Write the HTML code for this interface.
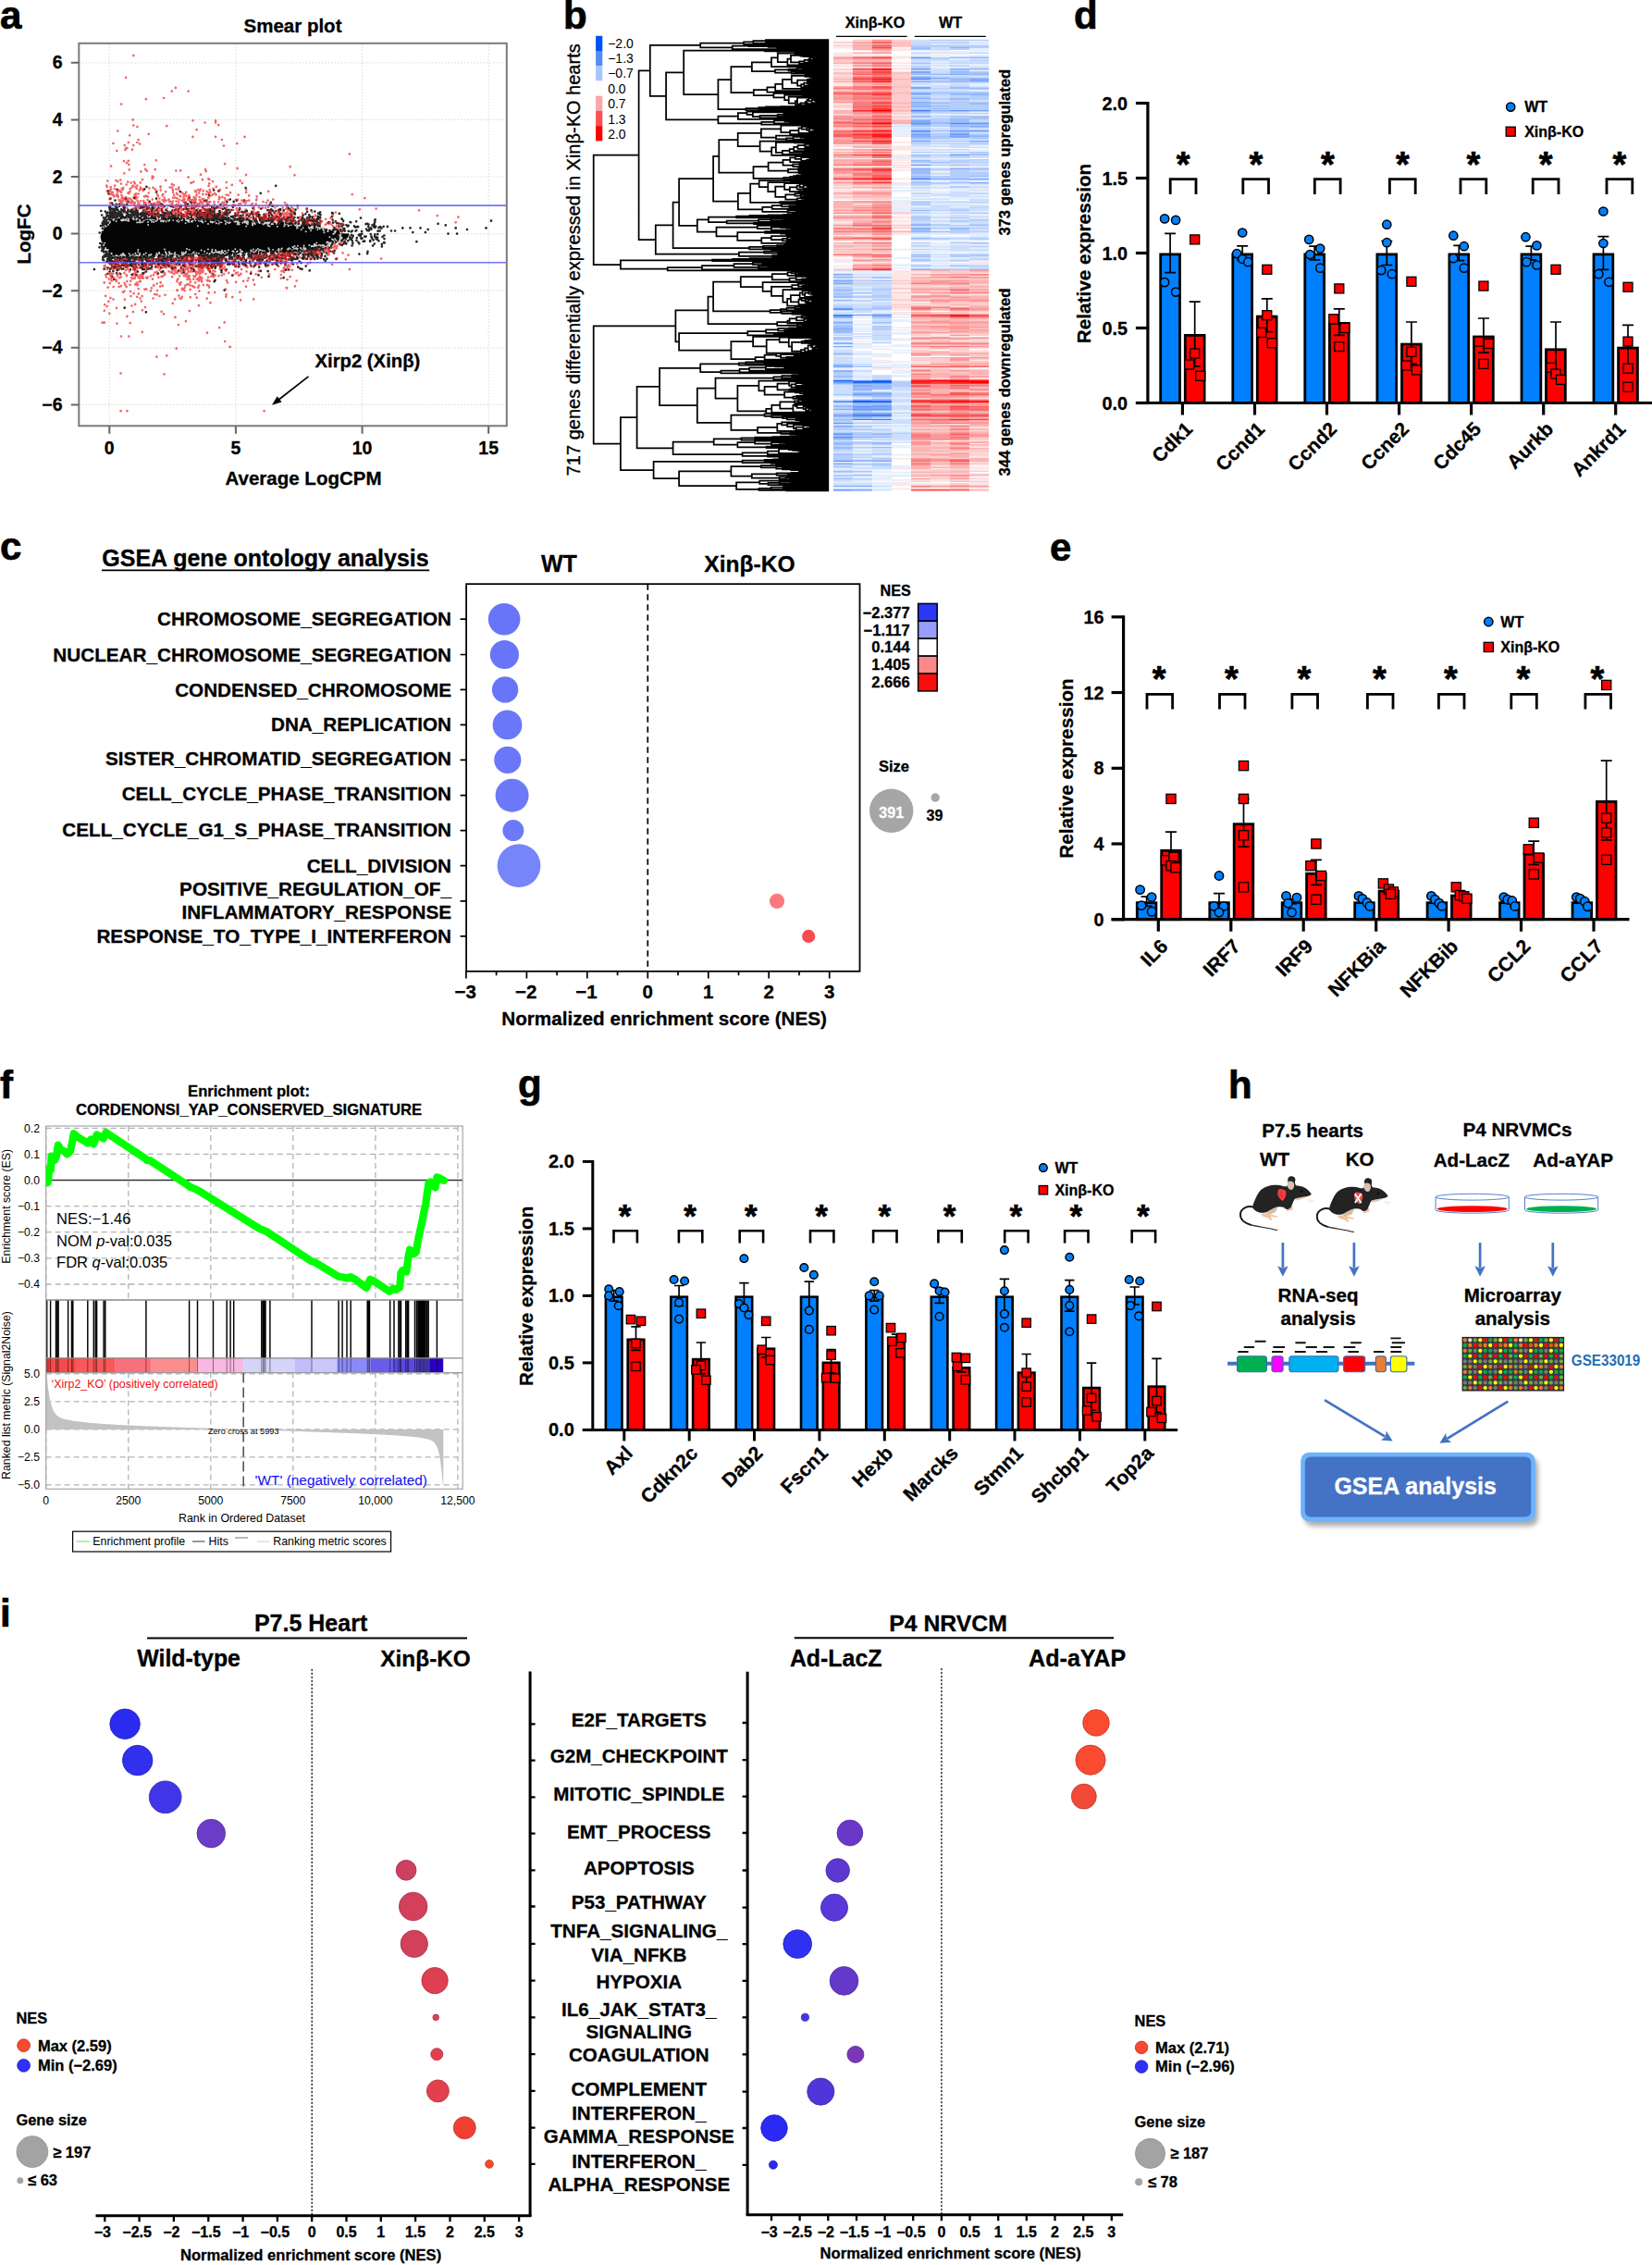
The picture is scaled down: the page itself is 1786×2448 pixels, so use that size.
<!DOCTYPE html>
<html><head><meta charset="utf-8"><title>Figure</title>
<style>
html,body{margin:0;padding:0;background:#fff}
svg{display:block}
text{font-family:"Liberation Sans", sans-serif}
</style></head><body>
<svg width="1786" height="2448" viewBox="0 0 1786 2448" font-weight="bold">
<rect width="1786" height="2448" fill="#fff"/>
<g id="pa">
<text x="0" y="31" font-size="42" stroke="#000" stroke-width=".7">a</text>
<text x="316.5" y="34.5" font-size="20.5" text-anchor="middle" stroke="#000" stroke-width=".3">Smear plot</text>
<path d="M85.3 437.4H547.8M85.3 375.8H547.8M85.3 314.2H547.8M85.3 252.6H547.8M85.3 191H547.8M85.3 129.4H547.8M85.3 67.8H547.8M118.3 46.8V460.3M254.9 46.8V460.3M391.6 46.8V460.3M528.2 46.8V460.3" stroke="#ddd" stroke-width="1.2" stroke-dasharray="1.5 2" fill="none"/>
<path d="M108.5 255.8 L111.2 245.6 L113.9 241.9 L116.7 240 L119.4 237.6 L122.1 235.4 L124.9 234.5 L127.6 235.2 L130.3 234.2 L133.1 234.4 L135.8 233.6 L138.5 234 L141.3 235.6 L144 235.3 L146.7 235.6 L149.5 234.7 L152.2 235 L154.9 236.1 L157.7 234.9 L160.4 235.7 L163.1 235.5 L165.9 234.8 L168.6 236.1 L171.3 235.6 L174.1 235.2 L176.8 234.7 L179.5 236 L182.3 236.7 L185 237 L187.7 235.5 L190.5 235.3 L193.2 235.8 L195.9 236.1 L198.7 235.6 L201.4 236.5 L204.1 237.5 L206.8 236.3 L209.6 236 L212.3 237 L215 237.8 L217.8 237.6 L220.5 237.9 L223.2 237.8 L226 237.3 L228.7 238.1 L231.4 237.2 L234.2 236.6 L236.9 237.9 L239.6 237.8 L242.4 236.6 L245.1 238.3 L247.8 238.3 L250.6 237.6 L253.3 238.9 L256 238.2 L258.8 237.1 L261.5 238.2 L264.2 238 L267 237.7 L269.7 237.9 L272.4 239 L275.2 239.8 L277.9 240 L280.6 239.9 L283.4 239.7 L286.1 240.6 L288.8 240.5 L291.6 240.8 L294.3 239.7 L297 240.6 L299.8 240.5 L302.5 239.6 L305.2 240.6 L308 241.6 L310.7 241.2 L313.4 240.3 L316.2 242.1 L318.9 241.2 L321.6 241.3 L324.4 241.6 L327.1 241.2 L329.8 242.9 L332.6 243.5 L335.3 243 L338 243.9 L340.8 243.2 L343.5 243.5 L346.2 243.9 L349 245.6 L351.7 245.9 L354.4 247.5 L357.2 247.9 L359.9 247.3 L362.6 248.3 L365.4 249.2 L368.1 251.7 L370.8 252.6 L373.6 252.6 L376.3 253.1 L376.3 257.2 L373.6 257.3 L370.8 259.8 L368.1 260.8 L365.4 261.5 L362.6 261.2 L359.9 263.4 L357.2 263.9 L354.4 265.8 L351.7 267.3 L349 267 L346.2 266.9 L343.5 267.2 L340.8 267.2 L338 269.3 L335.3 268.5 L332.6 268.9 L329.8 270.2 L327.1 269.9 L324.4 269.7 L321.6 272 L318.9 271.9 L316.2 270.4 L313.4 272.2 L310.7 272.2 L308 272.7 L305.2 272 L302.5 271.1 L299.8 273.1 L297 272.8 L294.3 273.4 L291.6 272 L288.8 273.2 L286.1 273.8 L283.4 274.2 L280.6 274.1 L277.9 274.5 L275.2 273.4 L272.4 274.1 L269.7 273.4 L267 273.6 L264.2 275.3 L261.5 274.3 L258.8 274.3 L256 274.7 L253.3 275.1 L250.6 275.6 L247.8 275.2 L245.1 275.8 L242.4 276 L239.6 274.5 L236.9 275.6 L234.2 274.8 L231.4 274.8 L228.7 275.8 L226 275 L223.2 276.4 L220.5 275.4 L217.8 276.9 L215 276.2 L212.3 275.8 L209.6 276.8 L206.8 275.3 L204.1 276 L201.4 276.2 L198.7 275.7 L195.9 276.8 L193.2 276.6 L190.5 277.3 L187.7 276.8 L185 276.7 L182.3 277.2 L179.5 276.7 L176.8 278.1 L174.1 277.8 L171.3 276.7 L168.6 277.4 L165.9 277.2 L163.1 278.1 L160.4 277.6 L157.7 278 L154.9 278.6 L152.2 279 L149.5 278.4 L146.7 278 L144 277.6 L141.3 279.2 L138.5 278.9 L135.8 279.5 L133.1 278.8 L130.3 277.7 L127.6 279.4 L124.9 278.2 L122.1 279.6 L119.4 276.5 L116.7 273.6 L113.9 270.6 L111.2 266.9 L108.5 256.1 Z" fill="#050505"/>
<path d="M279.6 273.4h0M211 275.7h0M234.2 272.6h0M132.6 235.5h0M230.4 276h0M143.1 277.3h0M263.5 238.3h0M324.7 242.5h0M280.8 240.6h0M115.7 270.2h0M246.8 270.6h0M324.6 269.1h0M117.4 274.4h0M262.4 239.7h0M251.4 271.4h0M343.2 245.3h0M324.9 268h0M115 240.9h0M311.7 271.9h0M146.9 277.3h0M254.6 238.7h0M235.4 273h0M339.4 269h0M310.6 242.4h0M255.9 271.9h0M241.4 274.6h0M290 244.1h0M241.9 275.7h0M291.6 244.4h0M162.7 237.5h0M145.7 277h0M284.4 240.3h0M129.1 235.1h0M150.2 240.2h0M147.2 276.9h0M357.4 247.3h0M339.9 263.8h0M152 234.8h0M368.2 251.5h0M192.8 237.1h0M115.2 240.5h0M196.2 235.9h0M243.1 271.2h0M169.4 274.1h0M131.9 238.6h0M180.3 276.6h0M322.9 243.7h0M243.8 238.9h0M292 272.5h0M157.7 273.6h0M179.9 274.5h0M131.8 275.6h0M127.4 277h0M253.7 238h0M271.5 272.5h0M138.5 278.7h0M178.1 277.2h0M189.3 275.2h0M185.4 277h0M368.3 255.8h0M114.1 269.1h0M226.2 236.7h0M280.6 241h0M166 277.8h0M199.1 275.1h0M124.2 278.1h0M113.8 242.4h0M282.8 239.1h0M336.1 246.1h0M121.8 276.6h0M151 237.1h0M195.5 235.7h0M173.6 235.4h0M197.2 275.6h0M233.3 276.1h0M133.7 274.4h0M147.5 277h0M273.6 273h0M262.1 272.7h0M338.3 246.6h0M308.5 242.7h0M277.1 270.6h0M324.3 241.5h0M146.3 273.8h0M324.7 270.6h0M275.5 273.9h0M207.9 239.6h0M272.7 273.1h0M237.1 275.1h0M352.2 266.5h0M281.3 273.9h0M320.2 243.8h0M171.1 277.6h0M229.6 240.6h0M130 234.3h0M277 270.4h0M265.8 238h0M189.1 273h0M113.3 262.7h0M135.9 278.5h0M285.5 239.5h0M231.1 274.1h0M368 260.4h0M232.9 237.8h0M229.3 239.3h0M348.1 267.6h0M129.5 277.2h0M357.5 262.2h0M266.8 241.2h0M170.2 237.8h0M212.4 273.6h0M227.1 236.6h0M298.9 240.9h0M328.3 268.8h0M194.4 236.4h0M350.6 266.2h0M344.2 243.7h0M211.4 275.8h0M203.8 236.1h0M183 272.3h0M326.8 242.4h0M362.2 249.7h0M242.8 275.2h0M221.2 271.7h0M320.9 246.4h0M252.7 272.2h0M122.9 238.1h0M277.4 239.9h0M236.2 274.7h0M183.3 237.9h0M302 241.4h0M235.6 237.9h0M141.2 276.1h0M320.9 270.2h0M227.7 239.6h0M146.3 278.8h0M173.5 277.3h0M172.2 236h0M320.2 268.2h0M217.3 239.3h0M303.7 270.9h0M126.2 235.5h0M259.2 239.8h0M273.6 272.1h0M134.1 276.2h0M222.2 239h0M330.4 268.4h0M308.4 242.2h0M361.5 251h0M350.7 244.6h0M362.5 262.5h0M149.6 276.8h0M354.5 250h0M110.5 262.6h0M170.5 276.7h0M143.3 236.1h0M247.3 237.5h0M128.4 278.1h0M210.9 276.8h0M249.6 237.3h0M182.4 238.8h0M233.5 271.6h0M252.1 271.4h0M189.9 276.4h0M160.5 236.4h0M220.3 237.3h0M169 276.7h0M204.2 240.1h0M161.5 235h0M163.4 275h0M191 277.2h0M307.5 242h0M138.4 238.7h0M236 272.3h0M356.4 264.4h0M116.2 273.3h0M217.9 275.4h0M295 242.2h0M300.3 270.6h0M158.3 235.7h0M118.4 241.1h0M225 269.6h0M110.8 248.4h0M339.9 267.6h0M208.8 237.3h0M122.9 236.3h0M160.9 235.6h0M343 266h0M274.1 272.6h0M120.7 273.7h0M230.6 276.1h0M343.4 248.2h0M204.3 239.6h0M178.2 236.2h0M350.1 249.2h0M348 267.6h0M116.4 270.5h0M231 239.4h0M315.2 241h0M239 274.7h0M318.5 242.7h0M267.8 242.2h0M333.7 245.4h0M130.6 275.6h0M211.8 276.8h0M118.9 237.4h0M151.8 240.6h0M178.9 272.3h0M164.2 239.2h0M226.1 276.4h0M144.6 237.3h0M304.3 269.8h0M312.6 241.3h0M206.9 239.4h0M161.8 277.6h0M183.2 275.8h0M194.8 235.7h0M246.7 273.7h0M279.7 271.6h0M322.8 242.7h0M347.5 266.4h0M123.2 278.1h0M351.6 246.7h0M266.7 274.7h0M137.6 234.6h0M146.8 276.2h0M369.7 256.9h0M162.9 276h0M322.7 241.6h0M191.2 275.9h0M118.3 237.9h0M136.4 234.4h0M282.5 273.1h0M152.6 235.4h0M216.5 237.7h0M123.4 236.2h0M217.6 270.5h0M204.6 270h0M211.5 236.2h0M344.2 244h0M139.6 274.3h0M229.8 273.1h0M143.8 275.2h0M346.3 266.8h0M258.8 237.6h0M200.4 275.5h0M245.4 273.3h0M319.1 269.7h0M188.4 274.4h0M124 234.2h0M132.5 275.8h0M271.3 270.4h0M325.4 270.5h0M353.8 265.8h0M209.7 272.6h0M321.9 265.7h0M120.8 277h0M211.3 238.2h0M252.9 238.6h0M174.8 237h0M281.2 240.4h0M111 245.6h0M230.9 237h0M229.1 271.5h0M320.5 241.9h0M221.9 275.6h0M318.4 270.4h0M349.5 244.8h0M312 269.1h0M208.2 275.9h0M116.8 269.9h0M321.7 271.5h0M144.3 235.5h0M316.5 267h0M127.1 235.4h0M194.2 237h0M345.1 245.9h0M348.9 265h0M263.8 274.7h0M157.4 277.8h0M275.4 240.9h0M153.9 239.9h0M140 277.3h0M336.7 267.5h0M175.5 235.3h0M207.7 238.7h0M260 238.1h0M169.8 277.1h0M187.1 238.1h0M336.1 249.3h0M300.4 272.5h0M272.5 240.5h0M243.2 274.5h0M279.7 272.6h0M124.2 234.8h0M248.8 240.3h0M261.6 274h0M233.4 272.5h0M113.8 269.9h0M126.6 276.5h0M336.3 244.4h0M113.1 243.7h0M264.5 240.5h0M238.1 274h0M344.7 267.7h0M158.3 278.2h0M125.3 276h0M354.4 265.7h0M217.4 236.9h0M190.4 237.1h0M272.6 238.3h0M329.3 242h0M131 238.1h0M178 269.5h0M142.1 234.7h0M253.9 239.4h0M288.1 240.8h0M342.3 262.5h0M338.6 266.3h0M328.6 265.4h0M355.4 247.2h0M266.2 240.4h0M345.7 247.3h0M111.8 267h0M223.6 274.3h0M165.1 277.2h0M256.8 275h0M137.8 278.6h0M199.6 277h0M146 278.2h0M291.1 270h0M204.5 275.6h0M338.5 244.4h0M139.2 277.9h0M356.6 263.3h0M184.7 274.2h0M144.5 278.2h0M177.9 237.6h0M176.7 239.6h0M346.5 245.4h0M331.1 270.2h0M244.8 275.2h0M200.1 275.3h0M334 269.4h0M259.3 237.6h0M162.6 278.2h0M111.2 248.7h0M324.4 243.4h0M263.9 239.2h0M321.8 270.8h0M239.5 271.6h0M237.4 274.3h0M273.1 243.5h0M341.7 265.1h0M219.7 275h0M221.2 274.9h0M208.6 275.6h0M264.3 274.5h0M200.6 241.3h0M227 237.3h0M154.1 235.3h0M170.1 237h0M230.1 274.1h0M306.1 272.4h0M297.9 272.4h0M200.6 273.5h0M195.3 277h0M368.4 253.8h0M360 263.3h0M148.6 235.9h0M300.5 239.9h0M346.7 245.4h0M163.7 235.2h0M331.9 242.1h0M290.1 240.6h0M266.8 238.3h0M111.5 264.8h0M259.1 239.1h0M329.8 268.8h0M228 240.1h0M177.6 276.3h0M214 275.5h0M175 235.7h0M333 270h0M342.3 243.9h0M237.3 273.4h0M120 274.9h0M354.3 249.9h0M136.3 238.3h0M243.1 238.1h0M245.5 237.2h0M367.2 258.1h0M212 276.3h0M275.6 242.2h0M181.3 236.3h0M347.8 244.6h0M260.7 274.5h0M354.1 261.5h0M368.2 252.1h0M351.4 266.7h0M320.3 268.2h0M168.8 277.5h0M201.8 238.1h0M252.5 275.1h0M312.6 243.6h0M179.5 239.5h0M288.6 240.4h0M319.2 243.5h0M203 237.2h0M271.9 271.6h0M281.3 240h0M210.1 275h0M325.1 241.4h0M325.9 269.6h0M280.8 270.2h0M175 276.8h0M260.3 274h0M313.9 269.3h0M344.8 265h0M363.8 259.7h0M283.7 240.2h0M247.9 241.1h0M284.4 271.8h0M170.9 277.4h0M233 270.2h0M292 272.8h0M239.4 274.7h0M290.8 241.2h0M282.8 240.8h0M359.5 262h0M157 235.1h0M268.4 238.5h0M320 268.5h0M343.1 268.3h0M165.5 236.6h0M333.8 244.1h0M198.7 276.7h0M175.4 275.5h0M324.7 243h0M196.7 238.3h0M336.8 246.7h0M315.7 241.1h0M160 239.9h0M132.8 273.9h0M213.7 237h0M188.1 277.3h0M122.1 237h0M315 243h0M270.2 273.7h0M229 272.3h0M136.4 277.2h0M136.2 277h0M205.9 276.2h0M177.1 238.6h0M158.1 277.3h0M276.7 271.6h0M239.3 273.8h0M219.4 240.6h0M226 274.8h0M368 257.5h0M233.5 237.8h0M232.7 275.9h0M272.9 242.4h0M141.7 278.9h0M166.8 277.9h0M296.9 272.7h0M227.1 274h0M304.1 271.4h0M299.6 272h0M239.4 240.3h0M347.3 267.8h0M113.9 270.5h0M211.1 236.3h0M333.6 243.9h0M268.2 240.4h0M224 273.8h0M147.7 276.2h0M273.6 241.3h0M233.9 241.3h0M257.3 239.1h0M182.8 238.4h0M114.1 267.9h0M266.2 244.4h0M174 238.9h0M287.9 272.8h0M110.5 248.6h0M179.7 273.5h0M340.5 266.3h0M185 275.6h0M258.6 242.6h0M363.3 249.5h0M253.9 238.2h0M162.1 278h0M212.8 275.9h0M350.5 266.6h0M132.9 236.9h0M310.6 269.6h0M177.5 237.2h0M233.8 275.5h0M157 236.3h0M204.3 238.6h0M148.8 276.8h0M349.6 245.4h0M274.4 273.5h0M150.6 276.8h0M115.4 270h0M163.2 236.4h0M350.4 245.6h0M220.7 236.9h0M360.3 252.9h0M329.2 242.2h0M131.8 277.6h0M119.1 238.3h0M356 263.1h0M334.2 246.2h0M133.5 236h0M256.7 271.5h0M212.2 237.2h0M330.7 250.3h0M167.7 276.4h0M354.6 249.2h0M117.3 273.6h0M177.1 236.6h0M306.1 272h0M285.8 241.4h0M279.5 240.2h0M194.2 237.7h0M208.7 237.7h0M172 273h0M231.6 273.2h0M317.5 270.1h0M352.6 246.1h0M340.8 267.6h0M350.5 251.4h0M328.8 268.3h0M323.8 241.7h0M140.1 235.4h0M124.8 235.3h0M253.8 274.1h0M218.7 276h0M150.5 236.5h0M318.9 241.6h0M237.6 239.9h0M149.9 277.9h0M273.9 269.5h0M141 277.1h0M362.1 258.2h0M350.3 266.9h0M211.4 236.9h0M298.7 240.2h0M147.6 275.7h0M242.7 238.1h0M110.6 247.5h0M346.9 265.2h0M182 276.6h0M310.1 271h0M161.2 275.6h0M299.9 244.8h0M155.6 275.2h0M320.8 243.6h0M162.6 277.1h0M328.5 267.6h0M244.7 239.7h0M334.6 247h0M133.6 236.6h0M336.5 244.4h0M174.6 239.3h0M259.4 274.3h0M202.6 236.9h0M202.7 276.9h0M322.1 241.8h0M259.7 269.8h0M185.8 274.5h0M243.4 275h0M115.5 272.6h0M136.8 235.8h0M254.3 269.3h0M301.9 240.5h0M114.7 244.8h0M136.8 278.5h0M296.3 272.7h0M262.2 240.7h0M138.7 277.8h0M263.8 274.2h0M148.3 234.4h0M324.6 242.7h0M290.3 268.2h0M311.8 244.3h0M214.1 237.3h0M256.6 242.6h0M321.7 270.9h0M286.7 240.3h0M174.8 235.3h0M138.4 278.7h0M128.1 235.1h0M168.6 238.9h0M361.9 251.7h0M339.7 265.3h0M119 239.7h0M273.2 272.5h0M271.4 238.5h0M171.5 277.8h0M184.8 236.3h0M125.8 235.1h0M132 276.2h0M339.9 244.4h0M260 237.6h0M251.9 238.4h0M268.5 273.6h0M294.5 240.9h0M341.6 245.7h0M190.7 275.5h0M196.7 274.6h0M262.2 274.9h0M350.1 266.1h0M254.6 238.8h0M180.2 276.5h0M151.3 274.1h0M267.4 238.9h0M210.8 236.4h0M202 268.9h0M286 272.6h0M218.3 237.5h0M268.7 239.4h0M323.3 271.2h0M307.3 244.6h0M179.9 276.7h0M216.7 276h0M239.4 271.8h0M336.7 267.1h0M208.6 236.8h0M201.7 238h0M211.5 236.3h0M303.7 240.1h0M208.9 237h0M147.7 236.5h0M261.1 274.1h0M361.7 261h0M359 258.4h0M358.3 263.5h0M122.4 234.7h0M191.2 238.8h0M244.4 239h0M264.5 239.5h0M227.7 274.8h0M135.8 237.1h0M240.2 270.8h0M236.5 241.7h0M309.3 241.8h0M134.1 238.3h0M192.7 275.9h0M138.8 237.1h0M289.2 241.4h0M322 269.1h0M241.2 275.1h0M256.8 274.9h0M201.8 277h0M110.8 265.5h0M348.2 246.3h0M283.6 270.8h0M155.6 238.6h0M243.6 271.6h0M259.3 238.8h0M244.7 274.9h0M117.6 273.6h0M323.8 243.9h0M319.5 269.3h0M260.4 271.8h0M295.9 239.5h0M273.3 273.7h0M200.7 236.2h0M167.2 235.3h0M261.4 271.6h0M174.8 276.5h0M151.5 276.3h0M321.9 246.2h0M218.7 239.4h0M356.7 264.3h0M285.9 271.3h0M294.9 271.7h0M315.9 270.5h0M208.5 276.1h0M362.3 250.6h0M197.1 237.3h0M197.3 274.5h0M347.1 267.2h0M210.7 236.5h0M119.2 274.7h0M198.7 277.2h0M161.1 276.9h0M254.2 239.8h0M151.4 238.8h0M166.3 239.9h0M164.1 239.7h0M241.2 273.3h0M354.7 249.2h0M264.8 240.1h0M174 276.6h0M142.7 278.4h0M331.3 243h0M117.6 274.1h0M132.4 276.7h0M311.6 270.4h0M138.4 237.8h0M319.2 242.2h0M132.9 238.1h0M142.8 234.8h0M346.1 265.3h0M353.3 262.2h0M282.4 239.5h0M343 266.2h0M174.6 238.7h0M201.5 276.6h0M347.1 266.7h0M295.1 270h0M221.9 238.5h0M150.7 275h0M354.6 264.6h0M258.1 241.1h0M259.5 273.4h0M139.1 238.7h0M262 271.8h0M363 260.3h0M311.9 240.8h0M304.7 268.6h0M369.2 258.1h0M183.1 273.8h0M225 242h0M289.7 243.3h0M163.6 278.1h0M237.2 271.9h0M319.3 241.8h0M155.4 274.7h0M251.3 274.9h0M360.3 261.9h0M162.4 237h0M145.7 235.3h0M172.9 236.8h0M144.7 234.8h0M293.8 271.8h0M196.7 272.8h0M154 277.2h0M265.5 239.3h0M163.7 237.2h0M113.3 242.4h0M183 276.8h0M138.8 235.4h0M194.3 236.1h0M257.9 238h0M112.9 243.6h0M131.9 237.5h0M138.3 234.5h0M358.5 248.5h0M112.3 265.2h0M277.4 239.1h0M304.2 271.7h0M311.2 271.7h0M275.8 272.6h0M136.6 234.2h0M158 237.1h0M193.2 239.7h0M327.6 246.2h0M172.3 274.1h0M349.2 247.5h0M345.1 264.9h0M151 234.6h0M266.6 273.6h0M146 235.9h0M133.4 277.4h0M166.8 237.4h0M110.8 246.6h0M124.5 234.6h0M341.3 265h0M324.6 269.8h0M208.5 273.6h0M200.5 275.9h0M231.8 239.6h0M248.9 275.4h0M363.1 262.3h0M285.7 239.8h0M256.8 240.4h0M278.2 239.4h0M334.8 268.6h0M302.2 271.2h0M148.2 240.6h0M203.6 274.8h0M256.7 237.5h0M361.6 261.3h0M252.4 274.7h0M278.8 268.9h0M247.9 237.6h0M229.1 274.4h0M301.1 270.3h0M317.9 268.5h0M334.3 264.9h0M243.9 242h0M325.7 248.2h0M159.9 236.7h0M311.3 269.5h0M215.1 274h0M206.8 274.9h0M229.5 269.7h0M293.8 240.3h0M366.8 260.6h0M256.3 239.6h0M198.7 273.3h0M324.5 271.1h0M246.3 240.4h0M297.5 272h0M202.5 238.2h0M318.6 265.9h0M173 236.3h0M160.2 242.9h0M224.3 275.4h0M236.8 275.5h0M254 238.9h0M337 244.6h0M175.1 238.3h0M356.4 256.3h0M236.6 238.2h0M336.8 266h0M277.5 240.2h0M329 269.6h0M169.6 275.3h0M203.8 276.5h0M272.3 273.2h0M154.2 234.9h0M231.7 239.1h0M191.7 237.8h0M115.4 240.9h0M337.6 266.3h0M147.4 237.6h0M181.1 237.5h0M261.8 272.3h0M367.7 255.8h0M134.8 276.1h0M311.1 270.8h0M316.6 270.2h0M287 241.4h0M204.3 276.5h0M201.1 238h0M284.5 242.6h0M240.9 272.6h0M149.3 270h0M112 246.3h0M310.6 270.7h0M262.5 274.3h0M298.8 241.8h0M129.2 278.4h0M156.5 235.2h0M366.5 254.1h0M297.4 272.3h0M327.8 243.3h0M177 276.6h0M307 240.1h0M122.5 234.2h0M162.1 237.4h0M161.2 275.4h0M360.2 259.3h0M337.4 245.2h0M296.8 271.8h0M337.4 246h0M349.7 265.1h0M117.1 243h0M215.3 238.7h0M316.8 267h0M272.7 239.6h0M213.8 244.3h0M336.8 266.3h0M366.5 259.8h0M217.9 236.6h0M164.7 277.8h0M203 238.9h0M262.9 273.5h0M280.8 239.1h0M321.3 244.6h0M308.3 242.1h0M293.5 242.2h0M203.9 236.1h0M233.6 237h0M149.2 272.5h0M353.4 261.8h0M141.8 277.3h0M354.1 246.4h0M301.6 269h0M312.4 268.2h0M201.2 272h0M165.4 236.8h0M344 246.1h0M344.7 267.7h0M281.5 270.3h0M214.4 237.8h0M125.7 239h0M355.4 262.2h0M118.1 275.4h0M170.2 275.2h0M194.8 237.1h0M368.3 258.9h0M364.9 255.6h0M309.8 271.4h0" stroke="#fff" stroke-opacity=".8" stroke-width="2" stroke-linecap="round" fill="none"/>
<path d="M251.8 223.8h0M152 235.6h0M116.9 280.1h0M211.6 227.9h0M223.4 232.7h0M229.8 287h0M115.2 237.8h0M226 235.5h0M303.1 226.1h0M140.9 291.4h0M176.3 286.6h0M220.4 232.7h0M124.6 226.4h0M139.5 279.2h0M287 286h0M333.5 271.1h0M344.1 267.5h0M144.8 283.2h0M336.9 275.8h0M111.5 270.7h0M286.8 232.8h0M310.1 222.2h0M180.9 229.6h0M163.9 278h0M299 284.6h0M190.2 226.5h0M374.4 263.4h0M204.1 235.2h0M287.5 234.4h0M185.9 236.6h0M293.3 226.3h0M192.7 235.5h0M339.1 242.4h0M214.7 286.4h0M220.4 232.1h0M277.8 275.4h0M262.7 273.5h0M322.9 272h0M237.8 278.3h0M157.6 233.1h0M123.6 232.3h0M283.9 237.3h0M240.9 275.3h0M172.9 276.7h0M263.1 277.7h0M284 240.2h0M144.2 286.8h0M181.6 236.6h0M179 231h0M241 232.5h0M337.2 242.7h0M115.6 233.4h0M248.3 275.7h0M186 290.4h0M222.4 277h0M119.4 231h0M228.3 281h0M184 234.5h0M336.2 275.5h0M174.5 282.3h0M115.4 230.6h0M317 238.2h0M217.3 278.7h0M221.4 277.3h0M309.2 240.7h0M287.7 238.3h0M116.7 276.1h0M135.1 281.2h0M225.6 229.6h0M222.8 230.2h0M150 235.4h0M328.7 241.8h0M195.7 233.5h0M309 279.7h0M230.7 284.7h0M215.1 283.2h0M146 230.7h0M203.3 227.5h0M136.8 284.2h0M194 285.8h0M280.5 284h0M136.5 288.7h0M253.4 274.2h0M235.2 282.8h0M122.1 278.6h0M196.5 235.1h0M224 282.6h0M219.8 237.1h0M308.6 285.9h0M144 285h0M343.7 277.7h0M130.6 233.9h0M171 285.7h0M199.2 282.4h0M242.1 276h0M155.7 223.6h0M146.8 225.4h0M286.4 274.7h0M316.4 278.3h0M254.1 280.7h0M357.8 267.4h0M153.3 230h0M213.4 233.4h0M208.1 286.5h0M293.7 238.8h0M269.3 273.6h0M219.9 282.8h0M132.4 285.4h0M220.6 236h0M141.4 282.9h0M180.4 278.8h0M219.6 232.9h0M136 214.9h0M145.1 284.8h0M216 288.2h0M306.2 271.9h0M132.6 227.7h0M228.6 274.9h0M186 276.6h0M323.7 282.7h0M154.3 287h0M323 239.8h0M209.7 292.9h0M163.5 278h0M233.8 278.6h0M136.1 283.1h0M308.8 283.9h0M175.3 236.4h0M146.4 280.6h0M319.3 280h0M344 269.7h0M280.4 232h0M339.5 268h0M293 226.9h0M194 237h0M298.7 281.3h0M369.6 236.6h0M187.2 283h0M153.6 283.8h0M212.9 234.2h0M195.7 230.5h0M335 243.8h0M112.2 267.6h0M277.6 233.5h0M138.1 230.6h0M171.2 277.4h0M202.1 234.3h0M180.7 284.4h0M218.1 282.8h0M153.7 280.5h0M295.7 236.9h0M151.9 289.2h0M111.3 280.4h0M142.4 234.8h0M364.1 241.2h0M164.7 227.1h0M235.8 234.3h0M339.5 278.4h0M133.2 235h0M332.9 269.8h0M273.9 274.5h0M152.8 289.3h0M233 232.2h0M220.2 230.1h0M187.4 233.2h0M217.4 233.9h0M321.7 222.3h0M228.5 237.2h0M185.6 278h0M177.8 282.9h0M207 282.2h0M344.1 230.6h0M336.6 237.7h0M338.2 239.1h0M144.2 230.2h0M124.9 223.4h0M268.6 274.3h0M209.4 231.3h0M327.5 242.9h0M230.5 232.2h0M230.2 237.9h0M289.8 238.5h0M262.1 284.9h0M189.2 227.1h0M309.3 239.3h0M313.4 274.5h0M266.8 232.4h0M223.6 280.1h0M283.8 235.8h0M164.3 281.8h0M303.4 233.4h0M220.9 280.5h0M198.2 291.5h0M313.5 241.8h0M231.5 233.7h0M189.3 233.2h0M335 234.8h0M371.3 243h0M235.2 275.9h0M192.6 284.1h0M353.4 279.7h0M139.5 232.3h0M350.1 280.2h0M220.2 275.8h0M249.9 234.2h0M192.7 282.3h0M292.8 275.6h0M332 274.9h0M239.5 292.2h0M291 230h0M274.8 236.7h0M228.9 275.8h0M283.1 235.5h0M319.8 270.9h0M326.2 237.9h0M340.9 271.9h0M223.4 236h0M298 234.8h0M133.1 235.2h0M114 241.9h0M262.7 232.5h0M121 234h0M231.1 282.8h0M247.6 237.2h0M229.3 232.7h0M206.2 229.1h0M128.2 291.2h0M186.9 223.6h0M333.7 270.7h0M185.2 280.3h0M275.8 278h0M136.9 233h0M230.9 277.1h0M185.1 236.2h0M329.4 278.6h0M198.4 277.4h0M295.1 279.8h0M138.5 281.7h0M214.6 287.8h0M313.3 271.3h0M110.2 232.5h0M141.6 277.8h0M291.4 238.5h0M130.2 296.1h0M332.1 271.1h0M216 280.1h0M342.1 240.6h0M107.5 267.3h0M297 276.2h0M302.5 230.7h0M241.9 277.3h0M322.6 239.4h0M303.9 282.3h0M225.5 236.6h0M225.7 277.7h0M146 235.5h0M345 270.8h0M119.9 281.1h0M160.7 224.7h0M137.2 288h0M336.2 274h0M218.1 279.7h0M238 232h0M202.8 234h0M160.3 290.8h0M238.8 237.3h0M365.8 249.9h0M259.6 237.9h0M124.4 288.1h0M228 229.7h0M154.3 295.7h0M179.7 280.7h0M128.5 280.9h0M332.6 239.5h0M125.6 285.8h0M234.5 231.7h0M247.2 235.5h0M299.8 272.2h0M294 240h0M112 243h0M183.2 231.6h0M337.3 237.2h0M123.2 226.2h0M239.9 281.5h0M275.6 239h0M244.3 275.9h0M303.8 231.3h0M121.8 225.5h0M238.1 288.5h0M143.4 279h0M243.9 276h0M156 230.5h0M204.9 283.8h0M131.9 286.6h0M335.7 269.7h0M243.9 281.4h0M316.1 241.1h0M111.1 280.4h0M326 271.2h0M124.5 227.1h0M125.6 220.9h0M118.1 281.7h0M157.5 235.7h0M176.9 230h0M289.3 227h0M246.1 285.6h0M256.3 278.9h0M131.3 280.6h0M169.5 231.6h0M223.1 234.5h0M133.7 287.1h0M140.8 287.2h0M245.3 236.5h0M160.9 232.8h0M328.8 237.2h0M216.1 228.8h0M111.6 269.4h0M376.4 253.8h0M128.2 287.6h0M234.5 281.2h0M313.4 273.4h0M242.9 229.8h0M164.3 288.3h0M219.9 280.3h0M248.5 229.4h0M144.3 278.8h0M164.7 280.7h0M208.9 275.4h0M132.1 234.1h0M243.8 279.8h0M339.2 238h0M343.5 240.7h0M208.9 280.7h0M327.6 274.9h0M175.6 221.4h0M120.1 225.7h0M238.3 233.6h0M338.8 273.6h0M221.6 236.4h0M130.5 229h0M308.9 277.2h0M237.5 236.9h0M127.7 285.9h0M175 228.2h0M139.3 280.1h0M332.4 241.2h0M276.8 230.9h0M202.5 234h0M216.5 280.9h0M125.5 223.8h0M299.9 276.7h0M210.6 219.1h0M235.8 286.2h0M292.8 280.3h0M293.7 240h0M110.7 269.9h0M142.8 278.1h0M346.2 270.6h0M136.1 235.1h0M178.6 233.6h0M258.6 285.6h0M144.9 285.5h0M214 229.7h0M174.6 294.1h0M314.6 228.2h0M204.2 276.6h0M118.7 277.4h0M202.9 236h0M197.1 232.1h0M135.4 285.8h0M144 229.2h0M258.4 285.4h0M148.3 233.6h0M334.7 292.4h0M231.5 276.8h0M211.3 230.5h0M211.7 232.2h0M116.5 282.5h0M275.8 286.7h0M213.1 234.4h0M119.9 283.6h0M272.5 273.1h0M151.8 225h0M129.1 222.8h0M256.1 276.7h0M169.9 226.7h0M351.5 276.9h0M119.1 235.6h0M121.3 232.2h0M218.2 286.2h0M307.7 236.9h0M236.6 282.4h0M216 227.7h0M182.5 288h0M207.3 219.3h0M252.6 235.6h0M136.6 277.7h0M223.9 221.5h0M217.7 233.3h0M355 240.7h0M134.7 224.7h0M110.1 263.7h0M295.2 272.1h0M341.2 242.4h0M159.2 230.9h0M147.4 288.3h0M317 271.2h0M300.2 283.2h0M322.8 241.7h0M257.6 236.8h0M259 277.1h0M220.8 235h0M146 280.1h0M326.8 235h0M208.3 278.2h0M262.3 278.9h0M214.6 279.1h0M190.8 236.8h0M162.8 231.4h0M340.6 241.9h0M312.9 235.7h0M228.1 282.4h0M303.1 271.9h0M181.3 281.6h0M184.8 284h0M271.4 275.5h0M313.7 276.2h0M207.8 278.4h0M345.5 242.5h0M153 233.8h0M344.2 236.9h0M233.1 235.7h0M351.7 281.8h0M315.7 239.6h0M334.7 269.1h0M338.8 274.1h0M270.7 231.5h0M245.3 282.6h0M110.8 246.8h0M116 277.1h0M245 275.6h0M117.9 274h0M250.5 227h0M110.1 265.6h0M214.6 236.6h0M170.4 283.3h0M246.8 274.3h0M224.1 233.4h0M138.8 281.8h0M187.5 280.8h0M167.8 236.3h0M146.5 286h0M245.1 237h0M343.5 235.4h0M202.6 230.3h0M276.3 285.2h0M176.9 233.3h0M355.3 268.8h0M341.1 275.1h0M152.9 285h0M234 234.7h0M228.7 279.7h0M322 235.3h0M260.8 238.9h0M277.8 239.7h0M328.7 279.3h0M161 232.4h0M227 228.4h0M235.4 233.5h0M215.8 275.8h0M138.9 234.6h0M335.9 280h0M337.4 268.4h0M219.3 233.7h0M265.6 281.3h0M126.7 226.9h0M117.4 279.9h0M236.5 236.7h0M133.8 226.4h0M238.5 221.1h0M163.8 234.2h0M361.6 270.9h0M297.8 285h0M191.7 277.8h0M215.8 228.7h0M294.4 236.2h0M116.4 279.9h0M200.4 275.9h0M319.2 270.9h0M262.4 284.4h0M236 279.6h0M159.5 231.1h0M296.3 271.8h0M360.1 240.7h0M259.1 225.1h0M348.1 274.8h0M335.4 234h0M214.5 280h0M224.4 234.4h0M322.4 271.4h0M174.9 226h0M195.9 236.2h0M281 235.3h0M306.7 227.3h0M234.7 234.3h0M332.6 270.9h0M329.8 274.7h0M221.8 275.5h0M113.5 277.5h0M333.6 270.6h0M224.7 228.2h0M232.5 284.9h0M300.3 238.3h0M131.6 290.6h0M229.8 276.9h0M240.8 226h0M285.3 238.1h0M164.7 232.5h0M245 228h0M179.6 280.2h0M288.2 238.5h0M336.5 227.3h0M227.2 234.8h0M292.9 273.6h0M124.8 280.7h0M147.2 228.9h0M113.9 275.4h0M235.6 231.8h0M359.9 230.7h0M235.8 276.6h0M189.4 233.9h0M292.5 229.6h0M182.7 287h0M245.7 275.3h0M338.1 272.8h0M116.6 229.6h0M146.9 284.1h0M285.3 272.9h0M136.7 282h0M126.1 232.4h0M265.4 286.1h0M334.4 238.2h0M271.2 295.7h0M355.5 240.3h0M262 229.1h0M128.7 279.9h0M230.7 235.2h0M290.9 232.8h0M117.7 234.2h0M231.5 275.4h0M122.2 221.6h0M271.5 239.2h0M325.7 237.5h0M338.2 271.4h0M120.9 233.5h0M259.3 279.4h0M339.4 270.5h0M237 231h0M271.4 287.5h0M280.6 278h0M115.3 283h0M207.5 279.9h0M272 239.4h0M228.5 278.1h0M163.6 225.9h0M341.5 241.4h0M164.7 230.7h0M121.2 298.8h0M176 230.6h0M123.1 227.8h0M187.4 233.9h0M118.9 230.1h0M291.4 279.9h0M319.8 275.1h0M186.6 232.7h0M201.3 225.8h0M167.5 284.3h0M122.1 228.5h0M224.5 282.8h0M160 279.1h0M224.8 238h0M314.2 231.5h0M352 268.2h0M230.9 233.5h0M292.7 279.7h0M113 236.7h0M238.8 236.3h0M318.5 229.6h0M231.5 232.3h0M218.2 236.1h0M206 277.4h0M274.9 287.4h0M312.2 280.4h0M206.5 218.7h0M306.8 235.1h0M167.5 234.4h0M244.7 226.9h0M238.9 276.5h0M145.5 232.1h0M165.2 235.3h0M130.5 282.4h0M147 278h0M221.8 279.3h0M264.1 275.6h0M145.7 213.8h0M343.7 267.5h0M111.6 241.3h0M114.7 274.7h0M186.1 277.4h0M335.7 272.8h0M211.4 230.7h0M327.8 275.9h0M230.3 296.5h0M108.2 263h0M239.5 278.9h0M141.7 283.8h0M287.6 239h0M239.6 287.2h0M275.8 275.2h0M265.8 287.3h0M366.4 244.6h0M224.4 289.5h0M110.7 241.1h0M252.7 217.9h0M177.1 234.6h0M148.2 278.6h0M294.6 233.7h0M121.2 232.2h0M356.7 271.5h0M164.9 223.8h0M110.6 267.9h0M140.6 228.8h0M230.4 279.9h0M359.7 272h0M132.8 277.9h0M248.6 277.9h0M330.4 231.3h0M231.9 237.8h0M149.6 280.8h0M296.5 277.3h0M126.7 224.6h0M182.2 280.9h0M190.4 285.6h0M306.2 272.6h0M218.7 289.3h0M226.9 226.2h0M141.4 284.6h0M228 235h0M229.4 277.1h0M230.1 278.1h0M206.5 286h0M346.5 232.3h0M214.7 275.8h0M231.5 232.9h0M329.4 275.9h0M215.9 281.4h0M118.8 237.6h0M201.3 223.4h0M122.6 228.4h0M281.1 274.5h0M316.5 238.5h0M229.8 235.6h0M210.4 230.3h0M319.3 274.3h0M247.3 274.8h0M147.1 284.1h0M216 237.4h0M294.5 285.6h0M236.7 277.1h0M272.4 228.9h0M123.3 227.8h0M194.6 223.3h0M129.6 280.3h0M187 290h0M176.2 293.3h0M115.1 272.7h0M243.1 231.7h0M116.3 233.1h0M173.1 280.8h0M143.2 277.9h0M185.2 277.7h0M219.4 233.1h0M142.9 231.2h0M225.3 235.4h0M139.4 286.8h0M174.4 284.5h0M337.2 270.7h0M285.4 279h0M119.6 233h0M315.4 233.2h0M163.4 235.8h0M235.1 276.9h0M349 270.5h0M345 267.2h0M135.4 286.2h0M272.1 277.6h0M149 230.2h0M152.7 279.1h0M252.4 235.4h0M181.7 285.2h0M232.9 282.6h0M336.7 275.8h0M333.8 275.4h0M254.1 232.9h0M237.2 233h0M203.5 227.7h0M124.5 285.7h0M249.1 278.4h0M262.4 279.6h0M233.2 275.6h0M190.6 236.1h0M130.2 288.4h0M176.5 284.3h0M262.7 237.8h0M299.4 272.3h0M294.9 280.6h0M143.1 287.8h0M236.6 285h0M117.8 276.7h0M118.5 284.6h0M175.3 282.6h0M216.8 232.4h0M194.4 279h0M177.8 236.2h0M281.4 236.6h0M164.2 228.1h0M167.1 230.8h0M216.9 281.3h0M216.3 282.1h0M223.4 282.2h0M128.1 286.6h0M226.8 279.1h0M270.1 282.8h0M343.7 241.5h0M344.7 235h0M184.8 230h0M368.4 248.1h0M224.1 275.6h0M331.7 237.2h0M189 281.1h0M303.6 284.4h0M278 280.9h0M233.2 288.1h0M339.8 269.2h0M161.9 281.8h0M167.9 234.8h0M226.5 279.4h0M275.8 236.8h0M281.5 277.3h0M185.4 277.7h0M230.6 281.5h0M278.9 279.7h0M234.6 237.5h0M203 230h0M337.4 238.3h0M126.6 280.6h0M143.4 226.7h0M273.6 225h0M184.4 277.9h0M207.6 279.7h0M137.5 233.1h0M278.5 278.8h0M237.2 275.9h0M112.4 242.3h0M281.5 284.8h0M292.5 279.2h0M192.8 228.7h0M257.2 232.4h0M154.1 291.1h0M328.9 240.8h0M343.3 275.3h0M160.4 231.2h0M235.9 231.4h0M163.2 278.7h0M166.8 284.1h0M346.1 229.4h0M251 278.4h0M333.8 273.3h0M192.6 282.6h0M181.3 228.6h0M332.2 238.7h0M298.9 277.4h0M285.4 234.5h0M331.8 240.7h0M246.7 285.4h0M245.8 232.2h0M345.1 234.9h0M232.9 274.8h0M155.5 227.2h0M183.4 235.6h0M174.8 277h0M220.4 232.2h0M257.7 283.4h0M127.7 233.3h0M328.2 242.5h0M233.1 278.3h0M244.6 291.4h0M229.8 227.8h0M298.8 233.9h0M334.9 272.6h0M327.6 232.7h0M143.1 287.1h0M246.4 285.3h0M230.3 237.5h0M147.1 229.6h0M286.3 235.1h0M235.6 278.8h0M107.7 251.5h0M330.9 240.7h0M229.6 235.2h0M309.6 237.1h0M307.6 272.9h0M148.4 279.2h0M152.8 230.3h0M254.6 287.9h0M130.7 231.7h0M123.6 282.3h0M239.5 281.7h0M333.4 242.9h0M288.6 281.6h0M177.7 231.7h0M219 224.2h0M132.2 286.2h0M143.4 296.8h0M221.3 226.2h0M218.8 276.4h0M363.5 279.9h0M159.3 225.4h0M196.9 232.5h0M119.1 280.4h0M273.8 234.7h0M246.1 230.4h0M160.7 236h0M177.1 278.4h0M221.5 234.8h0M212.5 222.5h0M128.6 280.5h0M306.2 240.8h0M179.3 234.1h0M166.3 279.8h0M174 281.3h0M263.7 279.2h0M171.5 279.8h0M260.5 281.1h0M301.5 241.1h0M157.7 233.5h0M299.5 278.2h0M256.7 276.3h0M224 236.3h0M254 233.7h0M277.9 231.4h0M239.5 294.2h0M314.7 234.7h0M167.2 284.5h0M114.9 276.5h0M253.1 285.4h0M273.3 274.8h0M229.2 229.7h0M113 237.1h0M237.1 228.6h0M208.6 281.5h0M269.3 238.1h0M122.1 234.9h0M331.8 225.5h0M212.4 237.1h0M300.6 234.5h0M228.1 233.5h0M259.8 279.1h0M121.5 228.8h0M323.9 269.9h0M230.5 230.4h0M127.7 232.2h0M227.2 276.3h0M245.9 237.3h0M175.5 280.1h0M239 284.2h0M155.2 277.6h0M179.4 279.9h0M356 267.8h0M210.4 230.2h0M241.7 234.4h0M174.6 233.8h0M334.5 235.1h0M314.3 272.7h0M183.4 233.3h0M120.4 276.3h0M127.3 233.1h0M216.7 232.2h0M133.4 290.5h0M304.7 236.9h0M197.9 286.8h0M216.1 228.6h0M250.8 277.9h0M184.3 277.2h0M223.2 283.1h0M227.9 232.9h0M331.6 237.9h0M281.7 282.2h0M330.8 243.3h0M280 234.3h0M225 226.6h0M121.3 287.4h0M333.1 271.1h0M337.4 272.3h0M116.3 275.2h0M230.9 230.8h0M242.2 230.6h0M205.7 282.4h0M171.8 285.3h0M218.2 234.1h0M124.1 234.7h0M318.3 279.7h0M292.8 235.7h0M270.3 278.5h0M166.8 230.8h0M233.7 224.6h0M112.3 281.3h0M169 280.3h0M224.7 233.9h0M304.2 275.6h0M274 236.9h0M125.4 282.3h0M229.3 224h0M157.6 235.9h0M303.1 238.6h0M339.4 275.5h0M142.8 283.2h0M272.8 278.8h0M216.8 278h0M283.3 277h0M163.9 285.7h0M259.8 279.9h0M223.4 277h0M134.1 226h0M205.3 231.6h0M167.6 283.5h0M311.1 274.9h0M209.8 225.1h0M158 293.5h0M231 230.8h0M137.2 220.9h0M231.2 224.5h0M293.9 271.8h0M154.2 224.4h0M119.1 237.6h0M124.4 229h0M148.3 233.9h0M304.6 276h0M229.2 289.3h0M184.4 280.4h0M141.9 226.9h0M221.4 237.4h0M195.8 222.9h0M288 272.5h0M295 222.7h0M145.8 278.6h0M160.2 289.7h0M259.4 239h0M301.9 236.9h0M224.8 276.7h0M177.5 276.9h0M311.3 238.2h0M195.4 282h0M118 278.3h0M306.2 275.5h0M235.1 232.8h0M133.1 228.1h0M162.9 278.1h0M141.6 232h0M225.7 231.6h0M226.6 279.9h0M295.6 276.2h0M180.7 280.9h0M233 233.9h0M129.2 220.8h0M263.7 229.5h0M195.7 289.5h0M152.2 277.5h0M201.1 222.1h0M261.6 235.3h0M224 276.2h0M301.9 228.2h0M288.1 275.3h0M183.2 279.9h0M341.7 240.8h0M322 272.2h0M141.2 278.5h0M225.6 279.9h0M146.2 228.3h0M372.2 261.9h0M254.7 237.1h0M126.7 234.4h0M188.7 236.2h0M309.6 241.5h0M287.6 278.2h0M263.9 283.4h0M220 278.2h0M140.6 235.1h0M273.5 231.8h0M279.1 277h0M224 286.6h0M337.1 268.6h0M337.6 271.9h0M112.1 239.1h0M198.5 232.2h0M306.2 274.6h0M171 233.8h0M341.1 269.2h0M323.2 238.8h0M190.3 279.9h0M186.4 227.6h0M384.5 249.6h0M133.2 281.3h0M324.5 290.3h0M138.9 282.6h0M138.4 217.6h0M113.5 239.5h0M299.8 286.6h0M383 244.4h0M113.3 237.1h0M158.3 277.9h0M226.7 226.5h0M201.5 222.2h0M318.9 231.4h0M141.1 285.6h0M178.1 232.7h0M326.8 235.8h0M225.3 281.5h0M328.7 279.3h0M134.4 222.3h0M253.6 277.3h0M231.6 238.1h0M187.8 280.7h0M221.1 217.1h0M166.7 276.9h0M232.4 278.2h0M139.3 232.6h0M240.6 276.3h0M277 278.6h0M123.4 289.8h0M230.5 279.6h0M328.2 271.7h0M315.5 234.9h0M223.6 236.9h0M170.9 295.6h0M258 288.3h0M323.1 270.2h0M343.7 233.9h0M195.7 277.8h0M333.1 237.2h0M133.7 223.9h0M214.2 287.7h0M283.8 281.2h0M241 236.9h0M236 235.5h0M117.9 277.8h0M408.2 256.8h0M322.3 288.7h0M375.9 244.6h0M193.4 226.1h0M114.7 239.8h0M135 283h0M227 293.5h0M149.7 285.6h0M328.7 238.4h0M230.1 286.9h0M225.2 279h0M295.3 237.8h0M343.4 279.6h0M157.4 278h0M140.6 280.5h0M333 237.7h0M281 238.2h0M136.7 229.6h0M169.2 281.8h0M290.7 227.3h0M127.4 283.1h0M116.5 276.1h0M296.4 275.3h0M284.8 239.5h0M145.4 281.6h0M241.1 233.2h0M176.9 279.6h0M149.7 231.9h0M312.2 291.4h0M299.7 281.7h0M131.1 226.4h0M216.9 285.4h0M232 234h0M219.9 232.8h0M301.1 277.9h0M217.7 279.9h0M175.8 281.1h0M239.4 238.2h0M302.1 279h0M111.3 277.9h0M155.5 295h0M158.1 228.6h0M120.9 279.2h0M123.2 282.8h0M223.4 281.6h0M328.3 277.3h0M235.1 274.8h0M156 232h0M225.7 290.5h0M198.5 282.3h0M158.6 229.6h0M343.9 244h0M347.5 276.7h0M299.4 283.7h0M184.7 234.6h0M129.7 233.3h0M166.1 225h0M346.5 238.9h0M280.3 279.1h0M171.8 234.3h0M174.3 280.5h0M155.8 234.2h0M266 283.4h0M158.2 279.6h0M152 222.9h0M127.5 278.4h0M119 223.4h0M185.6 288.8h0M293.6 272.7h0M350.3 272.1h0M174.4 232.9h0M126.5 230h0M133.5 278.2h0M347 267.8h0M248.2 285.7h0M216.9 227.4h0M225.1 237.8h0M116.6 276.9h0M240.9 235.7h0M171.6 279.7h0M204.9 285.6h0M341.7 267.7h0M193.6 282.2h0M156.9 285h0M128.6 230.3h0M155.3 223.1h0M161.1 229.1h0M229.1 285.5h0M343.5 242h0M159.8 282.5h0M146.8 225.7h0M208.6 236.8h0M335.8 268.4h0M120.1 234.7h0M349.6 268.9h0M286.2 284.2h0M226.5 236h0M230.1 277.6h0M288.4 276.6h0M380.6 265.4h0M342 270.1h0M127.1 280h0M328.8 272h0M185.4 276.9h0M228.9 230.5h0M214.7 281h0M317.2 274.3h0M224.6 278.4h0M206.1 230.8h0M352.9 273.5h0M199.1 233.9h0M346.2 235.4h0M172.2 285.2h0M188.7 235.9h0M112.2 267.1h0M243.9 229.7h0M153.3 285.4h0M120.2 289.8h0M297.3 278.4h0M168 227.7h0M158 281.1h0M138.6 226.8h0M254.5 230.5h0M131.7 231.2h0M171 231.4h0M333.7 272.4h0M277.7 272.9h0M202 278.7h0M281 279.1h0M129.4 229.4h0M228.8 279.8h0M391.5 257.7h0M198.6 294.4h0M308.3 283.6h0M317.9 230.4h0M228 235.3h0M170.9 282.6h0M327.8 279.7h0M224.1 230.9h0M132.9 284.7h0M325.6 284.1h0M152.9 234h0M165.2 284.7h0M149 234.4h0M237.6 236h0M299.2 278.7h0M318 274.7h0M405.2 254.1h0M238.5 234h0M290 236.1h0M160.5 280.1h0M176.9 282.9h0M235.1 277.3h0M295 227.8h0M216.7 275.4h0M120.2 229.3h0M181.6 230.5h0M285.6 237.5h0M326.6 278.9h0M157.8 221.5h0M241.1 276.3h0M342.1 269.4h0M146.3 279.2h0M199.5 285.5h0M165.9 221.7h0M257.7 276.3h0M288.5 276.8h0M281 272.7h0M193.4 279.6h0M231.4 230.1h0M319.8 240.3h0M321.9 279.2h0M223.2 229.8h0M240.5 284.4h0M170.8 280.6h0M342.7 269.2h0M298.4 228h0M301.5 237.3h0M337.1 270.2h0M232.8 282.2h0M308.3 276.2h0M170.8 229.6h0M215.2 229.5h0M318.6 238.8h0M155.7 233h0M123 228.9h0M180.5 278.4h0M203 226.6h0M186.7 234.9h0M121.4 287.7h0M155.9 286.4h0M220.5 283.1h0M276 237.4h0M223.8 236.5h0M327.6 236.3h0M225.8 277.3h0M263.9 216.7h0M223.3 275.9h0M282.2 225.6h0M376.3 260.2h0M147.7 232.1h0M272.4 230.2h0M136.7 230.2h0M290.9 235.7h0M119.9 285.3h0M257.6 283.4h0M301.3 226.9h0M150.2 278.4h0M120.9 225.9h0M177.6 229.9h0M270.2 275.8h0M203.2 220.6h0M302 236.4h0M110.2 266.7h0M346.4 278.5h0M236.9 283.5h0M358 265.6h0M222.6 279h0M126.1 295.3h0M276.1 274.1h0M296.7 236.7h0M340.1 279.9h0M316.2 279.8h0M229.2 281.2h0M304.9 239.4h0M122.5 230h0M218.2 282.7h0M189.5 289h0M127.7 227.3h0M217.4 229.5h0M275.8 237.1h0M203.5 226.1h0M261.3 279h0M284.5 277.6h0M129.1 229.1h0M154.1 283h0M266.4 237.4h0M225.2 236.1h0M280 279.3h0M155.8 231.3h0M137 278.9h0M112.1 272.3h0M237.3 236.8h0M241.1 276.2h0M215.3 278.3h0M273.6 281.4h0M134.4 283.1h0M164.8 223.9h0M334 270h0M251.1 238.5h0M234.3 235.3h0M235.5 236.8h0M336.2 279.8h0M231.2 286.9h0M208.8 278.1h0M242.4 231.3h0M207 233.3h0M282.4 280.2h0M289.6 286.5h0M152.2 278.3h0M119 231.3h0M324.7 273.6h0M239.4 233.7h0M342 241h0M216.1 232.9h0M258 229.6h0M347.2 267.9h0M137.1 287.4h0M191.3 276.5h0M215.1 281h0M342.6 242.1h0M139.7 282.9h0M175.4 280.3h0M332.1 279.6h0M248.2 277.8h0M228.4 227.4h0M312.4 235.2h0M341.5 238.9h0M327.3 239.6h0M303.2 279.3h0M122.7 232.9h0M143.6 285.4h0M214.9 233.9h0M126.7 231.1h0M345.5 241.1h0M144.8 289.2h0M299.8 277.7h0M309.2 271.1h0M142.2 233.6h0M223.5 234.3h0M172.4 278h0M229.6 276h0M207.4 225.3h0M291.1 277.3h0M338.9 239.6h0M328.2 278.6h0M281.8 292.9h0M158.5 235h0M145.4 233.5h0M127.3 234.2h0M124.9 283.8h0M113.9 228.6h0M256.8 237.4h0M118.8 279.4h0M326.5 290.9h0M282.1 279.9h0M333.1 277.2h0M279.9 276.2h0M224.9 280h0M157.9 287.6h0M122.5 284.3h0M253.5 237.8h0M224.4 283.3h0M226.3 282.1h0M285.3 235.8h0M215.8 228.8h0M310.3 271h0M308.2 279.4h0M332 270.9h0M305 271.3h0M138.3 228.1h0M142.2 227.8h0M115.7 232.7h0M343 269.1h0M215.9 231.6h0M157.6 223.2h0M237.5 228.2h0M117.5 236.7h0M127.4 231.5h0M151.8 277.9h0M314.9 240.5h0M247.4 226.9h0M287.4 287.4h0M223.7 282.8h0M244.5 281.5h0M141.8 284.4h0M221.9 284.6h0M148.4 234.3h0M225.5 235.8h0M213.6 235.7h0M123.1 284.4h0M316.2 278.5h0M308.1 278.8h0M205.3 285.5h0M180.7 282.8h0M115.7 240.6h0M334.1 242.9h0M231.3 228.6h0M316.9 237.3h0M336.6 238.5h0M139.1 232.2h0M242.8 237.1h0M138.5 286.3h0M265.8 283.4h0M122.3 283.7h0M134.1 229.1h0M314.8 281.1h0M233.3 275.8h0M311.2 238.8h0M159.3 225.9h0M211.8 287.8h0M340.9 269.7h0M217.4 286.7h0M315.1 228.8h0M224.7 277.2h0M339.4 275h0M214 235.4h0M125.3 282.6h0M284.3 276.4h0M239.6 277.1h0M159 278.7h0M224.5 275.5h0M261.9 235.6h0M294.9 239.2h0M221.4 231.9h0M165.3 283.8h0M322.7 275.2h0M203.5 275.8h0M342.8 239.7h0M206.9 289.9h0M156.1 291h0M346.1 270.3h0M317.9 271.4h0M178.9 236.7h0M184.6 276.4h0M359 230.2h0M245.3 232.6h0M338 234.6h0M334.2 232.4h0M110.8 243.6h0M234.9 224.3h0M181.3 228.9h0M220.2 233.5h0M213.6 231.4h0M154.7 287.7h0M231.5 236.5h0M155.7 279.8h0M262.4 238.5h0M337.9 272.9h0M321.1 277.8h0M156.2 235.5h0M240.5 236.8h0M152.1 231.7h0M220.8 287h0M229.5 231.4h0M223.6 233.5h0M219.7 275.6h0M158.3 280.7h0M259 234.6h0M141.3 232.9h0M185.1 282h0M220.7 233.8h0M165.1 278.9h0M127.7 231.2h0M201.4 276.3h0M171.3 282.9h0M341.1 268.5h0M228.2 287.6h0M342.4 239.1h0M371.4 247.1h0M180.6 285.8h0M313.8 226.6h0M120.4 233.1h0M249.4 237.5h0M157 235.8h0M154.2 288.7h0M253.9 275.4h0M130.4 231.1h0M362.7 239.3h0M348 269.6h0M179.4 226.8h0M336.3 275.4h0M222.6 286.2h0M145.7 291.1h0M179 284.8h0M319.3 241.5h0M282 278.1h0M359.6 237.6h0M230.9 229h0M139.2 282.7h0M223 227.2h0M199.5 281.8h0M220.1 231.3h0M266.8 227.9h0M311.8 224.9h0M339.1 268.8h0M256.4 278.7h0M154.3 281h0M184.2 229.3h0M314.4 280.6h0M255.5 233.1h0M221.6 285.2h0M131.7 234.9h0M346.9 279h0M221.2 229.9h0M119.4 281.9h0M234.4 234.6h0M168.4 232.6h0M284.7 272.9h0M173.5 277.8h0M157.8 286.3h0M190.2 281h0M232.7 289.8h0M223.3 216.6h0M206.8 235h0M202.1 231.8h0M153.3 232.6h0M345.2 230.7h0M220.3 277.5h0M267.6 236.8h0M159.1 290.8h0M156.9 233.3h0M212 281.4h0M340.5 237.8h0M304.1 240.7h0M122.1 235.3h0M151.2 231.6h0M333.7 237.3h0M198.5 226.3h0M201.3 280.7h0M189.4 280.7h0M252 285.8h0M157.5 230.3h0M314.8 238.4h0M234.8 277.9h0M275.9 236.8h0M173.9 289.4h0M390.3 257.6h0M316.3 238.5h0M212.7 227.1h0M313.6 270.7h0M284.2 273h0M333.2 236.4h0M233.4 275.2h0M165.2 232.6h0M197.6 277.8h0M369.9 250.2h0M334.9 268.5h0M281 276.3h0M366.3 241.6h0M144.5 231.3h0M240.2 276.1h0M291.6 221.3h0M268.5 274.3h0M293.8 273.7h0M369.7 264.9h0M124.1 278.6h0M151.7 279.7h0M151.6 277.9h0M165.8 235.7h0M197.8 279.6h0M130.5 281.8h0M121.6 229.4h0M218.6 230.2h0M280.5 235.7h0M148.5 227.5h0M154.2 232.5h0M111.7 269h0M188.3 280.2h0M173.9 277.2h0M278.7 229.6h0M157 229.7h0M170.5 231.5h0M161.8 277.9h0M291.5 283.2h0M282.8 240.1h0M188.5 281.8h0M405.2 255.7h0M182.8 278.7h0M276.9 237.7h0M239 234.4h0M224.5 289h0M247.8 283.6h0M216.7 235.1h0M226 286.3h0M297.3 275.7h0M230.7 237.8h0M133 233.8h0M171 284.4h0M217.9 284.7h0M162.7 290.2h0M177.6 236.6h0M337.8 276.7h0M342.5 277.9h0M288.1 283.5h0M177.2 285h0M143.6 277.7h0M116.2 281h0M237.9 277.7h0M148.3 278.6h0M237.7 229.8h0M200.3 281.6h0M252 233.9h0M124 230.9h0M229.6 237.2h0M316 271.7h0M267.3 236.1h0M269.6 238.6h0M230 233h0M197.3 279.9h0M321.5 279.8h0M234.2 284.4h0M223.2 281h0M173.8 220.3h0M340.4 228.5h0M314.3 278h0M109 244.1h0M160.9 229.1h0M314.1 238.3h0M344.9 266.8h0M315.9 271.8h0M275.1 279.7h0M229.3 224.5h0M143.5 279.7h0M268.7 276.1h0M128.6 232h0M258.6 277.8h0M192.9 292.7h0M192.4 233.6h0M219.8 278.2h0M266.1 281h0M158.7 281.7h0M318.4 235.1h0M227 233.1h0M240.3 234.8h0M241.3 278.9h0M347.6 273.6h0M161.5 286.5h0M134.7 227.6h0M154.1 230.2h0M122.4 231.9h0M248.3 280.1h0M332.1 235.3h0M231 280.1h0M186 231.3h0M130 278.3h0M200.6 219.3h0M316.9 285.5h0M263.6 236.7h0M144.4 232.6h0M222.7 278.4h0M111.9 235.3h0M305.5 279.1h0M233.5 281.2h0M129.6 233.1h0M330.7 287.6h0M239.7 234.2h0M153.2 223.4h0M293.4 231.8h0M296.6 230.1h0M225.6 279h0M149.8 280.1h0M111.7 239.1h0M239.1 280.5h0M314.4 241.5h0M132.8 279.2h0M245.7 231.8h0M203 282h0M245 236.2h0M114.8 276.7h0M229 288.5h0M342 275.9h0M256.7 279.5h0M119.8 232.2h0M290 236.5h0M155.1 228h0M312.4 241.5h0M253.8 281.9h0M173 232.3h0M118.7 275.2h0M168.4 288.4h0M332.1 228.8h0M285.4 276h0M184.6 222.8h0M186.2 232h0M313.9 234.5h0M316 273.3h0M334.2 269h0M334.5 243.9h0M185.4 234.3h0M206.4 276.2h0M119.1 236.6h0M311.9 276.6h0M195.1 278.5h0M115.6 230.4h0M182.6 233.2h0M330.4 239.4h0M171.3 224.7h0M302 239.6h0M250.1 234.3h0M136.5 277.8h0M143.4 286.8h0M219.2 279.2h0M210.2 231.6h0M113.7 275.5h0M235.4 234.5h0M220.1 282h0M293.6 237.3h0M238.1 236.5h0M261.4 236.1h0M219.7 235.9h0M253.1 275.8h0M279.6 231.9h0M177.8 223h0M148.9 293.6h0M140.6 280.2h0M347.1 267.8h0M327.9 241.4h0M120.9 282h0M134.7 284.6h0M301.5 274.7h0M219.7 231h0M285.5 231.9h0M225.7 286.5h0M310.8 272.7h0M237.7 238.3h0M122.4 293.1h0M171.4 286.3h0M262.4 275.9h0M246.2 235.6h0M201.9 277.1h0M224.9 236.3h0M338.8 236.8h0M252.9 285.5h0M209.4 291.3h0M128.5 230.8h0M345.6 271.3h0M340 244.7h0M147.3 296.9h0M232 225.8h0M200.5 222h0M115.6 276h0M372.3 261.1h0M118.7 232.9h0M155.6 285.3h0M249.7 274.5h0M270 239.4h0M178.6 280.2h0M258.8 226.7h0M311.3 235.2h0M151.5 235.4h0M284.2 239.2h0M112.8 276.1h0M273.9 236.1h0M379.7 250.4h0M138.6 277.6h0M280.1 281.4h0M232.8 276.4h0M316 281.4h0M203.7 235.7h0M217 284.1h0M246.7 236.5h0M269 277.4h0M193.3 231.9h0M306.2 274.2h0M190 236.1h0M237.6 285.4h0M142.1 278h0M227.9 279.9h0M319.5 226.7h0M341.9 274h0M238.1 235h0M216.5 279.4h0M203.2 230.5h0M123.5 230.3h0M148.8 229.6h0M164.1 229.6h0M336.5 269.8h0M207.8 232.6h0M113.7 239.8h0M238.6 276.5h0M272.5 230.4h0M170.1 280.1h0M263.2 236.1h0M194.8 277.8h0M234.6 275h0M126.6 292.2h0M143.8 228.8h0M144.5 281.1h0M228.3 277.9h0M249.8 277.6h0M311.5 272h0M237.1 232.8h0M270.2 284.6h0M225.1 237.2h0M142.5 229.8h0M243.5 235.1h0M332.5 270.7h0M164.4 277.3h0M280.4 232.5h0M229.4 231.5h0M287.6 238.6h0M231.7 228.3h0M283.3 239.3h0M181.1 277.3h0M271.8 274.9h0M151.7 281.4h0M269.2 233.7h0M294.6 279.6h0M260.1 233.1h0M342.4 237.2h0M229.7 236.3h0M229.5 275.1h0M125.5 235h0M229.1 235.7h0M330.2 271.5h0M119.1 227.6h0M228.9 284.2h0M179 230.9h0M235.4 276.5h0M118.5 225.8h0M213.8 230.9h0M132.1 231.6h0M251 284.7h0M254.4 282.1h0M294.1 222.6h0M233 233.4h0M304.5 236.7h0M124.1 288.1h0M202.5 235.4h0M263.3 278.2h0M296.1 274.7h0M152.9 284.1h0M242.9 225.1h0M157.8 233.8h0M139.2 280.1h0M181.5 232.2h0M237.4 275.3h0M121.2 231h0M259.3 237.7h0M265.5 228.3h0M140.6 279.4h0M146.5 278.2h0M164.7 227.2h0M181.9 235.3h0M201.4 280.7h0M164.6 280h0M176 231.1h0M305 276.6h0M317.8 270.5h0M114.5 235.1h0M143.1 228.6h0M199.3 278.1h0M340.9 268.3h0M297.4 278h0M227.3 230.6h0M183.2 287.2h0M138.6 281.1h0M252.2 283.3h0M190.1 230.9h0M275.5 275.5h0M303.1 226.9h0M245.4 238.3h0M195.5 281.7h0M164.7 234.3h0M126.7 232.4h0M369.6 259.9h0M115.1 239.1h0M119.5 284.2h0M261.2 229h0M259.3 235.7h0M165.4 282.4h0M226.5 236.6h0M179.8 278.9h0M147.7 230.6h0M131.7 231.2h0M114.2 272.1h0M296.9 236.1h0M223.6 237.7h0M331.7 280h0M228.8 281.7h0M257 236.6h0M345.6 244.2h0M230.6 236.4h0M200.7 281.4h0M211.9 288h0M373.7 258.4h0M178.4 287.6h0M237.1 281.3h0M141.3 285.9h0M147.8 280.2h0M118.3 224.2h0M333.6 277h0M251 280h0M397.1 241.8h0M408 258.8h0M410.7 249.5h0M418.9 244.9h0M427.1 249.5h0M435.3 246.4h0M446.3 251.1h0M450.4 261.2h0M454.5 246.4h0M462.7 248h0M473.6 241.8h0M481.8 243.4h0M484.5 252.6h0M492.7 246.4h0M494.1 252.6h0M505 248h0M525.5 246.4h0M531 238.7h0M394.3 255.7h0M402.5 243.4h0M409.4 260.3h0M423 249.5h0M443.5 246.4h0M459.9 251.1h0M101.9 291.1h0M110.1 271.1h0M109.3 228h0M116.9 206.4h0M117.5 209.5h0M279.5 297.3h0M290.5 298.8h0M242.7 313.6h0M134.7 332.7h0M157.9 337.3h0M389.1 253.3h0M401.4 247.8h0M403.1 265.6h0M406.3 244.8h0M398.5 242.5h0M361.1 273.5h0M412.9 266.4h0M401.1 246.3h0M364.5 254.5h0M400.8 253.1h0M378.2 256.3h0M405.3 245.9h0M395.6 255.6h0M369.4 236.6h0M404.8 263.5h0M394.2 260.7h0M415.4 254.5h0M392.7 260.8h0M391.3 252.8h0M404.7 243.4h0M405.7 237.3h0M387.8 254.1h0M381.5 254.8h0M412.9 263.9h0M401.7 256.6h0M361.4 246.1h0M403.6 259.4h0M361.8 247h0M387.2 245.1h0M401.5 255.5h0M402.4 257.7h0M373.1 261.6h0M397.5 271.9h0M388.4 263.3h0M379.2 240.3h0M378.4 258.3h0M396.1 247.6h0M409.5 246.2h0M385.4 249h0M385.8 257.1h0M372.4 247h0M381.4 262.9h0M380.9 249.5h0M398.4 244.9h0M376.7 243.8h0M384.8 245.5h0M415.5 258.1h0M414.6 244.9h0M400.2 260.1h0M371.7 248.7h0M367.6 264.1h0M364.9 248.8h0M386.1 245.2h0M378.6 240h0M397 249.1h0M380.8 260.3h0M363.3 248h0M405.1 238.5h0M366.8 230.8h0M379.8 254.1h0M389.7 254.9h0M379.8 258.4h0M400.2 260.9h0M391.1 250.1h0M365.5 258.6h0M368.4 249.6h0M388.9 254.4h0M387.4 261.8h0M397.2 274.1h0M371.1 238.7h0M359.3 264h0M380.8 257h0M381.7 254.9h0M404.2 245.3h0M408.3 253.2h0M385.2 239.3h0M366.4 252.2h0M415.7 262.4h0M411 245.1h0M365.1 255.2h0M405.3 240.1h0M368.9 242.2h0M399.3 247.3h0M408.6 249.7h0M388.4 274.6h0M403.8 243.5h0M371.8 253.6h0M385.4 259.8h0M376.8 249.9h0M374.5 243.3h0M369.6 244.7h0M391 257.5h0M405.4 253.4h0M413.5 255.9h0M412.3 246.7h0M406.5 258.1h0M395.6 242.2h0M398.9 249.3h0M390 235.6h0M406.8 256.3h0M415.1 262.2h0M358.9 234.2h0M404.6 241.8h0M384.1 245.4h0M362.9 261.7h0M371.6 263.4h0M372.9 249.6h0M359.9 262.3h0M376.4 244.1h0M375.4 253.6h0M204.7 213.5h0M251.2 297.7h0M292.8 218.8h0M116.6 289.5h0M144 285.1h0M169.1 207.6h0M169.1 214.6h0M232.6 302.8h0M309.1 291.7h0M163.7 221.7h0M306.6 300.2h0M289.7 293.2h0M226 210.7h0M298.2 200.8h0M119.4 214.8h0M236.4 206.4h0M124.5 216.6h0M248.3 285.3h0M158.4 201.8h0M119.1 290.7h0M281.8 208.8h0M126.6 204.8h0M266 287.2h0M157.5 284.6h0M125.9 289.2h0M142.6 296.8h0M265.6 203h0M121 219.5h0M194.8 207.2h0M245.3 218.3h0M231.1 205.5h0M118.6 293.5h0M156.2 204.4h0M123.3 302h0M112.6 290.8h0M248.8 215.5h0M280.3 288.7h0M255.9 216.7h0M199.6 288h0M144.8 213.8h0M163 285.4h0M161.7 217.8h0M263.5 286h0M116.4 296h0M231.8 304.2h0" stroke="#000" stroke-opacity=".85" stroke-width="2.7" stroke-linecap="round" fill="none"/>
<path d="M215.8 280.1h0M225.1 218.7h0M199.7 311.1h0M230.7 288.3h0M250.8 199.9h0M156.3 178h0M347.5 239.4h0M151.2 222.5h0M195.5 291.5h0M172.4 217.9h0M170.2 217.8h0M203.6 280.7h0M173.1 225.9h0M205.7 321.2h0M230.3 292.5h0M187.6 288.1h0M217.7 300.2h0M311.1 291.1h0M142.2 300.1h0M230.1 210.3h0M143.5 200.8h0M194.6 307.8h0M271.4 293.9h0M114.3 289h0M285.7 234.9h0M219.5 290.1h0M127.7 281.1h0M115.9 206.8h0M281.9 283.8h0M314.3 232.2h0M156.9 332.1h0M318.9 309.4h0M296.8 284h0M314.8 273.4h0M209.3 225h0M179 207.3h0M321.1 272.8h0M306.6 274.3h0M134.8 306h0M186.9 229.3h0M226 193.7h0M266 189.1h0M211.2 227.6h0M144 281h0M227 234.5h0M210.8 299h0M136.3 280.4h0M179.2 194.9h0M306.4 276.3h0M230.2 287.2h0M195.4 221.8h0M205 228.7h0M280.7 278.5h0M152.4 287.2h0M162.8 285.8h0M273.9 302.6h0M207.8 232.3h0M145.4 285.5h0M119 219.6h0M299.9 238.6h0M151.6 297.2h0M124.8 287h0M168.3 286.9h0M205.7 217.1h0M232.1 316.1h0M167.7 183.2h0M254.1 287h0M139.8 183.4h0M216.2 290.5h0M300.6 281.9h0M242.4 220.8h0M201.2 211.8h0M202.2 307.6h0M169.7 318.4h0M209 227.6h0M278 278.9h0M123.4 300.6h0M217.4 227.4h0M223.9 307.9h0M171.3 220.2h0M125.7 304.1h0M254 222h0M225.4 214.2h0M146.7 202.3h0M207 291.4h0M141.3 303.7h0M279.8 293.1h0M146.1 328.9h0M159.5 285.4h0M146.6 215.1h0M151.2 281.4h0M345.9 275.2h0M126.8 298.4h0M175.8 308.9h0M208 222.4h0M244.5 221.1h0M337.5 279.2h0M128.6 306.1h0M185.8 285.9h0M213.9 205.1h0M139.1 218.8h0M139.1 287.1h0M131.1 207.9h0M226.8 222.5h0M129.6 216.6h0M183 217.8h0M197.5 292.1h0M191.9 226.1h0M215 330.2h0M137.7 287h0M331.6 241.3h0M302.5 277.2h0M132.3 212.9h0M292.1 280h0M309.2 282.1h0M290.8 281.6h0M244.3 320.7h0M324.1 278.1h0M165.7 191.3h0M124.1 200.7h0M120.7 303.6h0M151.8 197.4h0M143.9 337.2h0M141.6 219.8h0M306.8 275.6h0M143.9 296h0M215.6 299.2h0M199.9 209.8h0M192.9 221.7h0M224.4 289.4h0M276.7 296.3h0M189.6 230.9h0M318.5 189.3h0M232.9 279.2h0M211.3 224h0M164.3 282.3h0M206.8 228.9h0M280.1 275.6h0M210 232.8h0M209 230.5h0M174.5 278.7h0M175.7 224.4h0M274.3 278.3h0M302.8 279h0M298.3 235.7h0M170.3 279.9h0M130.8 299.3h0M313.5 236.8h0M302.4 236.9h0M159.7 299.5h0M142.2 218.1h0M276.6 230.9h0M227.4 289.6h0M145.6 213.2h0M224.4 228.9h0M167.4 219.5h0M129.1 295.3h0M149.1 223.9h0M173.2 279.3h0M303.9 300.8h0M206 293.5h0M216.9 217.1h0M169.1 232.8h0M161 219.2h0M279.4 286h0M297.4 224.5h0M218.9 291.8h0M267.6 303.3h0M226 303.3h0M304.8 281.2h0M303.6 283.3h0M339.9 272.1h0M135.4 308h0M126 210.6h0M151 289h0M135.9 292.2h0M310 275.8h0M240.4 285.5h0M196.5 226.9h0M253.4 281.7h0M155.2 217h0M148.7 290h0M231.8 220.7h0M196.9 295.6h0M216.7 204.5h0M216.6 292.9h0M292 282.1h0M241.6 232.3h0M287.5 235h0M214.4 301.1h0M287.1 224.7h0M355.3 272.1h0M277 235.9h0M224.1 229.8h0M226.9 280.5h0M168.8 288.4h0M206.7 285.5h0M138.8 173.9h0M216 206.2h0M214.9 293.7h0M120.3 298.7h0M197 208.5h0M204.2 284.3h0M369.8 250.1h0M151.9 297.9h0M218.3 300.3h0M215.6 301.6h0M317.2 277.4h0M141.5 320.1h0M232.6 297.7h0M339.3 274.6h0M149.1 279.9h0M142.5 300.5h0M146 292.8h0M182.7 284.3h0M364.1 268.4h0M193.6 215.8h0M265.7 226.5h0M162.7 225.3h0M212.2 295.4h0M239.1 225.1h0M308.2 286.8h0M203.6 293.7h0M257.8 297.4h0M227.4 285.9h0M140.8 214.6h0M364 244.1h0M217.9 284.2h0M205.2 288.7h0M123.5 212h0M169.8 283.9h0M197.8 231.8h0M126.8 210.3h0M121.6 290.8h0M197.8 290.3h0M135.1 214h0M198.5 209.8h0M209.4 278.2h0M120.4 284.4h0M224.2 218.8h0M193.3 223.3h0M173.6 202.4h0M230.3 295.7h0M210.4 310.6h0M120.1 204.5h0M306.7 278h0M149.8 317.4h0M244.6 318.4h0M307.3 283.3h0M179 284.1h0M310.8 281.4h0M142.5 330.5h0M169.5 220.9h0M300.9 274.4h0M192.1 284.5h0M132.2 221.3h0M337.4 236.7h0M277.3 231.6h0M188.6 280.6h0M172.9 283.6h0M130.9 309.2h0M249 208.2h0M131 285h0M219.3 209.9h0M308 231.2h0M260.1 324.3h0M119.5 214h0M277.8 234.1h0M197 311.9h0M227.9 294.9h0M293.2 275.6h0M292.6 277.7h0M155.7 289h0M189.5 291.5h0M225.2 299.7h0M186.4 284.9h0M117.9 301.5h0M310.4 280.3h0M242.1 279.5h0M173.8 305.6h0M219.6 293.1h0M239.2 224.6h0M187 291.8h0M207.9 216.1h0M284.5 218h0M126 332.9h0M294.6 277.8h0M222.5 296h0M134.7 285h0M204.4 281.1h0M192.1 287h0M259.5 278.4h0M199.5 283.8h0M285.5 233.6h0M211 285.1h0M201.3 207.8h0M198.5 234.2h0M296.9 238h0M133.8 283.5h0M187.4 228.6h0M163.9 282.9h0M263.3 218.4h0M355.6 241.9h0M118.8 296h0M113.2 287.3h0M354.7 269.1h0M213.8 222.7h0M264.2 216.8h0M175.8 228h0M169.5 293.8h0M168.5 228.1h0M129.9 289.1h0M154.3 297.9h0M271.1 235.1h0M194.2 211.5h0M187.2 213.7h0M224.6 287.5h0M331.6 226.2h0M189.1 224h0M217.7 289.9h0M303.3 281.4h0M147 209.3h0M274.4 224.1h0M161.1 285h0M316.9 225.6h0M130.2 194.6h0M183.5 284.3h0M259.1 287.7h0M301.2 287.5h0M178.2 295.4h0M157.2 293.6h0M298.1 232.2h0M117.5 283.6h0M313.9 237h0M127.9 285.1h0M186.6 218.6h0M133.9 174.1h0M216 219.7h0M195.3 229.2h0M226 211.9h0M307.1 294.2h0M236.4 277.3h0M225.8 291.5h0M267.5 230.4h0M306.8 292.7h0M141.1 315h0M230.5 230.6h0M201 278.1h0M220.4 234.6h0M206.5 291.6h0M229.7 210.6h0M130.3 220.1h0M145.8 301h0M315.8 236.2h0M130 206.7h0M191.8 302.3h0M211.3 227.7h0M310.6 302.2h0M257.9 233.3h0M269.9 236.9h0M210.4 215.2h0M212.3 281.5h0M261.1 291.2h0M146.4 213.4h0M191.7 227.2h0M149.7 312h0M198.6 280.8h0M277.6 212.3h0M311 287.4h0M154.9 300.7h0M335.5 278.4h0M226.7 304h0M209.8 222.5h0M134.4 295.1h0M162.9 314.4h0M238.7 233.3h0M211.8 216.2h0M227.2 235.3h0M145.4 210.5h0M123.7 204h0M212.7 222.6h0M145.8 198.4h0M216.1 291.5h0M308.7 231.1h0M139.4 177.8h0M204.6 214.7h0M335.4 283.7h0M194.1 298.3h0M137.4 285.7h0M316.4 273.9h0M353 270.7h0M291.1 296.7h0M320.7 303.5h0M205.7 225.6h0M188.1 228.8h0M280.8 278.4h0M264 286.7h0M144.6 291.4h0M352.2 236.9h0M166.7 229.2h0M193.1 204.6h0M189 228.5h0M214.9 291.1h0M203.6 213.3h0M214.1 288.7h0M215.2 308.5h0M218.5 218.3h0M162.2 283.9h0M209.4 228.6h0M201.2 290.6h0M187 224.2h0M126.6 289.6h0M311.3 238.8h0M243.4 228.7h0M148.4 284.2h0M290.1 223.7h0M297.3 291.1h0M271.5 281.1h0M164.7 230.9h0M135.6 288.7h0M132.9 315.8h0M217.3 280.5h0M165.4 202.8h0M158.3 288.4h0M313 275.2h0M224.4 303.4h0M218.5 282.8h0M183.5 286.3h0M201.6 298.8h0M116.7 310.7h0M212.9 301.8h0M300.2 236.2h0M237.3 206.2h0M149.6 209.6h0M223.6 206.8h0M327 230.7h0M196.6 216.6h0M159.6 222.9h0M274 229.4h0M239.9 289.3h0M225.5 225.7h0M203.4 231.3h0M134.9 323.6h0M126.5 286.1h0M215.5 278.1h0M218 279.3h0M137.3 224.7h0M204.8 336.1h0M258.3 280.1h0M150.5 224.9h0M187.8 279.2h0M223.1 218.3h0M296.6 235.1h0M211.6 231.3h0M129.2 300.2h0M172 218.8h0M147.2 292.3h0M116.3 195.6h0M273.8 276.7h0M182.5 293.3h0M166.3 308h0M131.4 281.6h0M180.5 281.9h0M276.7 220.3h0M125.9 302.9h0M201.1 223.1h0M316.6 233.9h0M147.5 306.2h0M155.7 280.2h0M298.3 233.8h0M300.7 276.7h0M134.5 314.8h0M144.4 201h0M302.2 232.8h0M195 292.7h0M270.6 279.6h0M212.4 297h0M144.1 290.3h0M255.2 304.8h0M237.7 285.9h0M140.6 307.8h0M215.4 284.3h0M227.5 207.6h0M261.7 229.7h0M215.6 213h0M212.4 211.6h0M212.7 321.7h0M137.7 287.7h0M215.9 291.2h0M148.5 308.3h0M221 283.1h0M121.7 210.6h0M304.6 278.1h0M214.3 310.8h0M131.4 211.1h0M162.3 227.5h0M310.3 229.7h0M333.1 240.2h0M353.3 241.6h0M144.3 225.3h0M370.8 241.6h0M174.3 220.2h0M226.5 281.3h0M244.7 210.6h0M129 206h0M265.6 230.6h0M362.7 266.2h0M169.2 285h0M313.1 237.5h0M190.4 204.5h0M119.7 298.1h0M286.7 232.3h0M201.7 295.8h0M319.2 238.9h0M193.2 218.6h0M252.6 285.5h0M181.5 282.6h0M363.1 268.5h0M180.4 287.5h0M186.1 220.6h0M199.3 278.7h0M222.3 231h0M205.9 285.8h0M142.2 218.6h0M159.8 212.7h0M267.1 288.1h0M308.7 278.4h0M222.5 288.3h0M218.9 194.2h0M352 270.3h0M284.1 224.6h0M149.4 219.8h0M164.6 193h0M140.7 204h0M194.5 322.5h0M189.8 230.9h0M218.8 230.7h0M153.7 204.6h0M290.6 286.6h0M151.8 298h0M278 282.6h0M250.6 284.8h0M259 297.5h0M215.8 230.3h0M261.9 197.8h0M218.6 286.6h0M278.7 275.3h0M139.6 208.9h0M127.7 212.1h0M190.6 217.6h0M226.4 194.1h0M209.7 278.2h0M253.2 221.3h0M289.7 216.6h0M218 302.3h0M158.2 287h0M208.4 286.4h0M201.9 289.6h0M212.4 294.9h0M214.7 289.5h0M170.1 282.6h0M121.2 285.2h0M163.1 220.1h0M203.6 289.2h0M183.7 202.5h0M309 274.2h0M236.9 215.2h0M160 290.9h0M271.4 286.4h0M203.9 277.6h0M185.8 199.2h0M209.4 216.1h0M233.1 283.9h0M141.8 197.5h0M224.5 280.2h0M266.6 293.5h0M122 299.8h0M119.7 209.7h0M192.4 283.8h0M140.1 218.5h0M260.4 295.9h0M159 300.7h0M174.6 336.8h0M226.2 198.3h0M368.4 262.1h0M160.8 224.9h0M198.7 214.7h0M294.1 277.9h0M366.2 247.1h0M211.5 219h0M299.8 222.6h0M217.5 290.8h0M286.9 283h0M175.6 211.4h0M189.2 285.1h0M171.5 287.3h0M355.5 275.2h0M159.3 212.2h0M142.6 202.5h0M148.7 223.2h0M136.6 218.1h0M321.2 285.1h0M347.3 278.7h0M314.2 236.5h0M123.2 212.6h0M191.3 313.5h0M228.3 298.7h0M133.2 203h0M293 228.7h0M136.8 285.3h0M154.6 296.8h0M209.9 221.5h0M177.9 286.6h0M206.9 197.8h0M191.1 223.4h0M211 234.5h0M138.6 208.3h0M174.9 285.9h0M260.2 220h0M197 312.9h0M131.7 204.1h0M128.6 286.3h0M152.9 298.8h0M191.5 209.9h0M183 232.5h0M237.6 287.2h0M126.9 290h0M226.3 234.5h0M296.2 235.9h0M126.5 220.6h0M192.5 230.1h0M119.4 322.1h0M176.1 298.4h0M254.8 215.9h0M149.1 307.8h0M240.3 218.9h0M132.8 280.6h0M134.6 215.7h0M186.9 205.2h0M297.2 280h0M244 312.5h0M255.8 225.1h0M274.7 226.6h0M236 218.3h0M361.1 266.5h0M135.8 285.6h0M207.3 292.1h0M204.1 284.5h0M233.8 201.9h0M232.2 208.9h0M305.7 230.2h0M229.9 224.6h0M211.2 318h0M217 188.7h0M282.8 299.8h0M363.3 246.5h0M311.8 238.4h0M292.7 235.3h0M168.1 284.6h0M157.8 312.6h0M242.1 218.8h0M192.9 292.8h0M147.8 203.8h0M285.1 284h0M249.3 227.1h0M244.9 303.1h0M316.6 227.8h0M164.8 190.7h0M147.1 289.7h0M188.3 296.1h0M187 217.5h0M229.2 230.8h0M279.1 275.6h0M181.9 222.3h0M310.9 230.6h0M233.6 210.6h0M184.6 285h0M298.9 236.1h0M277.4 215.6h0M232.3 284.8h0M157.2 182.9h0M257.1 215.8h0M312 231.6h0M219.3 219.8h0M226.9 207.5h0M189.1 323.4h0M288.8 278.4h0M122.6 310.1h0M153.7 320.1h0M222.4 217.3h0M277.8 212.6h0M215.8 288.9h0M128 205.5h0M218 294.5h0M217.2 219.1h0M210.6 227.1h0M303.8 282.2h0M304.5 273.1h0M341 232.7h0M163 231.8h0M229.3 227.6h0M222.5 277.8h0M245.4 224.4h0M218.1 304.4h0M173.6 227h0M222.7 185.1h0M151.6 204.1h0M187.2 230.4h0M187.1 207.7h0M157.4 219h0M170 314.1h0M199.1 281.1h0M237 212.9h0M360.4 267.6h0M216 302.6h0M167.5 223.8h0M246.4 280.4h0M202.9 227.1h0M225.6 200.9h0M155 288.5h0M345.2 273.5h0M223.5 223h0M124.8 290.3h0M140.6 206.9h0M341.8 240.8h0M355.1 272.8h0M262.5 234.9h0M321 274.1h0M226.1 310.6h0M192.8 231h0M216.7 294.3h0M177.2 288.3h0M184.8 285.4h0M132.5 222.2h0M144.2 285.7h0M137.4 304.1h0M201.6 297.8h0M161.3 230.6h0M176.6 216.8h0M164.5 229.9h0M197.9 312.4h0M266 309.7h0M209 289.2h0M277.9 233.4h0M247.4 231.7h0M131.3 282h0M211.2 293.6h0M209.5 277.9h0M297.8 276.1h0M345.2 271.2h0M166.2 308.7h0M136.1 215.8h0M239.8 289.5h0M209.4 298.3h0M130.4 218.7h0M345.1 242h0M205.7 312.9h0M355.9 269.3h0M206.5 197.5h0M219.8 289.1h0M295.7 233.7h0M203.2 290.4h0M226.5 232.9h0M297.5 235.9h0M206.8 284.9h0M259.6 225.8h0M138.4 214.7h0M121.9 207.9h0M351.6 243.1h0M216.1 288.5h0M309.3 284.5h0M305.4 283.9h0M199.6 215.3h0M268.7 300.6h0M138.1 286.2h0M120.6 295.6h0M150.7 205.8h0M156.5 286.4h0M171.1 289.2h0M217.6 299.9h0M148.6 216.9h0M208.8 280.2h0M293.8 221.5h0M267.3 289h0M297.7 228.5h0M193.3 229.6h0M146.2 290.5h0M122.5 323.5h0M190.6 226.7h0M310.6 289.4h0M219.2 290.1h0M358.6 267.4h0M164.7 220.6h0M189.4 342.9h0M150.2 220h0M273.7 279.8h0M198.7 282.6h0M306.2 237.2h0M186.7 327.9h0M275.1 307.6h0M220.7 283.4h0M258.2 220.5h0M180.4 285h0M222.9 284.2h0M212.4 296.4h0M174.3 223h0M218.5 214.9h0M193.4 283h0M210.6 228.6h0M281.6 234.3h0M283.3 275.7h0M173.5 288h0M144.6 219.6h0M215 303.5h0M285.4 277.6h0M130.9 198.6h0M209.7 278.9h0M173.3 283.6h0M196.1 322.6h0M219.3 294.2h0M155.5 218.4h0M122.7 210.8h0M327.8 237.8h0M280 224.3h0M309.2 226h0M246.6 216.3h0M159.8 284.1h0M219.2 225h0M217.6 293.8h0M116.6 207.4h0M274.1 288.7h0M142.5 217h0M148.2 320.8h0M183.9 221.8h0M286.4 236h0M222.3 226.1h0M190.7 231.9h0M360.7 272.2h0M295.6 275.8h0M213.2 295.2h0M207.1 230.3h0M150.2 225.1h0M182.5 215.5h0M243.8 216.5h0M121.1 287.5h0M239.8 229.3h0M119.2 219.6h0M152.7 325.6h0M269.5 231.4h0M234.4 231.1h0M127.7 213h0M243.1 177.1h0M287.2 235h0M202.3 232.4h0M232.5 293.3h0M187.6 292h0M288 219.2h0M253.2 292.6h0M202 229.9h0M279 229.3h0M277.9 278.6h0M251.9 221.7h0M178 216.1h0M131.5 214.3h0M202.8 298.7h0M284.9 237.9h0M313.3 278.3h0M354.3 266.7h0M122.2 295.8h0M311.5 276.6h0M312.2 230.5h0M187.8 200h0M165.1 284.2h0M157.9 289.1h0M165.8 231.9h0M266.2 205.1h0M277.2 216.3h0M272.8 220h0M114.2 297.1h0M255.1 277.4h0M223.2 285.1h0M332.8 272.7h0M313.6 299.1h0M156.1 212.4h0M213.8 220.4h0M310.2 233h0M290.2 206.9h0M230.5 279.5h0M199.9 288.8h0M204.4 211.1h0M336.4 240.4h0M127.3 141.5h0M313.3 279.6h0M313.2 288h0M298.9 284h0M207.4 228.7h0M270.1 279.5h0M274.5 275.5h0M204.9 217.2h0M168.9 173.3h0M203.6 191.6h0M191 208.9h0M191.3 214.3h0M212.6 287.2h0M171.6 220h0M154 194.1h0M152 304.1h0M164.2 290.7h0M219.2 280.8h0M295.3 215.6h0M195.3 282.7h0M216.9 284h0M211.5 214.4h0M194.4 224.2h0M251.4 281.3h0M136.1 213h0M203.5 290.1h0M191.1 294.8h0M340.5 237.1h0M181.4 232.2h0M255.4 286.4h0M215.3 314.6h0M169.8 282.3h0M308.1 234h0M142.1 216.4h0M118.8 306.2h0M190.3 184.5h0M171.5 232.8h0M343.4 274.1h0M172.5 320h0M294.9 235.4h0M164.8 215.6h0M303.8 297h0M171.8 225h0M214.3 286.8h0M224.7 229.6h0M237.6 213.8h0M231 286.1h0M240.3 280.6h0M203 215.7h0M255.6 231.4h0M199.2 218.9h0M186.2 202.7h0M307.2 233.2h0M243 214.2h0M297.7 237.5h0M236.2 135.2h0M309.1 235.2h0M259.6 195.3h0M145.3 221.2h0M244.9 203h0M224.5 227.9h0M163.9 311.3h0M204.8 287.2h0M205.8 304.7h0M257.7 210.7h0M263.2 303.8h0M307 277.2h0M198.9 298h0M126.3 163.1h0M164.3 282.8h0M185.7 293.8h0M239.8 297.6h0M145.9 225.5h0M132.7 217.5h0M241.3 290.2h0M225.7 308.9h0M118.5 215.1h0M207.9 309.1h0M363.2 239.5h0M259 233.7h0M119.6 297.9h0M228.4 284.1h0M222.2 283.5h0M192.6 227.9h0M172.6 291.9h0M210.5 235h0M146.6 211.3h0M356.9 240.3h0M206.6 224h0M136.7 199.6h0M364.4 279.4h0M214.6 287h0M274.3 236.7h0M172.1 221.9h0M143.9 288.1h0M246.9 211h0M214.3 233.6h0M157.1 288h0M158.7 184.7h0M146.3 307.4h0M131 207.3h0M277.3 284.5h0M116.5 295.5h0M151.9 202.7h0M156.3 312.6h0M195.2 184.4h0M208.9 224.1h0M159.6 216.1h0M138.6 209h0M281.8 234.8h0M237.8 291.1h0M161.3 203.4h0M308.3 276.7h0M315.4 231h0M188 287.3h0M282.2 281.9h0M139.8 293.5h0M290.6 228.2h0M145 196.6h0M212 207.4h0M196.7 225.9h0M194 306.4h0M247.2 294.9h0M211.1 218.9h0M232 279.7h0M225.2 289.5h0M204.4 214h0M218.6 232.2h0M274.6 231.6h0M303.2 233.4h0M148.5 297.9h0M140.8 214.7h0M190.9 225.9h0M226.7 205.1h0M305.7 224.6h0M304.1 277.9h0M172.3 227.9h0M138.2 196.7h0M211 292.5h0M288.5 236.1h0M249.4 283.2h0M144.2 289.3h0M160.9 223h0M132.8 205h0M220.9 283.4h0M284.6 234.3h0M242.9 284.8h0M203.8 223.1h0M201 347.2h0M201.4 286.9h0M355.8 241.9h0M112.7 305.4h0M119.7 202.3h0M169.4 206.3h0M242 157.6h0M315.2 224h0M146 298.5h0M255 295.4h0M167.4 294.7h0M308.9 234.9h0M314.5 235.1h0M279.7 229.1h0M212.5 210.5h0M136.9 298.1h0M261.7 281.8h0M209.2 196.6h0M200.8 234.2h0M294.6 285.5h0M316.4 237.9h0M254.3 234.8h0M199.6 314.1h0M340.8 273.2h0M259.3 315.8h0M223.1 222.1h0M231.5 218.1h0M146.3 223.1h0M134.3 187.3h0M171.4 299.8h0M314.9 230.1h0M143.5 217.8h0M114.1 319.8h0M219.6 206.2h0M202.5 229.7h0M164.5 284.1h0M217.4 228.9h0M193 351h0M240.5 230.4h0M350.1 271.2h0M227.5 327.2h0M168.1 222.2h0M342.8 272.2h0M301.8 273.8h0M218.3 293.7h0M160.5 280.5h0M204.9 298.3h0M330 276.1h0M306.7 290.2h0M307.1 290.8h0M324.1 236.7h0M328.8 272.3h0M235.2 286.7h0M146.7 294.2h0M324.6 234.6h0M188 210.7h0M224 302.8h0M168.9 288.7h0M307.8 279.9h0M182.9 216.4h0M202.6 298.8h0M195.9 287.9h0M201.2 286.9h0M195.4 229.9h0M310.8 273.6h0M237.8 205.2h0M173.6 201.6h0M167.7 282.6h0M257.2 229.9h0M223.3 229.4h0M115.3 200.7h0M297.1 277.3h0M202.6 302.1h0M124 281.3h0M175.8 216.3h0M198.8 216.7h0M190.1 290.4h0M360 244.7h0M204.2 300.5h0M211 206.4h0M287.8 230.8h0M240.3 212.9h0M239.2 286.6h0M228.6 234.2h0M204.9 216h0M174.5 299.1h0M183.9 217.9h0M256 232h0M180.6 225.3h0M233.9 225.1h0M354.2 270.3h0M316.2 240h0M228.3 283.2h0M315.9 230.9h0M256.7 181.9h0M244.2 292.8h0M200.2 308.6h0M230.1 196.1h0M255.9 288.1h0M179.7 289.3h0M276.8 230.2h0M189.4 228.8h0M173.7 205.7h0M173.2 309.6h0M267.6 279.3h0M169.5 225.6h0M315.1 285.2h0M125.5 195h0M136.7 297h0M275 276h0M199.7 292.7h0M128.7 310h0M233.3 284.9h0M289.2 231.6h0M177.4 218.1h0M220.3 288.4h0M243.2 291.7h0M128.6 216.1h0M195.7 305.3h0M198.7 212.4h0M157.1 228.6h0M207.5 228.2h0M150 222.9h0M273.8 276.4h0M364.4 266.2h0M186.1 299.2h0M144.3 289h0M176.9 223.9h0M283.7 276.6h0M280.1 292.5h0M221.9 288.4h0M222.5 286.5h0M207.7 218.3h0M305.5 281.6h0M164.3 280.2h0M200.9 288.6h0M201.2 287.7h0M310.2 311.3h0M311.6 227.3h0M178.2 296.9h0M217 232.6h0M208.2 293.3h0M133.4 285.6h0M210.3 217.6h0M127.2 297.4h0M196.6 283.3h0M185.9 218.7h0M194.7 283h0M145.8 219h0M205.1 282.1h0M219.8 308.1h0M313.7 233.7h0M252.3 227h0M207.5 222h0M171.7 230.5h0M240.5 286.5h0M209.9 286.1h0M215.7 223.2h0M178.5 318.8h0M216.6 277.8h0M301.6 237.5h0M143.6 301.2h0M265.3 219.7h0M215.7 216.2h0M225.3 220.8h0M144.6 317.2h0M310 224.5h0M310.6 239.1h0M215.8 290.9h0M201.8 228.8h0M307.4 289.1h0M133.8 220.8h0M195.9 294.3h0M158.3 312.6h0M131.3 283h0M133.7 214.8h0M293.5 278.8h0M144.1 291.5h0M282.2 284.6h0M307.9 219.1h0M180.4 229.3h0M321.8 224.8h0M203.3 292h0M175.7 289.3h0M198.4 284.5h0M301.9 229.5h0M193.3 319.6h0M127.3 196.2h0M265.8 235.3h0M145.7 300.3h0M281.3 277.2h0M258.8 220.4h0M308.6 274.2h0M281.2 282.5h0M152.6 300.4h0M184.8 294.3h0M227.3 218h0M226.6 234h0M183 280.3h0M165 301.7h0M221.5 284.3h0M213.5 294.1h0M159.5 229.2h0M262.9 278.9h0M306.4 229h0M299 281.3h0M304.5 293.2h0M205.8 278.4h0M289 287.7h0M200.2 220.6h0M271.6 222.1h0M269.3 279.3h0M315.8 291.8h0M152.4 185.4h0M312.2 286.4h0M119.2 285.5h0M218.5 279.2h0M215 208.5h0M205.4 308.3h0M210.1 216.3h0M121.2 207.6h0M368 244.3h0M200.4 295.9h0M118.8 206.7h0M136.9 176.1h0M191.8 313.9h0M314 227.5h0M173.6 305.4h0M306.6 235.3h0M243 288.3h0M157.1 226.2h0M284.5 236.3h0M354.4 275.6h0M186.9 229h0M244.7 197.1h0M305.2 231.6h0M285 232.6h0M266.1 207.9h0M237.4 224.8h0M230 285.4h0M337.4 229.1h0M196 225.3h0M186.1 294.8h0M126.4 211.7h0M238.6 281.3h0M251.3 321.2h0M195.5 231.7h0M170.1 210.4h0M332.7 285h0M197.9 280.8h0M131.8 220.2h0M230.6 299.3h0M226.1 218.6h0M126.1 289.6h0M205.9 280.7h0M298 281.3h0M256.8 294.5h0M346.4 241.2h0M290.8 235.4h0M190.6 221h0M316.4 238h0M203.6 307h0M224 285.2h0M113.5 286.9h0M230.6 298.1h0M216.1 286.2h0M149.6 299.7h0M194.8 278.8h0M207.4 279h0M146.1 290.6h0M201.8 289.7h0M226.7 232.6h0M193.3 202.7h0M276.7 286h0M150.2 286.6h0M156.6 222.7h0M211.9 278.5h0M120.4 301.3h0M176.2 210h0M151.5 322.5h0M150.8 300.7h0M269.2 216.6h0M199.7 224.6h0M164.5 281.6h0M267.9 284.1h0M332.8 236.7h0M310.1 272.8h0M115.6 202h0M112.6 288h0M155.7 220.3h0M204.5 211.9h0M189.6 294h0M195.3 284.7h0M300.8 229.7h0M198.9 232.4h0M165.9 297.3h0M218.8 290.4h0M215.8 291.4h0M131.8 216.8h0M305.3 274h0M225.5 208.4h0M201.2 281.9h0M359 271.7h0M225.5 229.6h0M301.7 233.5h0M175.7 224.7h0M218.9 224.9h0M301.3 287.9h0M162.9 230.3h0M202 290.6h0M225.6 316.4h0M125.5 302.3h0M338.3 271.6h0M308.9 231.2h0M200.5 231.8h0M203.1 283h0M369.5 242.7h0M148.4 200.7h0M197.6 226.7h0M138 289.5h0M306.5 237.6h0M299.2 283.2h0M220.5 232h0M148.2 305.7h0M310 221.1h0M221.4 287h0M285.4 237.5h0M226.6 292.2h0M204.7 283.3h0M124.5 286h0M215.8 296h0M220.3 226.9h0M202.7 234.5h0M341.3 273.7h0M156.2 286h0M224 359.7h0M334.3 272.1h0M211.2 305.4h0M205.4 301.9h0M158.1 300.1h0M113.2 329.3h0M225.3 193.3h0M195.3 212.4h0M262.1 279.6h0M215 220.6h0M309.7 311.1h0M251.8 222.4h0M241.6 223.2h0M237.1 224.1h0M309.2 283.4h0M148 297.8h0M230.9 299.2h0M225.3 213.4h0M311 274.8h0M230.1 279.5h0M179.7 216.8h0M366.4 263.6h0M218.9 281.4h0M220.2 233h0M202.5 295.8h0M340.4 233.8h0M289.7 281.4h0M242.2 296.2h0M315 231.8h0M188.2 291.2h0M125.7 282.6h0M169.8 306.6h0M189.2 213.6h0M214 225.8h0M259.3 279.3h0M166.3 221.6h0M187.4 285.2h0M208.2 283.9h0M191.6 294.1h0M198.5 217.8h0M167.5 204.4h0M160.8 208.5h0M304.7 283.4h0M302.3 280.7h0M129.4 217.3h0M359.1 285.8h0M155.3 222.9h0M158.8 300.4h0M199.3 285.4h0M246 305.5h0M301.9 279.8h0M157.7 211.9h0M301.8 228.4h0M227.3 211.7h0M200.9 218.3h0M201.7 232.1h0M324.3 234.7h0M344.2 269.6h0M127.2 289.1h0M192.5 301.5h0M222.4 228.3h0M135.3 162.1h0M348 239h0M291.2 278.8h0M200.4 229.2h0M177.5 288.7h0M370.9 261.3h0M323.4 239.8h0M151.7 222.7h0M120.2 290h0M317.8 277.5h0M362.3 263.8h0M230.5 203.8h0M149.5 219h0M150.5 282h0M370.6 273.3h0M115 299.4h0M170.9 211.7h0M300.1 230.9h0M351.1 269.4h0M191 223.1h0M170.4 296.4h0M177.8 213.8h0M274.9 276.5h0M185 289.5h0M140.7 349.2h0M220.4 215.4h0M148.8 308h0M223.7 322.7h0M117.3 325.8h0M191.6 295h0M120.1 179.6h0M300.2 275.4h0M263.7 282.8h0M266.7 217.3h0M136.7 310.1h0M256.3 227.3h0M129.3 290.5h0M166.8 220.2h0M126.7 205.7h0M205.4 215.7h0M337.2 241.9h0M220 283.3h0M123.8 285.2h0M298.5 237.1h0M286.1 233h0M196.8 320.8h0M175.9 231h0M162.9 298.3h0M214 280h0M177.3 295.1h0M150.9 304.2h0M221.6 235.3h0M314 273.6h0M237.7 234.9h0M330.2 279.7h0M167.2 318.1h0M225.3 292h0M214.1 310.4h0M359.6 233.3h0M127.6 211.7h0M236.4 298.2h0M296.7 278.4h0M154.9 206.1h0M178.9 234.2h0M252.1 297.2h0M115.9 291.2h0M253.6 222.4h0M174.5 284h0M221.3 232.7h0M222.7 287.8h0M301.6 234.3h0M222.9 210.1h0M172.4 214.5h0M145.4 295.7h0M133.5 283.7h0M127.1 280.7h0M356 269h0M138.2 290.9h0M348 239.3h0M152 217.3h0M148.4 213.3h0M165.6 322.5h0M222.1 183.2h0M209.6 213.2h0M273.1 232.1h0M296.1 229.2h0M177 339.4h0M132.8 283.3h0M358.4 242.6h0M201.5 221.9h0M242.7 348.4h0M202.7 229.5h0M189.5 279.1h0M253.2 280.2h0M269.2 211.4h0M221.9 233.6h0M277.2 278.4h0M274.3 280.7h0M215.8 299.1h0M210.5 280.9h0M153.9 335.3h0M128.6 283.1h0M198 217.3h0M191.4 304.2h0M127 207.6h0M154.8 227.7h0M220.9 222.8h0M209.2 301.7h0M287.2 275.2h0M265.6 234.1h0M331.4 238.3h0M182.8 280h0M307.5 237.3h0M209.6 309.9h0M261.3 216.5h0M144.3 60.1h0M136.1 83.8h0M189.9 94.9h0M203.6 98.6h0M185.8 98.6h0M131.1 112.5h0M157.9 107.2h0M177.1 106h0M143.7 129.4h0M144.3 135.6h0M148.4 137.1h0M208.5 130.3h0M233.1 130.3h0M233.1 132.5h0M221.6 132.5h0M180.3 136.2h0M160.7 144.8h0M122.4 155h0M256.3 155h0M264.5 147.9h0M233.1 147.9h0M239.9 151h0M212.6 140.2h0M208.5 147.9h0M377.9 166.4h0M313.7 180.2h0M380.7 210.1h0M394.3 214.1h0M406.6 225.5h0M453.1 227.3h0M472.8 233.2h0M495.5 234.7h0M492.7 240.3h0M388.9 226.4h0M376.6 275.7h0M377.9 291.1h0M412.1 279.7h0M373.8 280.3h0M362.9 229.5h0M357.4 235.7h0M130.6 444.2h0M137.4 444.2h0M285.6 444.2h0M130.6 403.5h0M177.6 404.4h0M169.4 385.7h0M180.3 384.4h0M190.7 376.7h0M243.2 369h0M248.7 374.9h0M237.2 354.2h0M131.1 363.5h0M139.3 363.5h0M110.6 348.7h0M112.8 348.7h0M126.5 349.6h0M274.1 323.4h0M153.8 358.9h0M137.4 341.9h0M115.6 331.1h0M112.8 335.8h0M118.3 338.8h0M134.7 157.1h0M137.4 160.2h0M138.8 154h0M142.9 161.7h0M144.3 157.1h0M148.4 154h0M151.1 155.6h0M140.2 146.3h0M136.1 160.2h0M149.7 151h0" stroke="#f02424" stroke-opacity=".7" stroke-width="2.7" stroke-linecap="round" fill="none"/>
<line x1="85.3" y1="222.1" x2="547.8" y2="222.1" stroke="#5a5aff" stroke-width="1.6" stroke-opacity=".85"/>
<line x1="85.3" y1="283.7" x2="547.8" y2="283.7" stroke="#5a5aff" stroke-width="1.6" stroke-opacity=".85"/>
<rect x="85.3" y="46.8" width="462.5" height="413.5" fill="none" stroke="#7a7a7a" stroke-width="2"/>
<text x="67.5" y="444" font-size="19.5" text-anchor="end" stroke="#000" stroke-width=".3">−6</text>
<text x="67.5" y="382.4" font-size="19.5" text-anchor="end" stroke="#000" stroke-width=".3">−4</text>
<text x="67.5" y="320.8" font-size="19.5" text-anchor="end" stroke="#000" stroke-width=".3">−2</text>
<text x="67.5" y="259.2" font-size="19.5" text-anchor="end" stroke="#000" stroke-width=".3">0</text>
<text x="67.5" y="197.6" font-size="19.5" text-anchor="end" stroke="#000" stroke-width=".3">2</text>
<text x="67.5" y="136" font-size="19.5" text-anchor="end" stroke="#000" stroke-width=".3">4</text>
<text x="67.5" y="74.4" font-size="19.5" text-anchor="end" stroke="#000" stroke-width=".3">6</text>
<text x="118.3" y="491.3" font-size="19.5" text-anchor="middle" stroke="#000" stroke-width=".3">0</text>
<text x="254.9" y="491.3" font-size="19.5" text-anchor="middle" stroke="#000" stroke-width=".3">5</text>
<text x="391.6" y="491.3" font-size="19.5" text-anchor="middle" stroke="#000" stroke-width=".3">10</text>
<text x="528.2" y="491.3" font-size="19.5" text-anchor="middle" stroke="#000" stroke-width=".3">15</text>
<path d="M85.3 437.4H76.8M85.3 375.8H76.8M85.3 314.2H76.8M85.3 252.6H76.8M85.3 191H76.8M85.3 129.4H76.8M85.3 67.8H76.8M118.3 460.3V468.8M254.9 460.3V468.8M391.6 460.3V468.8M528.2 460.3V468.8" stroke="#666" stroke-width="2" fill="none"/>
<text font-size="20.5" text-anchor="middle" stroke="#000" stroke-width=".3" transform="translate(33 253) rotate(-90)">LogFC</text>
<text x="328" y="523.6" font-size="20.5" text-anchor="middle" stroke="#000" stroke-width=".3">Average LogCPM</text>
<text x="340.5" y="396.8" font-size="20.3" stroke="#000" stroke-width=".3">Xirp2 (Xinβ)</text>
<line x1="333.5" y1="406.8" x2="300" y2="433" stroke="#000" stroke-width="1.7"/>
<path d="M294 437.8 L304.5 434.4 L299.7 428.2 Z" fill="#000"/>
</g>
<g id="pb">
<text x="609" y="31" font-size="42" stroke="#000" stroke-width=".7">b</text>
<path d="M828 43.24H895.3M855.4 43.94H895.3M855.4 44.64H895.3M855.4 43.94V44.64M842.4 44.29H855.4M856.6 45.34H895.3M856.6 46.04H895.3M856.6 45.34V46.04M842.4 45.69H856.6M842.4 44.29V45.69M828 44.99H842.4M828 43.24V44.99M814.4 44.12H828M814.4 46.74H895.3M814.4 44.12V46.74M804.1 45.43H814.4M845.9 47.44H895.3M845.9 48.14H895.3M845.9 47.44V48.14M804.1 47.79H845.9M804.1 45.43V47.79M757.2 46.61H804.1M809.6 48.84H895.3M830.7 49.54H895.3M840.3 50.24H895.3M848.3 50.94H895.3M853.4 51.64H895.3M853.4 52.35H895.3M853.4 51.64V52.35M848.3 51.99H853.4M848.3 50.94V51.99M840.3 51.47H848.3M840.3 50.24V51.47M830.7 50.86H840.3M830.7 49.54V50.86M809.6 50.2H830.7M809.6 48.84V50.2M791.7 49.52H809.6M791.7 53.05H895.3M791.7 49.52V53.05M757.2 51.28H791.7M757.2 46.61V51.28M702.8 48.95H757.2M847 53.72H895.3M847 54.38H895.3M847 53.72V54.38M827 54.05H847M839.7 55.04H895.3M839.7 55.69H895.3M839.7 55.04V55.69M827 55.37H839.7M827 54.05V55.37M739.2 54.71H827M865.5 56.37H895.3M872.1 57.05H895.3M872.1 57.74H895.3M872.1 57.05V57.74M865.5 57.39H872.1M865.5 56.37V57.39M859.5 56.88H865.5M859.5 58.42H895.3M859.5 56.88V58.42M840.8 57.65H859.5M865.5 59.11H895.3M872.2 59.8H895.3M872.2 60.48H895.3M872.2 59.8V60.48M868.5 60.14H872.2M868.5 61.17H895.3M868.5 60.14V61.17M865.5 60.65H868.5M865.5 59.11V60.65M855 59.88H865.5M878.9 61.85H895.3M878.9 62.54H895.3M878.9 61.85V62.54M876 62.2H878.9M880.8 63.23H895.3M882.4 63.91H895.3M882.4 64.6H895.3M882.4 63.91V64.6M880.8 64.26H882.4M880.8 63.23V64.26M879.2 63.74H880.8M879.2 65.29H895.3M879.2 63.74V65.29M876 64.51H879.2M876 62.2V64.51M874.4 63.36H876M879.2 65.97H895.3M879.2 66.66H895.3M879.2 65.97V66.66M874.4 66.31H879.2M874.4 63.36V66.31M869.5 64.84H874.4M877 67.34H895.3M877 68.03H895.3M877 67.34V68.03M869.5 67.69H877M869.5 64.84V67.69M864.1 66.26H869.5M864.1 68.72H895.3M864.1 66.26V68.72M855 67.49H864.1M855 59.88V67.49M851.4 63.69H855M874.5 69.4H895.3M874.5 70.09H895.3M874.5 69.4V70.09M869.7 69.75H874.5M873.4 70.77H895.3M873.4 71.46H895.3M873.4 70.77V71.46M869.7 71.12H873.4M869.7 69.75V71.12M851.4 70.43H869.7M851.4 63.69V70.43M840.8 67.06H851.4M840.8 57.65V67.06M834 62.36H840.8M834 72.15H895.3M834 62.36V72.15M812.9 67.25H834M868 72.83H895.3M873.5 73.52H895.3M873.5 74.21H895.3M873.5 73.52V74.21M871.5 73.86H873.5M871.5 74.89H895.3M871.5 73.86V74.89M868 74.38H871.5M868 72.83V74.38M861.6 73.6H868M861.6 75.58H895.3M861.6 73.6V75.58M852.5 74.59H861.6M852.5 76.26H895.3M852.5 74.59V76.26M838 75.43H852.5M859.7 76.95H895.3M871.6 77.64H895.3M871.6 78.32H895.3M871.6 77.64V78.32M867 77.98H871.6M867 79.01H895.3M867 77.98V79.01M859.7 78.49H867M859.7 76.95V78.49M855.7 77.72H859.7M855.7 79.69H895.3M855.7 77.72V79.69M838 78.71H855.7M838 75.43V78.71M812.9 77.07H838M812.9 67.25V77.07M790.4 72.16H812.9M875.8 80.38H895.3M875.8 81.06H895.3M875.8 80.38V81.06M874 80.72H875.8M874 81.74H895.3M874 80.72V81.74M870.5 81.23H874M876.7 82.42H895.3M876.7 83.1H895.3M876.7 82.42V83.1M870.5 82.76H876.7M870.5 81.23V82.76M855.8 81.99H870.5M881.7 83.78H895.3M881.7 84.46H895.3M881.7 83.78V84.46M880.1 84.12H881.7M880.1 85.14H895.3M880.1 84.12V85.14M878.5 84.63H880.1M878.5 85.82H895.3M878.5 84.63V85.82M875.4 85.23H878.5M875.4 86.5H895.3M875.4 85.23V86.5M872.8 85.86H875.4M872.8 87.18H895.3M872.8 85.86V87.18M862.1 86.52H872.8M875.1 87.86H895.3M877.9 88.54H895.3M880.4 89.23H895.3M880.4 89.91H895.3M880.4 89.23V89.91M877.9 89.57H880.4M877.9 88.54V89.57M875.1 89.06H877.9M875.1 87.86V89.06M873.1 88.46H875.1M873.1 90.59H895.3M873.1 88.46V90.59M869.3 89.52H873.1M879.7 91.27H895.3M879.7 91.95H895.3M879.7 91.27V91.95M878.1 91.61H879.7M878.1 92.63H895.3M878.1 91.61V92.63M874.8 92.12H878.1M874.8 93.31H895.3M874.8 92.12V93.31M869.3 92.71H874.8M869.3 89.52V92.71M866.2 91.12H869.3M875.5 93.99H895.3M875.5 94.67H895.3M875.5 93.99V94.67M866.2 94.33H875.5M866.2 91.12V94.33M862.1 92.72H866.2M862.1 86.52V92.72M855.8 89.62H862.1M855.8 81.99V89.62M846 85.81H855.8M866.3 95.35H895.3M871.7 96.03H895.3M874 96.71H895.3M874 97.39H895.3M874 96.71V97.39M871.7 97.05H874M871.7 96.03V97.05M866.3 96.54H871.7M866.3 95.35V96.54M846 95.95H866.3M846 85.81V95.95M838.2 90.88H846M838.2 98.07H895.3M838.2 90.88V98.07M829.4 94.48H838.2M866.6 98.75H895.3M866.6 99.43H895.3M866.6 98.75V99.43M861.4 99.09H866.6M861.4 100.11H895.3M861.4 99.09V100.11M829.4 99.6H861.4M829.4 94.48V99.6M814.8 97.04H829.4M836.4 100.79H895.3M874 101.48H895.3M874 102.16H895.3M874 101.48V102.16M867.6 101.82H874M874 102.84H895.3M874 103.52H895.3M874 102.84V103.52M867.6 103.18H874M867.6 101.82V103.18M848.2 102.5H867.6M871.4 104.2H895.3M871.4 104.88H895.3M871.4 104.2V104.88M852.7 104.54H871.4M862 105.56H895.3M874.5 106.24H895.3M879.3 106.92H895.3M880.9 107.6H895.3M882.5 108.28H895.3M884.1 108.96H895.3M885.7 109.64H895.3M885.7 110.32H895.3M885.7 109.64V110.32M884.1 109.98H885.7M884.1 108.96V109.98M882.5 109.47H884.1M882.5 108.28V109.47M880.9 108.88H882.5M880.9 107.6V108.88M879.3 108.24H880.9M879.3 106.92V108.24M877.6 107.58H879.3M877.6 111H895.3M877.6 107.58V111M874.5 109.29H877.6M874.5 106.24V109.29M872.5 107.77H874.5M877.8 111.68H895.3M877.8 112.36H895.3M877.8 111.68V112.36M872.5 112.02H877.8M872.5 107.77V112.02M870.9 109.89H872.5M870.9 113.05H895.3M870.9 109.89V113.05M865.4 111.47H870.9M865.4 113.73H895.3M865.4 111.47V113.73M862 112.6H865.4M862 105.56V112.6M860 109.08H862M860 114.41H895.3M860 109.08V114.41M852.7 111.74H860M852.7 104.54V111.74M848.2 108.14H852.7M848.2 102.5V108.14M836.4 105.32H848.2M836.4 100.79V105.32M814.8 103.06H836.4M814.8 97.04V103.06M790.4 100.05H814.8M790.4 72.16V100.05M776.4 86.1H790.4M844 115.1H895.3M844 115.8H895.3M844 115.1V115.8M828 115.45H844M847.1 116.51H895.3M847.1 117.21H895.3M847.1 116.51V117.21M828 116.86H847.1M828 115.45V116.86M820.4 116.15H828M820.4 117.91H895.3M820.4 116.15V117.91M806.4 117.03H820.4M828 118.62H895.3M845.6 119.32H895.3M845.6 120.02H895.3M845.6 119.32V120.02M828 119.67H845.6M828 118.62V119.67M806.4 119.14H828M806.4 117.03V119.14M776.4 118.09H806.4M776.4 86.1V118.09M739.2 102.1H776.4M739.2 54.71V102.1M720.1 78.4H739.2M807.5 120.72H895.3M813.9 121.4H895.3M866.5 122.08H895.3M866.5 122.76H895.3M866.5 122.08V122.76M855.6 122.42H866.5M861.5 123.45H895.3M861.5 124.13H895.3M861.5 123.45V124.13M855.6 123.79H861.5M855.6 122.42V123.79M847.5 123.1H855.6M847.5 124.81H895.3M847.5 123.1V124.81M840.7 123.96H847.5M860.2 125.49H895.3M860.2 126.17H895.3M860.2 125.49V126.17M840.7 125.83H860.2M840.7 123.96V125.83M821.6 124.9H840.7M844 126.86H895.3M857.2 127.54H895.3M857.2 128.22H895.3M857.2 127.54V128.22M844 127.88H857.2M844 126.86V127.88M821.6 127.37H844M821.6 124.9V127.37M813.9 126.13H821.6M813.9 121.4V126.13M807.5 123.77H813.9M807.5 120.72V123.77M797.9 122.24H807.5M797.9 128.9H895.3M797.9 122.24V128.9M776.4 125.57H797.9M848.5 129.59H895.3M861.3 130.27H895.3M861.3 130.95H895.3M861.3 130.27V130.95M854.2 130.61H861.3M865.7 131.63H895.3M865.7 132.31H895.3M865.7 131.63V132.31M854.2 131.97H865.7M854.2 130.61V131.97M848.5 131.29H854.2M848.5 129.59V131.29M836.9 130.44H848.5M854.1 133H895.3M854.1 133.68H895.3M854.1 133V133.68M836.9 133.34H854.1M836.9 130.44V133.34M823.3 131.89H836.9M847.3 134.36H895.3M847.3 135.04H895.3M847.3 134.36V135.04M823.3 134.7H847.3M823.3 131.89V134.7M776.4 133.3H823.3M776.4 125.57V133.3M720.1 129.43H776.4M720.1 78.4V129.43M702.8 103.92H720.1M702.8 48.95V103.92M690.6 76.43H702.8M844.3 135.72H895.3M874.4 136.4H895.3M877.1 137.08H895.3M877.1 137.76H895.3M877.1 137.08V137.76M874.4 137.42H877.1M874.4 136.4V137.42M866.7 136.91H874.4M872.4 138.44H895.3M874.9 139.12H895.3M882.8 139.8H895.3M884.4 140.48H895.3M884.4 141.16H895.3M884.4 140.48V141.16M882.8 140.82H884.4M882.8 139.8V140.82M881.2 140.31H882.8M881.2 141.84H895.3M881.2 140.31V141.84M879.3 141.07H881.2M879.3 142.52H895.3M879.3 141.07V142.52M876.5 141.8H879.3M876.5 143.2H895.3M876.5 141.8V143.2M874.9 142.5H876.5M874.9 139.12V142.5M872.4 140.81H874.9M872.4 138.44V140.81M866.7 139.62H872.4M866.7 136.91V139.62M863.5 138.27H866.7M863.5 143.88H895.3M863.5 138.27V143.88M854.1 141.07H863.5M871 144.56H895.3M875.3 145.23H895.3M875.3 145.91H895.3M875.3 145.23V145.91M871 145.57H875.3M871 144.56V145.57M854.1 145.06H871M854.1 141.07V145.06M844.3 143.07H854.1M844.3 135.72V143.07M822.9 139.4H844.3M839 146.59H895.3M865.7 147.27H895.3M870.6 147.95H895.3M873.2 148.63H895.3M877.4 149.31H895.3M877.4 149.99H895.3M877.4 149.31V149.99M873.2 149.65H877.4M873.2 148.63V149.65M870.6 149.14H873.2M870.6 147.95V149.14M865.7 148.55H870.6M865.7 147.27V148.55M857.5 147.91H865.7M857.5 150.67H895.3M857.5 147.91V150.67M850.1 149.29H857.5M865.3 151.35H895.3M865.3 152.03H895.3M865.3 151.35V152.03M850.1 151.69H865.3M850.1 149.29V151.69M839 150.49H850.1M839 146.59V150.49M822.9 148.54H839M822.9 139.4V148.54M797.7 143.97H822.9M821.6 152.71H895.3M858.9 153.39H895.3M867.9 154.07H895.3M867.9 154.74H895.3M867.9 154.07V154.74M858.9 154.41H867.9M858.9 153.39V154.41M838.9 153.9H858.9M875.6 155.42H895.3M877.2 156.1H895.3M877.2 156.78H895.3M877.2 156.1V156.78M875.6 156.44H877.2M875.6 155.42V156.44M870.3 155.93H875.6M879.1 157.46H895.3M879.1 158.14H895.3M879.1 157.46V158.14M875.6 157.8H879.1M875.6 158.82H895.3M875.6 157.8V158.82M870.3 158.31H875.6M870.3 155.93V158.31M862.5 157.12H870.3M876.8 159.5H895.3M876.8 160.18H895.3M876.8 159.5V160.18M870.2 159.84H876.8M879 160.86H895.3M879 161.54H895.3M879 160.86V161.54M875.3 161.2H879M875.3 162.22H895.3M875.3 161.2V162.22M870.2 161.71H875.3M870.2 159.84V161.71M862.5 160.77H870.2M862.5 157.12V160.77M858.2 158.95H862.5M872.5 162.9H895.3M872.5 163.58H895.3M872.5 162.9V163.58M858.2 163.24H872.5M858.2 158.95V163.24M853.6 161.09H858.2M867.9 164.26H895.3M871.9 164.93H895.3M873.9 165.61H895.3M873.9 166.29H895.3M873.9 165.61V166.29M871.9 165.95H873.9M871.9 164.93V165.95M867.9 165.44H871.9M867.9 164.26V165.44M853.6 164.85H867.9M853.6 161.09V164.85M845.8 162.97H853.6M845.8 166.97H895.3M845.8 162.97V166.97M838.9 164.97H845.8M838.9 153.9V164.97M834.2 159.43H838.9M863.5 167.65H895.3M863.5 168.33H895.3M863.5 167.65V168.33M834.2 167.99H863.5M834.2 159.43V167.99M821.6 163.71H834.2M821.6 152.71V163.71M797.7 158.21H821.6M797.7 143.97V158.21M777.3 151.09H797.7M859.7 169.01H895.3M873.7 169.69H895.3M876.8 170.37H895.3M876.8 171.05H895.3M876.8 170.37V171.05M873.7 170.71H876.8M873.7 169.69V170.71M866.2 170.2H873.7M878 171.73H895.3M878 172.41H895.3M878 171.73V172.41M875.9 172.07H878M878.9 173.09H895.3M878.9 173.77H895.3M878.9 173.09V173.77M875.9 173.43H878.9M875.9 172.07V173.43M872.1 172.75H875.9M872.1 174.44H895.3M872.1 172.75V174.44M866.2 173.6H872.1M866.2 170.2V173.6M859.7 171.9H866.2M859.7 169.01V171.9M854.2 170.45H859.7M854.2 175.12H895.3M854.2 170.45V175.12M846.5 172.79H854.2M868.6 175.8H895.3M874 176.48H895.3M874 177.16H895.3M874 176.48V177.16M868.6 176.82H874M868.6 175.8V176.82M864.3 176.31H868.6M872.5 177.84H895.3M872.5 178.52H895.3M872.5 177.84V178.52M864.3 178.18H872.5M864.3 176.31V178.18M857.3 177.25H864.3M868.7 179.2H895.3M868.7 179.88H895.3M868.7 179.2V179.88M864.8 179.54H868.7M864.8 180.56H895.3M864.8 179.54V180.56M857.3 180.05H864.8M857.3 177.25V180.05M846.5 178.65H857.3M846.5 172.79V178.65M830.6 175.72H846.5M867.6 181.24H895.3M872.7 181.92H895.3M872.7 182.6H895.3M872.7 181.92V182.6M869.9 182.26H872.7M869.9 183.28H895.3M869.9 182.26V183.28M867.6 182.77H869.9M867.6 181.24V182.77M862.9 182H867.6M862.9 183.95H895.3M862.9 182V183.95M852 182.98H862.9M871.1 184.63H895.3M871.1 185.31H895.3M871.1 184.63V185.31M867.5 184.97H871.1M867.5 185.99H895.3M867.5 184.97V185.99M863.7 185.48H867.5M872.3 186.67H895.3M872.3 187.35H895.3M872.3 186.67V187.35M863.7 187.01H872.3M863.7 185.48V187.01M852 186.25H863.7M852 182.98V186.25M830.6 184.61H852M830.6 175.72V184.61M814.5 180.17H830.6M871.7 188.03H895.3M871.7 188.71H895.3M871.7 188.03V188.71M868.8 188.37H871.7M868.8 189.39H895.3M868.8 188.37V189.39M866.5 188.88H868.8M866.5 190.07H895.3M866.5 188.88V190.07M861.4 189.47H866.5M861.4 190.75H895.3M861.4 189.47V190.75M858 190.11H861.4M866.5 191.43H895.3M866.5 192.11H895.3M866.5 191.43V192.11M858 191.77H866.5M858 190.11V191.77M854.3 190.94H858M854.3 192.79H895.3M854.3 190.94V192.79M847.2 191.86H854.3M868.1 193.47H895.3M868.1 194.14H895.3M868.1 193.47V194.14M847.2 193.8H868.1M847.2 191.86V193.8M814.5 192.83H847.2M814.5 180.17V192.83M777.3 186.5H814.5M777.3 151.09V186.5M771.1 168.79H777.3M855.5 194.82H895.3M855.5 195.5H895.3M855.5 194.82V195.5M820.7 195.16H855.5M864.6 196.18H895.3M864.6 196.86H895.3M864.6 196.18V196.86M855.1 196.52H864.6M855.1 197.53H895.3M855.1 196.52V197.53M830.3 197.02H855.1M848.1 198.21H895.3M864.6 198.89H895.3M872.7 199.57H895.3M879.8 200.24H895.3M879.8 200.92H895.3M879.8 200.24V200.92M878.2 200.58H879.8M878.2 201.6H895.3M878.2 200.58V201.6M874.3 201.09H878.2M878.8 202.28H895.3M878.8 202.95H895.3M878.8 202.28V202.95M874.3 202.61H878.8M874.3 201.09V202.61M872.7 201.85H874.3M872.7 199.57V201.85M868.6 200.71H872.7M868.6 203.63H895.3M868.6 200.71V203.63M864.6 202.17H868.6M864.6 198.89V202.17M861.6 200.53H864.6M861.6 204.31H895.3M861.6 200.53V204.31M853.8 202.42H861.6M872.1 204.99H895.3M874.6 205.66H895.3M874.6 206.34H895.3M874.6 205.66V206.34M872.1 206H874.6M872.1 204.99V206M869.1 205.49H872.1M869.1 207.02H895.3M869.1 205.49V207.02M863.8 206.26H869.1M873.6 207.7H895.3M873.6 208.37H895.3M873.6 207.7V208.37M863.8 208.03H873.6M863.8 206.26V208.03M853.8 207.14H863.8M853.8 202.42V207.14M848.1 204.78H853.8M848.1 198.21V204.78M838.3 201.5H848.1M859.5 209.05H895.3M873.3 209.73H895.3M873.3 210.41H895.3M873.3 209.73V210.41M870 210.07H873.3M870 211.08H895.3M870 210.07V211.08M865.7 210.57H870M874.6 211.76H895.3M874.6 212.44H895.3M874.6 211.76V212.44M871.7 212.1H874.6M871.7 213.12H895.3M871.7 212.1V213.12M865.7 212.61H871.7M865.7 210.57V212.61M859.5 211.59H865.7M859.5 209.05V211.59M849.3 210.32H859.5M866.8 213.79H895.3M871 214.47H895.3M874.2 215.15H895.3M874.2 215.83H895.3M874.2 215.15V215.83M871 215.49H874.2M871 214.47V215.49M866.8 214.98H871M866.8 213.79V214.98M861.9 214.39H866.8M869.6 216.5H895.3M869.6 217.18H895.3M869.6 216.5V217.18M861.9 216.84H869.6M861.9 214.39V216.84M849.3 215.61H861.9M849.3 210.32V215.61M838.3 212.97H849.3M838.3 201.5V212.97M830.3 207.23H838.3M830.3 197.02V207.23M820.7 202.13H830.3M820.7 195.16V202.13M811.2 198.64H820.7M859.4 217.86H895.3M859.4 218.54H895.3M859.4 217.86V218.54M843.2 218.2H859.4M856.1 219.21H895.3M856.1 219.89H895.3M856.1 219.21V219.89M843.2 219.55H856.1M843.2 218.2V219.55M811.2 218.87H843.2M811.2 198.64V218.87M797.9 208.76H811.2M845.1 220.57H895.3M872.5 221.25H895.3M872.5 221.92H895.3M872.5 221.25V221.92M867.5 221.58H872.5M867.5 222.6H895.3M867.5 221.58V222.6M861.2 222.09H867.5M861.2 223.28H895.3M861.2 222.09V223.28M853.4 222.69H861.2M864.3 223.96H895.3M864.3 224.63H895.3M864.3 223.96V224.63M853.4 224.29H864.3M853.4 222.69V224.29M845.1 223.49H853.4M845.1 220.57V223.49M834.7 222.03H845.1M856.3 225.31H895.3M861.5 225.99H895.3M861.5 226.67H895.3M861.5 225.99V226.67M856.3 226.33H861.5M856.3 225.31V226.33M834.7 225.82H856.3M834.7 222.03V225.82M824.3 223.92H834.7M862.1 227.34H895.3M862.1 228.02H895.3M862.1 227.34V228.02M851.6 227.68H862.1M864.7 228.7H895.3M871.1 229.38H895.3M871.1 230.05H895.3M871.1 229.38V230.05M864.7 229.71H871.1M864.7 228.7V229.71M860.7 229.21H864.7M860.7 230.73H895.3M860.7 229.21V230.73M851.6 229.97H860.7M851.6 227.68V229.97M824.3 228.83H851.6M824.3 223.92V228.83M797.9 226.37H824.3M797.9 208.76V226.37M771.1 217.57H797.9M771.1 168.79V217.57M734.1 193.18H771.1M856.9 231.41H895.3M856.9 232.09H895.3M856.9 231.41V232.09M847.3 231.75H856.9M847.3 232.76H895.3M847.3 231.75V232.76M831 232.26H847.3M831 233.44H895.3M831 232.26V233.44M810.4 232.85H831M837.7 234.12H895.3M837.7 234.8H895.3M837.7 234.12V234.8M810.4 234.46H837.7M810.4 232.85V234.46M796.2 233.65H810.4M796.2 235.47H895.3M796.2 233.65V235.47M766 234.56H796.2M855.6 236.15H895.3M855.6 236.83H895.3M855.6 236.15V236.83M833.4 236.49H855.6M852.5 237.51H895.3M852.5 238.18H895.3M852.5 237.51V238.18M846.3 237.84H852.5M846.3 238.86H895.3M846.3 237.84V238.86M833.4 238.35H846.3M833.4 236.49V238.35M820.1 237.42H833.4M843.3 239.54H895.3M843.3 240.22H895.3M843.3 239.54V240.22M820.1 239.88H843.3M820.1 237.42V239.88M785.7 238.65H820.1M815 240.89H895.3M828.3 241.57H895.3M840.7 242.25H895.3M840.7 242.93H895.3M840.7 242.25V242.93M828.3 242.59H840.7M828.3 241.57V242.59M815 242.08H828.3M815 240.89V242.08M785.7 241.49H815M785.7 238.65V241.49M766 240.07H785.7M766 234.56V240.07M753.8 237.32H766M847.7 243.61H895.3M847.7 244.3H895.3M847.7 243.61V244.3M818.8 243.95H847.7M844.4 244.98H895.3M850.4 245.67H895.3M858 246.36H895.3M858 247.05H895.3M858 246.36V247.05M850.4 246.7H858M850.4 245.67V246.7M844.4 246.19H850.4M844.4 244.98V246.19M833.9 245.59H844.4M865.6 247.74H895.3M865.6 248.42H895.3M865.6 247.74V248.42M855.4 248.08H865.6M855.4 249.11H895.3M855.4 248.08V249.11M833.9 248.6H855.4M833.9 245.59V248.6M818.8 247.09H833.9M818.8 243.95V247.09M774.5 245.52H818.8M846.7 249.8H895.3M846.7 250.49H895.3M846.7 249.8V250.49M827.1 250.14H846.7M844.2 251.18H895.3M850 251.86H895.3M868.4 252.55H895.3M868.4 253.24H895.3M868.4 252.55V253.24M860.7 252.9H868.4M860.7 253.93H895.3M860.7 252.9V253.93M850 253.41H860.7M850 251.86V253.41M844.2 252.64H850M844.2 251.18V252.64M827.1 251.91H844.2M827.1 250.14V251.91M797.3 251.03H827.1M851.5 254.62H895.3M861.7 255.3H895.3M861.7 255.99H895.3M861.7 255.3V255.99M851.5 255.65H861.7M851.5 254.62V255.65M833.9 255.13H851.5M851.1 256.68H895.3M870.3 257.37H895.3M870.3 258.06H895.3M870.3 257.37V258.06M864.4 257.71H870.3M864.4 258.74H895.3M864.4 257.71V258.74M855.6 258.23H864.4M855.6 259.43H895.3M855.6 258.23V259.43M851.1 258.83H855.6M851.1 256.68V258.83M846 257.75H851.1M862.7 260.12H895.3M862.7 260.81H895.3M862.7 260.12V260.81M846 260.46H862.7M846 257.75V260.46M833.9 259.11H846M833.9 255.13V259.11M823.3 257.12H833.9M858.3 261.49H895.3M862 262.18H895.3M862 262.87H895.3M862 262.18V262.87M858.3 262.53H862M858.3 261.49V262.53M850.2 262.01H858.3M850.2 263.56H895.3M850.2 262.01V263.56M823.3 262.78H850.2M823.3 257.12V262.78M797.3 259.95H823.3M797.3 251.03V259.95M774.5 255.49H797.3M774.5 245.52V255.49M753.8 250.51H774.5M753.8 237.32V250.51M734.1 243.91H753.8M734.1 193.18V243.91M727.6 218.55H734.1M854.4 264.26H895.3M854.4 264.97H895.3M854.4 264.26V264.97M848.4 264.62H854.4M848.4 265.68H895.3M848.4 264.62V265.68M840.1 265.15H848.4M856.8 266.4H895.3M856.8 267.11H895.3M856.8 266.4V267.11M840.1 266.75H856.8M840.1 265.15V266.75M825 265.95H840.1M825 267.82H895.3M825 265.95V267.82M810.1 266.89H825M834.1 268.54H895.3M849.6 269.25H895.3M849.6 269.96H895.3M849.6 269.25V269.96M842.6 269.61H849.6M842.6 270.68H895.3M842.6 269.61V270.68M834.1 270.14H842.6M834.1 268.54V270.14M810.1 269.34H834.1M810.1 266.89V269.34M727.6 268.11H810.1M727.6 218.55V268.11M708.8 243.33H727.6M847.9 271.37H895.3M847.9 272.06H895.3M847.9 271.37V272.06M826.2 271.71H847.9M841.3 272.74H895.3M859.2 273.42H895.3M859.2 274.1H895.3M859.2 273.42V274.1M846.1 273.76H859.2M861.6 274.78H895.3M861.6 275.47H895.3M861.6 274.78V275.47M846.1 275.13H861.6M846.1 273.76V275.13M841.3 274.44H846.1M841.3 272.74V274.44M826.2 273.59H841.3M826.2 271.71V273.59M798.9 272.65H826.2M835.1 276.15H895.3M844.6 276.83H895.3M856.2 277.51H895.3M856.2 278.2H895.3M856.2 277.51V278.2M844.6 277.85H856.2M844.6 276.83V277.85M835.1 277.34H844.6M835.1 276.15V277.34M798.9 276.75H835.1M798.9 272.65V276.75M708.8 274.7H798.9M708.8 243.33V274.7M690.6 259.01H708.8M690.6 76.43V259.01M641.7 167.72H690.6M835 278.87H895.3M835 279.54H895.3M835 278.87V279.54M810.4 279.21H835M830.3 280.21H895.3M830.3 280.88H895.3M830.3 280.21V280.88M810.4 280.55H830.3M810.4 279.21V280.55M792.2 279.88H810.4M792.2 281.55H895.3M792.2 279.88V281.55M770.1 280.71H792.2M770.1 282.22H895.3M770.1 280.71V282.22M670.9 281.47H770.1M840.2 282.89H895.3M840.2 283.56H895.3M840.2 282.89V283.56M824.4 283.23H840.2M840 284.23H895.3M853 284.9H895.3M853 285.57H895.3M853 284.9V285.57M840 285.24H853M840 284.23V285.24M824.4 284.73H840M824.4 283.23V284.73M814 283.98H824.4M814 286.24H895.3M814 283.98V286.24M793.5 285.11H814M846.9 286.91H895.3M846.9 287.58H895.3M846.9 286.91V287.58M830.4 287.25H846.9M843.5 288.25H895.3M843.5 288.92H895.3M843.5 288.25V288.92M830.4 288.59H843.5M830.4 287.25V288.59M820 287.92H830.4M841.7 289.59H895.3M841.7 290.26H895.3M841.7 289.59V290.26M820 289.93H841.7M820 287.92V289.93M793.5 288.92H820M793.5 285.11V288.92M759 287.02H793.5M827.2 290.93H895.3M827.2 291.6H895.3M827.2 290.93V291.6M759 291.27H827.2M759 287.02V291.27M721.7 289.14H759M721.7 292.27H895.3M721.7 289.14V292.27M670.9 290.71H721.7M670.9 281.47V290.71M641.7 286.09H670.9M641.7 167.72V286.09M866.8 293.1H895.3M866.8 293.78H895.3M866.8 293.1V293.78M855.7 293.44H866.8M859.9 294.47H895.3M866.6 295.15H895.3M869.3 295.83H895.3M869.3 296.52H895.3M869.3 295.83V296.52M866.6 296.18H869.3M866.6 295.15V296.18M864 295.66H866.6M864 297.2H895.3M864 295.66V297.2M859.9 296.43H864M859.9 294.47V296.43M855.7 295.45H859.9M855.7 293.44V295.45M851.5 294.45H855.7M851.5 297.88H895.3M851.5 294.45V297.88M834.8 296.16H851.5M872.7 298.57H895.3M872.7 299.25H895.3M872.7 298.57V299.25M860.6 298.91H872.7M877.9 299.93H895.3M877.9 300.62H895.3M877.9 299.93V300.62M875.4 300.28H877.9M875.4 301.3H895.3M875.4 300.28V301.3M872.4 300.79H875.4M872.4 301.98H895.3M872.4 300.79V301.98M867.1 301.39H872.4M875.7 302.67H895.3M875.7 303.35H895.3M875.7 302.67V303.35M867.1 303.01H875.7M867.1 301.39V303.01M860.6 302.2H867.1M860.6 298.91V302.2M853.5 300.55H860.6M853.5 304.04H895.3M853.5 300.55V304.04M834.8 302.29H853.5M834.8 296.16V302.29M800.8 299.23H834.8M862.2 304.72H895.3M868.7 305.4H895.3M868.7 306.09H895.3M868.7 305.4V306.09M862.2 305.74H868.7M862.2 304.72V305.74M824.6 305.23H862.2M863.2 306.77H895.3M876.6 307.45H895.3M876.6 308.14H895.3M876.6 307.45V308.14M874.5 307.79H876.6M874.5 308.82H895.3M874.5 307.79V308.82M870.6 308.31H874.5M870.6 309.5H895.3M870.6 308.31V309.5M867.8 308.9H870.6M875.5 310.19H895.3M875.5 310.87H895.3M875.5 310.19V310.87M867.8 310.53H875.5M867.8 308.9V310.53M863.2 309.72H867.8M863.2 306.77V309.72M856.2 308.24H863.2M856.2 311.55H895.3M856.2 308.24V311.55M834 309.9H856.2M873.7 312.24H895.3M873.7 312.92H895.3M873.7 312.24V312.92M868 312.58H873.7M868 313.6H895.3M868 312.58V313.6M846.4 313.09H868M867.6 314.29H895.3M877.7 314.97H895.3M880.6 315.65H895.3M880.6 316.34H895.3M880.6 315.65V316.34M877.7 316H880.6M877.7 314.97V316M874.6 315.48H877.7M878.2 317.02H895.3M879.8 317.7H895.3M881.4 318.39H895.3M883 319.07H895.3M883 319.75H895.3M883 319.07V319.75M881.4 319.41H883M881.4 318.39V319.41M879.8 318.9H881.4M879.8 317.7V318.9M878.2 318.3H879.8M878.2 317.02V318.3M874.6 317.66H878.2M874.6 315.48V317.66M870.1 316.57H874.6M876.1 320.44H895.3M876.1 321.12H895.3M876.1 320.44V321.12M870.1 320.78H876.1M870.1 316.57V320.78M867.6 318.68H870.1M867.6 314.29V318.68M864.7 316.48H867.6M864.7 321.81H895.3M864.7 316.48V321.81M854.9 319.14H864.7M866.8 322.49H895.3M870.5 323.17H895.3M878.9 323.86H895.3M878.9 324.54H895.3M878.9 323.86V324.54M873.9 324.2H878.9M881 325.22H895.3M881 325.91H895.3M881 325.22V325.91M879.4 325.56H881M879.4 326.59H895.3M879.4 325.56V326.59M877.8 326.08H879.4M877.8 327.27H895.3M877.8 326.08V327.27M873.9 326.67H877.8M873.9 324.2V326.67M872.3 325.44H873.9M872.3 327.96H895.3M872.3 325.44V327.96M870.5 326.7H872.3M870.5 323.17V326.7M866.8 324.93H870.5M866.8 322.49V324.93M863.5 323.71H866.8M871.7 328.64H895.3M873.8 329.32H895.3M873.8 330.01H895.3M873.8 329.32V330.01M871.7 329.66H873.8M871.7 328.64V329.66M863.5 329.15H871.7M863.5 323.71V329.15M854.9 326.43H863.5M854.9 319.14V326.43M851.2 322.79H854.9M851.2 330.69H895.3M851.2 322.79V330.69M846.4 326.74H851.2M846.4 313.09V326.74M834 319.91H846.4M834 309.9V319.91M824.6 314.91H834M824.6 305.23V314.91M800.8 310.07H824.6M800.8 299.23V310.07M771.1 304.65H800.8M868.5 331.37H895.3M871.9 332.04H895.3M871.9 332.71H895.3M871.9 332.04V332.71M868.5 332.37H871.9M868.5 331.37V332.37M859.6 331.87H868.5M865.7 333.38H895.3M870.7 334.05H895.3M870.7 334.72H895.3M870.7 334.05V334.72M865.7 334.38H870.7M865.7 333.38V334.38M859.6 333.88H865.7M859.6 331.87V333.88M850.6 332.87H859.6M850.6 335.39H895.3M850.6 332.87V335.39M844 334.13H850.6M844 336.06H895.3M844 334.13V336.06M832.6 335.09H844M845.3 336.73H895.3M867 337.4H895.3M870.6 338.07H895.3M870.6 338.74H895.3M870.6 338.07V338.74M867 338.4H870.6M867 337.4V338.4M856.4 337.9H867M868.2 339.41H895.3M868.2 340.08H895.3M868.2 339.41V340.08M856.4 339.74H868.2M856.4 337.9V339.74M845.3 338.82H856.4M845.3 336.73V338.82M832.6 337.77H845.3M832.6 335.09V337.77M771.1 336.43H832.6M771.1 304.65V336.43M765.5 320.54H771.1M878 340.76H895.3M878 341.44H895.3M878 340.76V341.44M874.1 341.1H878M874.1 342.12H895.3M874.1 341.1V342.12M866.6 341.61H874.1M874.7 342.81H895.3M874.7 343.49H895.3M874.7 342.81V343.49M872.5 343.15H874.7M872.5 344.18H895.3M872.5 343.15V344.18M866.6 343.67H872.5M866.6 341.61V343.67M861.1 342.64H866.6M869.3 344.86H895.3M878.7 345.55H895.3M878.7 346.23H895.3M878.7 345.55V346.23M876.9 345.89H878.7M876.9 346.92H895.3M876.9 345.89V346.92M873.4 346.4H876.9M873.4 347.6H895.3M873.4 346.4V347.6M871.8 347H873.4M871.8 348.29H895.3M871.8 347V348.29M869.3 347.65H871.8M869.3 344.86V347.65M861.1 346.25H869.3M861.1 342.64V346.25M853.6 344.45H861.1M853.6 348.97H895.3M853.6 344.45V348.97M851.4 346.71H853.6M851.4 349.66H895.3M851.4 346.71V349.66M840.2 348.18H851.4M867.9 350.34H895.3M872.8 351.03H895.3M872.8 351.71H895.3M872.8 351.03V351.71M867.9 351.37H872.8M867.9 350.34V351.37M862.1 350.86H867.9M871 352.4H895.3M873.2 353.08H895.3M873.2 353.77H895.3M873.2 353.08V353.77M871 353.42H873.2M871 352.4V353.42M862.1 352.91H871M862.1 350.86V352.91M840.2 351.88H862.1M840.2 348.18V351.88M765.5 350.03H840.2M765.5 320.54V350.03M730.4 335.29H765.5M853.3 354.44H895.3M862.8 355.11H895.3M862.8 355.78H895.3M862.8 355.11V355.78M853.3 355.45H862.8M853.3 354.44V355.45M841.3 354.95H853.3M861.9 356.45H895.3M861.9 357.12H895.3M861.9 356.45V357.12M848.4 356.79H861.9M863.9 357.79H895.3M863.9 358.46H895.3M863.9 357.79V358.46M856.8 358.13H863.9M856.8 359.13H895.3M856.8 358.13V359.13M848.4 358.63H856.8M848.4 356.79V358.63M841.3 357.71H848.4M841.3 354.95V357.71M828.1 356.33H841.3M828.1 359.8H895.3M828.1 356.33V359.8M808.3 358.07H828.1M853.4 360.47H895.3M853.4 361.14H895.3M853.4 360.47V361.14M844.9 360.81H853.4M856.2 361.81H895.3M856.2 362.48H895.3M856.2 361.81V362.48M844.9 362.15H856.2M844.9 360.81V362.15M837 361.48H844.9M837 363.15H895.3M837 361.48V363.15M808.3 362.32H837M808.3 358.07V362.32M734.1 360.19H808.3M814.1 363.83H895.3M842.7 364.51H895.3M852.8 365.19H895.3M881.3 365.87H895.3M881.3 366.55H895.3M881.3 365.87V366.55M879.7 366.21H881.3M879.7 367.23H895.3M879.7 366.21V367.23M878.1 366.72H879.7M878.1 367.91H895.3M878.1 366.72V367.91M875.2 367.32H878.1M875.2 368.59H895.3M875.2 367.32V368.59M870.2 367.95H875.2M876.6 369.27H895.3M876.6 369.95H895.3M876.6 369.27V369.95M870.2 369.61H876.6M870.2 367.95V369.61M866.7 368.78H870.2M875.1 370.63H895.3M875.1 371.31H895.3M875.1 370.63V371.31M866.7 370.97H875.1M866.7 368.78V370.97M856.1 369.88H866.7M876.8 371.99H895.3M878.4 372.67H895.3M884.8 373.35H895.3M884.8 374.03H895.3M884.8 373.35V374.03M883.2 373.69H884.8M884.8 374.71H895.3M886.4 375.39H895.3M888 376.07H895.3M888 376.75H895.3M888 376.07V376.75M886.4 376.41H888M886.4 375.39V376.41M884.8 375.9H886.4M884.8 374.71V375.9M883.2 375.31H884.8M883.2 373.69V375.31M881.6 374.5H883.2M881.6 377.43H895.3M881.6 374.5V377.43M880 375.97H881.6M880 378.11H895.3M880 375.97V378.11M878.4 377.04H880M878.4 372.67V377.04M876.8 374.85H878.4M876.8 371.99V374.85M873.6 373.42H876.8M878.5 378.79H895.3M878.5 379.47H895.3M878.5 378.79V379.47M873.6 379.13H878.5M873.6 373.42V379.13M870.2 376.28H873.6M870.2 380.15H895.3M870.2 376.28V380.15M866 378.22H870.2M866 380.83H895.3M866 378.22V380.83M856.1 379.52H866M856.1 369.88V379.52M852.8 374.7H856.1M852.8 365.19V374.7M842.7 369.95H852.8M842.7 364.51V369.95M828.7 367.23H842.7M828.7 381.51H895.3M828.7 367.23V381.51M814.1 374.37H828.7M814.1 363.83V374.37M790.4 369.1H814.1M839.2 382.19H895.3M858.6 382.87H895.3M858.6 383.55H895.3M858.6 382.87V383.55M844.1 383.21H858.6M872.6 384.23H895.3M872.6 384.91H895.3M872.6 384.23V384.91M867.1 384.57H872.6M867.1 385.59H895.3M867.1 384.57V385.59M858.6 385.08H867.1M869.4 386.27H895.3M869.4 386.95H895.3M869.4 386.27V386.95M858.6 386.61H869.4M858.6 385.08V386.61M850.4 385.85H858.6M850.4 387.63H895.3M850.4 385.85V387.63M844.1 386.74H850.4M844.1 383.21V386.74M839.2 384.98H844.1M839.2 382.19V384.98M826.6 383.58H839.2M854.4 388.31H895.3M854.4 388.99H895.3M854.4 388.31V388.99M826.6 388.65H854.4M826.6 383.58V388.65M816.6 386.12H826.6M852.3 389.67H895.3M852.3 390.35H895.3M852.3 389.67V390.35M816.6 390.01H852.3M816.6 386.12V390.01M790.4 388.07H816.6M790.4 369.1V388.07M734.1 378.58H790.4M734.1 360.19V378.58M730.4 369.39H734.1M730.4 335.29V369.39M641.7 352.34H730.4M829.2 391.04H895.3M829.2 391.73H895.3M829.2 391.04V391.73M806.4 391.39H829.2M839.8 392.42H895.3M839.8 393.11H895.3M839.8 392.42V393.11M826.2 392.77H839.8M826.2 393.8H895.3M826.2 392.77V393.8M806.4 393.29H826.2M806.4 391.39V393.29M798.8 392.34H806.4M798.8 394.5H895.3M798.8 392.34V394.5M757.2 393.42H798.8M838.4 395.19H895.3M848.2 395.88H895.3M855.7 396.57H895.3M863.8 397.26H895.3M863.8 397.95H895.3M863.8 397.26V397.95M855.7 397.61H863.8M855.7 396.57V397.61M848.2 397.09H855.7M848.2 395.88V397.09M838.4 396.48H848.2M838.4 395.19V396.48M827.9 395.84H838.4M853.6 398.64H895.3M853.6 399.33H895.3M853.6 398.64V399.33M827.9 398.99H853.6M827.9 395.84V398.99M810.1 397.41H827.9M840 400.03H895.3M846.7 400.72H895.3M846.7 401.41H895.3M846.7 400.72V401.41M840 401.06H846.7M840 400.03V401.06M810.1 400.54H840M810.1 397.41V400.54M799.6 398.98H810.1M833.8 402.1H895.3M833.8 402.79H895.3M833.8 402.1V402.79M799.6 402.44H833.8M799.6 398.98V402.44M779.4 400.71H799.6M779.4 403.48H895.3M779.4 400.71V403.48M757.2 402.1H779.4M757.2 393.42V402.1M713.1 397.76H757.2M868.4 404.17H895.3M871.7 404.85H895.3M871.7 405.53H895.3M871.7 404.85V405.53M868.4 405.19H871.7M868.4 404.17V405.19M864.2 404.68H868.4M864.2 406.22H895.3M864.2 404.68V406.22M856.5 405.45H864.2M856.5 406.9H895.3M856.5 405.45V406.9M845.3 406.17H856.5M863.8 407.58H895.3M863.8 408.26H895.3M863.8 407.58V408.26M856.3 407.92H863.8M856.3 408.94H895.3M856.3 407.92V408.94M845.3 408.43H856.3M845.3 406.17V408.43M836.4 407.3H845.3M854.7 409.63H895.3M860.2 410.31H895.3M860.2 410.99H895.3M860.2 410.31V410.99M854.7 410.65H860.2M854.7 409.63V410.65M836.4 410.14H854.7M836.4 407.3V410.14M773.5 408.72H836.4M820.4 411.67H895.3M853.1 412.36H895.3M874.4 413.05H895.3M874.4 413.73H895.3M874.4 413.05V413.73M869.4 413.39H874.4M872.8 414.42H895.3M872.8 415.1H895.3M872.8 414.42V415.1M869.4 414.76H872.8M869.4 413.39V414.76M860.4 414.07H869.4M871.9 415.79H895.3M871.9 416.47H895.3M871.9 415.79V416.47M867.1 416.13H871.9M871.4 417.16H895.3M871.4 417.84H895.3M871.4 417.16V417.84M867.1 417.5H871.4M867.1 416.13V417.5M860.4 416.82H867.1M860.4 414.07V416.82M855.5 415.45H860.4M855.5 418.53H895.3M855.5 415.45V418.53M853.1 416.99H855.5M853.1 412.36V416.99M840.5 414.67H853.1M869.2 419.22H895.3M869.2 419.9H895.3M869.2 419.22V419.9M864.1 419.56H869.2M864.1 420.59H895.3M864.1 419.56V420.59M860.8 420.07H864.1M860.8 421.27H895.3M860.8 420.07V421.27M853.5 420.67H860.8M853.5 421.96H895.3M853.5 420.67V421.96M840.5 421.32H853.5M840.5 414.67V421.32M826.6 417.99H840.5M859.9 422.64H895.3M865.2 423.33H895.3M873.8 424.01H895.3M875.8 424.7H895.3M875.8 425.39H895.3M875.8 424.7V425.39M873.8 425.04H875.8M873.8 424.01V425.04M868.7 424.53H873.8M874.3 426.07H895.3M874.3 426.76H895.3M874.3 426.07V426.76M868.7 426.41H874.3M868.7 424.53V426.41M865.2 425.47H868.7M865.2 423.33V425.47M859.9 424.4H865.2M859.9 422.64V424.4M848.1 423.52H859.9M869 427.44H895.3M869 428.13H895.3M869 427.44V428.13M861.3 427.78H869M865.3 428.81H895.3M870.6 429.5H895.3M870.6 430.18H895.3M870.6 429.5V430.18M865.3 429.84H870.6M865.3 428.81V429.84M861.3 429.33H865.3M861.3 427.78V429.33M857.5 428.56H861.3M857.5 430.87H895.3M857.5 428.56V430.87M848.1 429.71H857.5M848.1 423.52V429.71M826.6 426.62H848.1M826.6 417.99V426.62M820.4 422.31H826.6M820.4 411.67V422.31M797.4 416.99H820.4M869.6 431.56H895.3M873.1 432.24H895.3M873.1 432.93H895.3M873.1 432.24V432.93M869.6 432.58H873.1M869.6 431.56V432.58M863.1 432.07H869.6M872.8 433.61H895.3M872.8 434.3H895.3M872.8 433.61V434.3M867.5 433.95H872.8M867.5 434.98H895.3M867.5 433.95V434.98M863.1 434.47H867.5M863.1 432.07V434.47M858.8 433.27H863.1M858.8 435.67H895.3M858.8 433.27V435.67M843.3 434.47H858.8M859.9 436.35H895.3M872.5 437.04H895.3M874.7 437.72H895.3M874.7 438.41H895.3M874.7 437.72V438.41M872.5 438.07H874.7M872.5 437.04V438.07M861.7 437.55H872.5M877.5 439.1H895.3M877.5 439.78H895.3M877.5 439.1V439.78M868.6 439.44H877.5M876.3 440.47H895.3M876.3 441.15H895.3M876.3 440.47V441.15M871.2 440.81H876.3M877.9 441.84H895.3M879.9 442.52H895.3M881.5 443.21H895.3M881.5 443.89H895.3M881.5 443.21V443.89M879.9 443.55H881.5M879.9 442.52V443.55M877.9 443.04H879.9M877.9 441.84V443.04M874.5 442.44H877.9M874.5 444.58H895.3M874.5 442.44V444.58M871.2 443.51H874.5M871.2 440.81V443.51M868.6 442.16H871.2M868.6 439.44V442.16M861.7 440.8H868.6M861.7 437.55V440.8M859.9 439.18H861.7M859.9 436.35V439.18M857.4 437.76H859.9M857.4 445.27H895.3M857.4 437.76V445.27M843.3 441.52H857.4M843.3 434.47V441.52M834.3 437.99H843.3M834.3 445.95H895.3M834.3 437.99V445.95M828.3 441.97H834.3M828.3 446.64H895.3M828.3 441.97V446.64M797.4 444.3H828.3M797.4 416.99V444.3M773.5 430.65H797.4M773.5 408.72V430.65M753.8 419.68H773.5M826.6 447.32H895.3M866.2 448H895.3M866.2 448.67H895.3M866.2 448V448.67M858 448.33H866.2M858 449.35H895.3M858 448.33V449.35M834.4 448.84H858M846.2 450.03H895.3M868 450.71H895.3M868 451.38H895.3M868 450.71V451.38M851 451.04H868M869.9 452.06H895.3M869.9 452.74H895.3M869.9 452.06V452.74M860.5 452.4H869.9M865.4 453.42H895.3M874.5 454.09H895.3M874.5 454.77H895.3M874.5 454.09V454.77M870.8 454.43H874.5M870.8 455.45H895.3M870.8 454.43V455.45M865.4 454.94H870.8M865.4 453.42V454.94M860.5 454.18H865.4M860.5 452.4V454.18M851 453.29H860.5M851 451.04V453.29M846.2 452.17H851M846.2 450.03V452.17M834.4 451.1H846.2M834.4 448.84V451.1M826.6 449.97H834.4M826.6 447.32V449.97M790.4 448.64H826.6M864.1 456.13H895.3M864.1 456.8H895.3M864.1 456.13V456.8M845.2 456.46H864.1M864.3 457.48H895.3M864.3 458.16H895.3M864.3 457.48V458.16M851.2 457.82H864.3M870.1 458.84H895.3M870.1 459.51H895.3M870.1 458.84V459.51M858 459.17H870.1M868.3 460.19H895.3M879.3 460.87H895.3M879.3 461.55H895.3M879.3 460.87V461.55M877.5 461.21H879.3M877.5 462.22H895.3M877.5 461.21V462.22M875.9 461.72H877.5M875.9 462.9H895.3M875.9 461.72V462.9M873.2 462.31H875.9M873.2 463.58H895.3M873.2 462.31V463.58M868.3 462.94H873.2M868.3 460.19V462.94M860.6 461.57H868.3M869.6 464.26H895.3M869.6 464.93H895.3M869.6 464.26V464.93M860.6 464.59H869.6M860.6 461.57V464.59M858 463.08H860.6M858 459.17V463.08M851.2 461.13H858M851.2 457.82V461.13M845.2 459.47H851.2M845.2 456.46V459.47M840.3 457.97H845.2M859.6 465.61H895.3M859.6 466.29H895.3M859.6 465.61V466.29M840.3 465.95H859.6M840.3 457.97V465.95M819.1 461.96H840.3M844.4 466.97H895.3M867.9 467.64H895.3M867.9 468.32H895.3M867.9 467.64V468.32M854.4 467.98H867.9M861.5 469H895.3M864.4 469.68H895.3M867.6 470.35H895.3M867.6 471.03H895.3M867.6 470.35V471.03M864.4 470.69H867.6M864.4 469.68V470.69M861.5 470.18H864.4M861.5 469V470.18M854.4 469.59H861.5M854.4 467.98V469.59M844.4 468.79H854.4M844.4 466.97V468.79M819.1 467.88H844.4M819.1 461.96V467.88M790.4 464.92H819.1M790.4 448.64V464.92M753.8 456.78H790.4M753.8 419.68V456.78M713.1 438.23H753.8M713.1 397.76V438.23M688.6 417.99H713.1M843.7 471.72H895.3M843.7 472.41H895.3M843.7 471.72V472.41M835.3 472.06H843.7M835.3 473.1H895.3M835.3 472.06V473.1M816.3 472.58H835.3M842.8 473.79H895.3M842.8 474.48H895.3M842.8 473.79V474.48M816.3 474.13H842.8M816.3 472.58V474.13M801.4 473.36H816.3M835 475.17H895.3M835 475.86H895.3M835 475.17V475.86M801.4 475.52H835M801.4 473.36V475.52M771.7 474.44H801.4M816.1 476.55H895.3M852.1 477.24H895.3M852.1 477.94H895.3M852.1 477.24V477.94M842.8 477.59H852.1M854.8 478.63H895.3M854.8 479.32H895.3M854.8 478.63V479.32M842.8 478.97H854.8M842.8 477.59V478.97M834.1 478.28H842.8M861.2 480.01H895.3M861.2 480.7H895.3M861.2 480.01V480.7M849.5 480.36H861.2M849.5 481.39H895.3M849.5 480.36V481.39M834.1 480.87H849.5M834.1 478.28V480.87M816.1 479.58H834.1M816.1 476.55V479.58M797.4 478.07H816.1M845 482.08H895.3M853.3 482.77H895.3M853.3 483.47H895.3M853.3 482.77V483.47M845 483.12H853.3M845 482.08V483.12M828.7 482.6H845M828.7 484.16H895.3M828.7 482.6V484.16M797.4 483.38H828.7M797.4 478.07V483.38M771.7 480.72H797.4M771.7 474.44V480.72M727.6 477.58H771.7M852.9 484.83H895.3M857.2 485.5H895.3M862.4 486.16H895.3M865.3 486.82H895.3M871 487.48H895.3M873.2 488.14H895.3M873.2 488.81H895.3M873.2 488.14V488.81M871 488.48H873.2M871 487.48V488.48M865.3 487.98H871M865.3 486.82V487.98M862.4 487.4H865.3M862.4 486.16V487.4M857.2 486.78H862.4M857.2 485.5V486.78M852.9 486.14H857.2M852.9 484.83V486.14M842 485.49H852.9M864.4 489.47H895.3M864.4 490.13H895.3M864.4 489.47V490.13M842 489.8H864.4M842 485.49V489.8M829.8 487.64H842M857.5 490.79H895.3M857.5 491.46H895.3M857.5 490.79V491.46M829.8 491.12H857.5M829.8 487.64V491.12M802.6 489.38H829.8M830 492.12H895.3M842.4 492.78H895.3M853.5 493.44H895.3M860.1 494.1H895.3M860.1 494.77H895.3M860.1 494.1V494.77M853.5 494.44H860.1M853.5 493.44V494.44M848.4 493.94H853.5M848.4 495.43H895.3M848.4 493.94V495.43M842.4 494.68H848.4M842.4 492.78V494.68M830 493.73H842.4M830 492.12V493.73M802.6 492.92H830M802.6 489.38V492.92M727.6 491.15H802.6M727.6 477.58V491.15M688.6 484.37H727.6M688.6 417.99V484.37M670.9 451.18H688.6M849 496.09H895.3M849 496.74H895.3M849 496.09V496.74M836.1 496.42H849M836.1 497.4H895.3M836.1 496.42V497.4M826.7 496.91H836.1M849.7 498.06H895.3M849.7 498.71H895.3M849.7 498.06V498.71M826.7 498.39H849.7M826.7 496.91V498.39M802.6 497.65H826.7M833.6 499.37H895.3M839.1 500.03H895.3M860.6 500.68H895.3M860.6 501.34H895.3M860.6 500.68V501.34M851.2 501.01H860.6M851.2 502H895.3M851.2 501.01V502M839.1 501.51H851.2M839.1 500.03V501.51M833.6 500.77H839.1M833.6 499.37V500.77M802.6 500.07H833.6M802.6 497.65V500.07M706.6 498.86H802.6M854.8 502.66H895.3M854.8 503.34H895.3M854.8 502.66V503.34M822.7 503H854.8M858.3 504.02H895.3M858.3 504.69H895.3M858.3 504.02V504.69M839.3 504.35H858.3M859.7 505.37H895.3M859.7 506.04H895.3M859.7 505.37V506.04M846 505.7H859.7M855.2 506.72H895.3M863.9 507.39H895.3M871.5 508.07H895.3M871.5 508.74H895.3M871.5 508.07V508.74M866.4 508.41H871.5M874.1 509.42H895.3M874.1 510.09H895.3M874.1 509.42V510.09M866.4 509.76H874.1M866.4 508.41V509.76M863.9 509.08H866.4M863.9 507.39V509.08M855.2 508.24H863.9M855.2 506.72V508.24M846 507.48H855.2M846 505.7V507.48M839.3 506.59H846M839.3 504.35V506.59M822.7 505.47H839.3M822.7 503V505.47M790.4 504.24H822.7M855.4 510.77H895.3M861.2 511.44H895.3M861.2 512.12H895.3M861.2 511.44V512.12M855.4 511.78H861.2M855.4 510.77V511.78M839.7 511.28H855.4M851.8 512.8H895.3M865.6 513.47H895.3M865.6 514.15H895.3M865.6 513.47V514.15M861.2 513.81H865.6M861.2 514.82H895.3M861.2 513.81V514.82M851.8 514.32H861.2M851.8 512.8V514.32M839.7 513.56H851.8M839.7 511.28V513.56M812.8 512.42H839.7M842.6 515.5H895.3M854.2 516.17H895.3M860.4 516.85H895.3M865.5 517.52H895.3M865.5 518.2H895.3M865.5 517.52V518.2M860.4 517.86H865.5M860.4 516.85V517.86M854.2 517.35H860.4M854.2 516.17V517.35M849.6 516.76H854.2M849.6 518.87H895.3M849.6 516.76V518.87M842.6 517.82H849.6M842.6 515.5V517.82M812.8 516.66H842.6M812.8 512.42V516.66M790.4 514.54H812.8M790.4 504.24V514.54M734.1 509.39H790.4M821.2 519.55H895.3M854.9 520.22H895.3M860.2 520.9H895.3M867.9 521.57H895.3M867.9 522.24H895.3M867.9 521.57V522.24M860.2 521.9H867.9M860.2 520.9V521.9M854.9 521.4H860.2M854.9 520.22V521.4M842.6 520.81H854.9M842.6 522.91H895.3M842.6 520.81V522.91M830.5 521.86H842.6M846.8 523.59H895.3M853.8 524.26H895.3M853.8 524.93H895.3M853.8 524.26V524.93M846.8 524.6H853.8M846.8 523.59V524.6M830.5 524.09H846.8M830.5 521.86V524.09M821.2 522.98H830.5M821.2 519.55V522.98M796.1 521.26H821.2M863.1 525.61H895.3M863.1 526.28H895.3M863.1 525.61V526.28M846.8 525.94H863.1M857.6 526.95H895.3M865.2 527.63H895.3M865.2 528.3H895.3M865.2 527.63V528.3M857.6 527.96H865.2M857.6 526.95V527.96M846.8 527.46H857.6M846.8 525.94V527.46M833.5 526.7H846.8M833.5 528.97H895.3M833.5 526.7V528.97M820.5 527.84H833.5M850.5 529.65H895.3M850.5 530.32H895.3M850.5 529.65V530.32M820.5 529.98H850.5M820.5 527.84V529.98M796.1 528.91H820.5M796.1 521.26V528.91M734.1 525.09H796.1M734.1 509.39V525.09M706.6 517.24H734.1M706.6 498.86V517.24M670.9 508.05H706.6M670.9 451.18V508.05M641.7 479.61H670.9M641.7 352.34V479.61" stroke="#000" stroke-width="1.75" fill="none" stroke-linecap="square"/>
<rect x="885.3" y="42.9" width="10" height="487.5" fill="#000"/>
<path d="M900.9 411.25h21M921.9 413.97h21" stroke="#0050f5" stroke-width="1.61" fill="none"/>
<path d="M942.9 412.61h21M942.9 434.40h21" stroke="#0050f5" stroke-width="1.61" fill="none"/>
<path d="M921.9 412.61h21M942.9 413.97h21M921.9 433.04h21M921.9 434.40h21" stroke="#1861f5" stroke-width="1.61" fill="none"/>
<path d="M985 119.84h21M985 193.37h21M942.9 411.25h21M942.9 433.04h21M921.9 448.02h21" stroke="#3072f6" stroke-width="1.61" fill="none"/>
<path d="M985 74.90h21M985 85.79h21M1027 119.84h21M1027 133.46h21M985 141.63h21M900.9 340.44h21M900.9 341.80h21M900.9 413.97h21M900.9 434.40h21M921.9 439.84h21M942.9 448.02h21M921.9 449.38h21M942.9 449.38h21M921.9 453.46h21M942.9 453.46h21M900.9 529.72h21" stroke="#4883f6" stroke-width="1.61" fill="none"/>
<path d="M985 62.65h21M1027 74.90h21M1048.1 119.84h21M985 133.46h21M1048.1 133.46h21M1027 141.63h21M1048.1 141.63h21M985 145.71h21M1027 145.71h21M1027 167.50h21M985 178.39h21M900.9 333.63h21M900.9 334.99h21M921.9 340.44h21M942.9 340.44h21M900.9 364.95h21M900.9 396.27h21M921.9 411.25h21M900.9 412.61h21M942.9 418.06h21M921.9 426.23h21M942.9 439.84h21M921.9 442.57h21M942.9 442.57h21M900.9 457.55h21M900.9 469.80h21M900.9 472.53h21M900.9 498.40h21M900.9 501.12h21M921.9 529.72h21" stroke="#6296f7" stroke-width="1.61" fill="none"/>
<path d="M1027 51.75h21M1048.1 74.90h21M985 77.62h21M985 78.99h21M1048.1 78.99h21M1027 80.35h21M985 83.07h21M985 84.43h21M1006 84.43h21M1027 85.79h21M1048.1 85.79h21M1048.1 87.16h21M985 88.52h21M985 93.96h21M985 95.33h21M985 100.77h21M985 102.14h21M1027 102.14h21M1048.1 102.14h21M985 106.22h21M985 110.31h21M985 115.75h21M1006 119.84h21M985 130.73h21M985 132.09h21M985 134.82h21M1027 136.18h21M1048.1 136.18h21M985 142.99h21M1027 144.35h21M985 147.07h21M1027 147.07h21M1048.1 147.07h21M1027 148.43h21M985 152.52h21M1048.1 152.52h21M985 182.48h21M1027 182.48h21M1006 193.37h21M1027 193.37h21M1048.1 193.37h21M1048.1 197.46h21M985 243.76h21M985 246.48h21M985 291.42h21M900.9 296.86h21M900.9 299.59h21M900.9 303.67h21M900.9 306.40h21M900.9 313.20h21M942.9 341.80h21M900.9 343.16h21M900.9 348.61h21M900.9 355.42h21M900.9 371.76h21M900.9 374.48h21M900.9 394.91h21M900.9 401.72h21M900.9 407.16h21M921.9 416.70h21M921.9 418.06h21M921.9 420.78h21M921.9 424.87h21M942.9 424.87h21M942.9 426.23h21M900.9 433.04h21M921.9 435.76h21M942.9 438.48h21M921.9 441.21h21M942.9 441.21h21M900.9 442.57h21M921.9 443.93h21M921.9 446.65h21M942.9 446.65h21M900.9 448.02h21M900.9 449.38h21M921.9 450.74h21M900.9 460.27h21M900.9 468.44h21M900.9 473.89h21M900.9 477.97h21M942.9 498.40h21M900.9 525.63h21M921.9 525.63h21" stroke="#7ea9f8" stroke-width="1.61" fill="none"/>
<path d="M1027 46.30h21M985 49.03h21M1006 49.03h21M1027 49.03h21M985 51.75h21M985 53.11h21M1027 62.65h21M1048.1 62.65h21M985 68.09h21M985 72.18h21M1027 77.62h21M1027 78.99h21M985 80.35h21M1006 80.35h21M1048.1 80.35h21M1048.1 84.43h21M1027 87.16h21M1006 88.52h21M1027 88.52h21M1048.1 88.52h21M1027 93.96h21M1027 95.33h21M1048.1 95.33h21M1006 100.77h21M1027 100.77h21M1048.1 100.77h21M985 104.86h21M1027 106.22h21M1027 107.58h21M985 111.67h21M1006 111.67h21M1048.1 111.67h21M985 113.03h21M1048.1 113.03h21M985 114.39h21M1006 114.39h21M1006 117.11h21M985 118.48h21M985 121.20h21M985 125.28h21M1027 125.28h21M985 126.65h21M1048.1 126.65h21M1027 128.01h21M1048.1 128.01h21M985 129.37h21M1027 129.37h21M1027 130.73h21M1006 132.09h21M1027 132.09h21M1048.1 132.09h21M1006 133.46h21M1027 134.82h21M1048.1 134.82h21M985 136.18h21M1006 136.18h21M1048.1 137.54h21M1006 141.63h21M1027 142.99h21M985 144.35h21M1048.1 145.71h21M1006 147.07h21M985 148.43h21M985 149.80h21M1006 149.80h21M1048.1 149.80h21M985 164.78h21M1048.1 164.78h21M985 167.50h21M1048.1 167.50h21M985 172.95h21M1027 172.95h21M1048.1 172.95h21M985 174.31h21M1006 175.67h21M1027 178.39h21M1048.1 182.48h21M985 183.84h21M985 185.20h21M985 186.56h21M985 187.92h21M985 190.65h21M1048.1 190.65h21M985 192.01h21M985 197.46h21M1027 197.46h21M985 227.41h21M1048.1 230.14h21M985 234.22h21M985 242.39h21M1027 243.76h21M1048.1 243.76h21M1027 246.48h21M985 247.84h21M1027 247.84h21M985 249.20h21M985 250.56h21M1006 250.56h21M985 257.37h21M1048.1 262.82h21M985 275.08h21M1048.1 275.08h21M985 277.80h21M985 281.88h21M985 287.33h21M1027 287.33h21M1006 291.42h21M1027 291.42h21M1048.1 291.42h21M942.9 299.59h21M942.9 303.67h21M900.9 305.03h21M942.9 313.20h21M942.9 315.93h21M900.9 317.29h21M900.9 320.01h21M900.9 321.37h21M900.9 324.10h21M942.9 324.10h21M942.9 333.63h21M921.9 334.99h21M942.9 343.16h21M942.9 348.61h21M900.9 349.97h21M900.9 352.69h21M942.9 352.69h21M900.9 354.06h21M900.9 356.78h21M900.9 358.14h21M900.9 359.50h21M900.9 370.40h21M900.9 382.65h21M921.9 396.27h21M900.9 400.35h21M921.9 415.33h21M942.9 415.33h21M942.9 416.70h21M921.9 419.42h21M942.9 419.42h21M942.9 420.78h21M921.9 422.14h21M900.9 426.23h21M921.9 427.59h21M942.9 427.59h21M942.9 428.95h21M942.9 431.67h21M942.9 435.76h21M921.9 437.12h21M942.9 437.12h21M900.9 438.48h21M921.9 438.48h21M900.9 439.84h21M942.9 443.93h21M900.9 450.74h21M942.9 450.74h21M921.9 452.10h21M900.9 453.46h21M900.9 461.63h21M921.9 464.36h21M942.9 468.44h21M921.9 469.80h21M942.9 469.80h21M900.9 471.16h21M921.9 472.53h21M942.9 472.53h21M900.9 475.25h21M921.9 477.97h21M942.9 477.97h21M900.9 479.34h21M942.9 479.34h21M900.9 480.70h21M900.9 483.42h21M942.9 483.42h21M900.9 484.78h21M900.9 491.59h21M900.9 497.04h21M921.9 497.04h21M942.9 497.04h21M921.9 498.40h21M942.9 501.12h21M900.9 509.29h21M921.9 509.29h21M921.9 513.38h21M900.9 517.46h21" stroke="#9abcfa" stroke-width="1.61" fill="none"/>
<path d="M1006 43.58h21M1027 43.58h21M1048.1 43.58h21M985 46.30h21M1006 46.30h21M1048.1 49.03h21M985 50.39h21M1006 50.39h21M1027 50.39h21M1048.1 50.39h21M1048.1 51.75h21M1006 53.11h21M1027 53.11h21M985 57.20h21M1048.1 57.20h21M985 61.28h21M1048.1 61.28h21M1006 62.65h21M985 64.01h21M1006 64.01h21M1048.1 65.37h21M1027 68.09h21M1048.1 68.09h21M1027 70.82h21M1027 76.26h21M1048.1 77.62h21M1006 78.99h21M1048.1 81.71h21M1006 83.07h21M1027 83.07h21M1027 84.43h21M1006 85.79h21M985 87.16h21M1006 87.16h21M1048.1 93.96h21M1006 95.33h21M985 96.69h21M1048.1 96.69h21M985 99.41h21M1006 99.41h21M1027 99.41h21M1048.1 99.41h21M1006 102.14h21M1048.1 103.50h21M1027 104.86h21M1048.1 104.86h21M1006 106.22h21M1048.1 106.22h21M985 107.58h21M1006 107.58h21M1048.1 107.58h21M985 108.94h21M1027 108.94h21M1006 110.31h21M1027 110.31h21M1048.1 110.31h21M1027 111.67h21M1006 113.03h21M1027 113.03h21M1027 114.39h21M1048.1 114.39h21M1006 115.75h21M1027 115.75h21M1048.1 115.75h21M985 117.11h21M1027 117.11h21M1048.1 117.11h21M1006 118.48h21M1027 118.48h21M1048.1 118.48h21M1006 121.20h21M985 122.56h21M1027 122.56h21M1048.1 122.56h21M1006 125.28h21M1048.1 125.28h21M1027 126.65h21M1006 128.01h21M1006 129.37h21M1048.1 129.37h21M1006 130.73h21M1006 134.82h21M1027 137.54h21M985 138.90h21M1027 138.90h21M985 140.26h21M1027 140.26h21M1048.1 140.26h21M1048.1 142.99h21M1006 144.35h21M1006 145.71h21M1006 148.43h21M1048.1 148.43h21M985 151.16h21M1006 152.52h21M1027 152.52h21M985 153.88h21M1048.1 153.88h21M985 155.24h21M1006 155.24h21M1027 155.24h21M1048.1 155.24h21M985 157.97h21M1006 157.97h21M985 162.05h21M1006 162.05h21M1027 162.05h21M1006 164.78h21M1027 164.78h21M1048.1 166.14h21M1006 167.50h21M985 168.86h21M1027 168.86h21M985 170.22h21M1027 170.22h21M1006 172.95h21M1027 174.31h21M985 175.67h21M1027 175.67h21M1048.1 175.67h21M1006 178.39h21M1048.1 178.39h21M1006 182.48h21M1006 183.84h21M1027 183.84h21M1048.1 183.84h21M1027 185.20h21M1027 186.56h21M1048.1 186.56h21M1006 187.92h21M1027 187.92h21M1048.1 187.92h21M985 189.29h21M1027 189.29h21M1048.1 189.29h21M1006 190.65h21M1027 190.65h21M1006 192.01h21M1027 192.01h21M1048.1 194.73h21M985 196.09h21M1006 197.46h21M985 198.82h21M1006 198.82h21M1048.1 198.82h21M985 200.18h21M1027 201.54h21M985 202.90h21M1027 202.90h21M985 209.71h21M1048.1 209.71h21M985 217.88h21M985 219.24h21M1048.1 219.24h21M985 220.61h21M985 221.97h21M1006 221.97h21M1027 221.97h21M1048.1 224.69h21M1027 226.05h21M1006 227.41h21M1027 227.41h21M985 230.14h21M1027 230.14h21M1048.1 234.22h21M985 235.59h21M1027 235.59h21M985 236.95h21M1048.1 236.95h21M985 238.31h21M1027 238.31h21M1048.1 238.31h21M1027 239.67h21M985 241.03h21M1006 242.39h21M1048.1 242.39h21M1006 243.76h21M1006 246.48h21M1048.1 246.48h21M1027 249.20h21M1027 250.56h21M1048.1 250.56h21M985 251.93h21M1027 251.93h21M1006 257.37h21M1027 257.37h21M1048.1 257.37h21M985 258.73h21M1006 258.73h21M1048.1 258.73h21M985 262.82h21M1027 262.82h21M985 265.54h21M1048.1 266.90h21M985 269.63h21M1027 275.08h21M985 276.44h21M1027 276.44h21M1048.1 276.44h21M1027 277.80h21M985 280.52h21M1048.1 280.52h21M1027 281.88h21M1048.1 287.33h21M985 290.05h21M1048.1 290.05h21M921.9 299.59h21M942.9 300.95h21M900.9 302.31h21M921.9 303.67h21M921.9 306.40h21M942.9 306.40h21M900.9 307.76h21M900.9 310.48h21M900.9 311.84h21M942.9 311.84h21M921.9 313.20h21M900.9 314.57h21M900.9 315.93h21M921.9 315.93h21M921.9 317.29h21M900.9 318.65h21M942.9 318.65h21M921.9 320.01h21M942.9 320.01h21M921.9 321.37h21M942.9 321.37h21M900.9 325.46h21M921.9 325.46h21M900.9 330.91h21M942.9 330.91h21M900.9 332.27h21M942.9 332.27h21M921.9 333.63h21M942.9 334.99h21M942.9 339.08h21M900.9 347.25h21M942.9 349.97h21M900.9 351.33h21M942.9 354.06h21M942.9 355.42h21M942.9 356.78h21M900.9 362.23h21M942.9 362.23h21M942.9 364.95h21M900.9 366.31h21M900.9 367.67h21M942.9 370.40h21M900.9 381.29h21M900.9 384.01h21M900.9 386.74h21M900.9 393.55h21M900.9 403.08h21M900.9 404.44h21M900.9 405.80h21M942.9 407.16h21M900.9 409.89h21M942.9 409.89h21M964 412.61h21M964 413.97h21M900.9 415.33h21M964 415.33h21M964 416.70h21M964 418.06h21M921.9 428.95h21M921.9 431.67h21M964 433.04h21M900.9 441.21h21M921.9 445.29h21M900.9 446.65h21M964 446.65h21M900.9 452.10h21M942.9 452.10h21M900.9 454.82h21M900.9 456.19h21M921.9 457.55h21M942.9 457.55h21M921.9 460.27h21M942.9 460.27h21M921.9 461.63h21M900.9 462.99h21M900.9 464.36h21M942.9 464.36h21M900.9 467.08h21M921.9 467.08h21M921.9 468.44h21M964 468.44h21M921.9 471.16h21M942.9 471.16h21M921.9 473.89h21M942.9 475.25h21M921.9 479.34h21M942.9 480.70h21M900.9 482.06h21M921.9 483.42h21M900.9 486.14h21M900.9 490.23h21M942.9 490.23h21M921.9 491.59h21M942.9 491.59h21M900.9 492.95h21M900.9 494.31h21M921.9 494.31h21M900.9 495.68h21M942.9 495.68h21M921.9 501.12h21M921.9 502.48h21M942.9 502.48h21M900.9 503.85h21M942.9 503.85h21M900.9 505.21h21M900.9 510.65h21M900.9 513.38h21M900.9 514.74h21M921.9 517.46h21" stroke="#b4cefc" stroke-width="1.61" fill="none"/>
<path d="M985 43.58h21M985 44.94h21M1006 44.94h21M1027 44.94h21M1048.1 46.30h21M985 47.67h21M1006 51.75h21M1006 57.20h21M1027 57.20h21M1027 61.28h21M1048.1 64.01h21M985 65.37h21M1006 65.37h21M1027 65.37h21M985 66.73h21M1027 66.73h21M1048.1 66.73h21M1006 68.09h21M985 69.45h21M985 70.82h21M1006 70.82h21M1027 72.18h21M1048.1 72.18h21M985 73.54h21M1048.1 73.54h21M1006 74.90h21M985 76.26h21M1006 76.26h21M1006 77.62h21M985 81.71h21M1006 81.71h21M1027 81.71h21M1048.1 83.07h21M985 89.88h21M1006 89.88h21M1027 89.88h21M1048.1 89.88h21M985 91.24h21M1027 91.24h21M1006 92.60h21M1027 92.60h21M1006 93.96h21M1006 96.69h21M1027 96.69h21M985 98.05h21M1006 98.05h21M1027 98.05h21M985 103.50h21M1006 103.50h21M1027 103.50h21M1006 104.86h21M1006 108.94h21M1048.1 108.94h21M1027 121.20h21M1006 122.56h21M985 123.92h21M1006 126.65h21M985 128.01h21M1048.1 130.73h21M964 136.18h21M985 137.54h21M1006 138.90h21M1048.1 138.90h21M1006 140.26h21M1006 142.99h21M1048.1 144.35h21M1027 149.80h21M1006 151.16h21M1027 151.16h21M1048.1 151.16h21M1006 153.88h21M1027 153.88h21M985 156.60h21M1027 156.60h21M1048.1 156.60h21M1027 157.97h21M1027 159.33h21M1048.1 159.33h21M1027 166.14h21M1006 168.86h21M1048.1 168.86h21M1006 170.22h21M1048.1 170.22h21M1006 174.31h21M1048.1 174.31h21M985 177.03h21M1006 177.03h21M1027 177.03h21M1048.1 177.03h21M985 181.12h21M1027 181.12h21M1048.1 181.12h21M1048.1 185.20h21M1048.1 192.01h21M985 194.73h21M1006 194.73h21M1027 194.73h21M1027 196.09h21M1027 198.82h21M1048.1 201.54h21M1006 202.90h21M1048.1 202.90h21M985 205.63h21M1048.1 205.63h21M1027 206.99h21M985 208.35h21M1027 208.35h21M1048.1 208.35h21M1006 209.71h21M1027 209.71h21M1006 211.07h21M1027 211.07h21M985 212.44h21M1027 212.44h21M1048.1 212.44h21M985 215.16h21M1006 215.16h21M1048.1 215.16h21M1048.1 216.52h21M1006 217.88h21M1027 217.88h21M1048.1 217.88h21M1006 219.24h21M1027 219.24h21M1048.1 221.97h21M1006 223.33h21M1048.1 223.33h21M985 224.69h21M1006 224.69h21M1027 224.69h21M985 226.05h21M1006 226.05h21M1048.1 226.05h21M1048.1 227.41h21M985 228.78h21M1027 228.78h21M1006 230.14h21M985 232.86h21M1027 232.86h21M1006 234.22h21M1027 234.22h21M1006 235.59h21M1027 236.95h21M1006 238.31h21M985 239.67h21M1006 239.67h21M1048.1 239.67h21M1027 241.03h21M1048.1 241.03h21M985 245.12h21M1006 245.12h21M1027 245.12h21M1048.1 245.12h21M1006 247.84h21M1048.1 247.84h21M1048.1 249.20h21M1006 251.93h21M1048.1 251.93h21M985 256.01h21M1048.1 256.01h21M1027 258.73h21M1027 261.46h21M1027 265.54h21M1048.1 265.54h21M985 266.90h21M1006 266.90h21M1027 266.90h21M1027 268.27h21M1006 269.63h21M1027 269.63h21M1048.1 269.63h21M1027 270.99h21M1048.1 270.99h21M985 272.35h21M1006 275.08h21M1006 277.80h21M1048.1 277.80h21M985 279.16h21M1048.1 279.16h21M1027 280.52h21M1006 281.88h21M985 285.97h21M1027 285.97h21M1048.1 285.97h21M1006 287.33h21M1048.1 288.69h21M1006 290.05h21M1027 290.05h21M900.9 292.78h21M942.9 292.78h21M900.9 295.50h21M921.9 296.86h21M942.9 296.86h21M900.9 300.95h21M921.9 302.31h21M921.9 305.03h21M942.9 305.03h21M921.9 307.76h21M942.9 307.76h21M900.9 309.12h21M921.9 309.12h21M942.9 309.12h21M942.9 310.48h21M921.9 311.84h21M942.9 314.57h21M942.9 317.29h21M942.9 322.74h21M921.9 324.10h21M942.9 326.82h21M900.9 328.18h21M921.9 328.18h21M942.9 328.18h21M900.9 329.54h21M921.9 329.54h21M942.9 329.54h21M921.9 330.91h21M921.9 332.27h21M921.9 336.35h21M900.9 337.71h21M921.9 337.71h21M900.9 339.08h21M900.9 344.52h21M942.9 344.52h21M900.9 345.89h21M942.9 345.89h21M942.9 347.25h21M942.9 358.14h21M942.9 359.50h21M900.9 360.86h21M921.9 360.86h21M942.9 360.86h21M921.9 363.59h21M942.9 363.59h21M942.9 366.31h21M942.9 367.67h21M921.9 371.76h21M900.9 375.84h21M900.9 378.57h21M900.9 379.93h21M921.9 382.65h21M900.9 388.10h21M900.9 389.46h21M900.9 390.82h21M900.9 392.18h21M921.9 393.55h21M921.9 394.91h21M900.9 397.63h21M942.9 397.63h21M921.9 400.35h21M921.9 401.72h21M942.9 405.80h21M921.9 407.16h21M900.9 408.52h21M942.9 408.52h21M900.9 416.70h21M900.9 418.06h21M900.9 419.42h21M964 419.42h21M900.9 420.78h21M964 420.78h21M900.9 422.14h21M964 422.14h21M900.9 423.50h21M921.9 423.50h21M942.9 423.50h21M900.9 424.87h21M964 424.87h21M964 426.23h21M900.9 427.59h21M964 427.59h21M964 428.95h21M942.9 430.31h21M964 431.67h21M964 434.40h21M900.9 435.76h21M900.9 437.12h21M964 438.48h21M964 439.84h21M964 441.21h21M964 442.57h21M900.9 443.93h21M900.9 445.29h21M942.9 445.29h21M964 449.38h21M964 453.46h21M942.9 454.82h21M964 454.82h21M921.9 456.19h21M942.9 456.19h21M964 456.19h21M964 457.55h21M900.9 458.91h21M964 460.27h21M921.9 462.99h21M942.9 462.99h21M900.9 465.72h21M942.9 465.72h21M942.9 467.08h21M964 467.08h21M964 469.80h21M964 471.16h21M964 472.53h21M942.9 473.89h21M964 473.89h21M921.9 475.25h21M964 475.25h21M900.9 476.61h21M964 477.97h21M921.9 480.70h21M921.9 484.78h21M942.9 484.78h21M942.9 486.14h21M900.9 487.51h21M921.9 487.51h21M942.9 487.51h21M900.9 488.87h21M942.9 488.87h21M921.9 490.23h21M921.9 492.95h21M942.9 494.31h21M900.9 502.48h21M921.9 505.21h21M942.9 505.21h21M921.9 506.57h21M942.9 506.57h21M900.9 507.93h21M921.9 510.65h21M921.9 514.74h21M900.9 516.10h21M900.9 518.83h21M921.9 518.83h21M900.9 520.19h21M900.9 522.91h21M921.9 522.91h21M900.9 524.27h21M921.9 524.27h21M942.9 525.63h21M900.9 528.36h21M921.9 528.36h21M942.9 529.72h21" stroke="#cddefd" stroke-width="1.61" fill="none"/>
<path d="M1048.1 44.94h21M1006 47.67h21M1027 47.67h21M1048.1 47.67h21M1048.1 53.11h21M985 54.47h21M1006 54.47h21M1048.1 54.47h21M1006 55.84h21M1027 55.84h21M1048.1 55.84h21M985 58.56h21M1027 58.56h21M985 59.92h21M1048.1 59.92h21M1006 61.28h21M1027 64.01h21M1006 66.73h21M1006 69.45h21M1027 69.45h21M1048.1 69.45h21M1048.1 70.82h21M1006 72.18h21M1006 73.54h21M1027 73.54h21M1048.1 76.26h21M1006 91.24h21M1048.1 91.24h21M985 92.60h21M1048.1 92.60h21M1048.1 98.05h21M1048.1 121.20h21M1006 123.92h21M1027 123.92h21M1048.1 123.92h21M964 134.82h21M964 137.54h21M1006 137.54h21M964 138.90h21M964 140.26h21M964 141.63h21M964 142.99h21M964 144.35h21M964 145.71h21M1006 156.60h21M1048.1 157.97h21M985 159.33h21M1006 159.33h21M985 160.69h21M1048.1 162.05h21M985 163.41h21M1006 163.41h21M1027 163.41h21M1048.1 163.41h21M985 166.14h21M1006 166.14h21M964 171.58h21M985 171.58h21M1006 171.58h21M1027 171.58h21M985 179.75h21M1006 181.12h21M1006 185.20h21M1006 186.56h21M1006 189.29h21M1006 196.09h21M1048.1 196.09h21M964 198.82h21M964 200.18h21M1006 200.18h21M1027 200.18h21M1048.1 200.18h21M985 201.54h21M1006 201.54h21M964 202.90h21M1006 204.27h21M1027 204.27h21M964 205.63h21M1027 205.63h21M964 206.99h21M985 206.99h21M1006 206.99h21M1048.1 206.99h21M1006 208.35h21M985 211.07h21M1048.1 211.07h21M1006 212.44h21M964 213.80h21M1027 213.80h21M1048.1 213.80h21M1027 215.16h21M964 216.52h21M1006 216.52h21M964 217.88h21M964 219.24h21M964 220.61h21M1006 220.61h21M1027 220.61h21M964 223.33h21M985 223.33h21M1027 223.33h21M964 224.69h21M964 226.05h21M964 227.41h21M1006 228.78h21M1048.1 228.78h21M985 231.50h21M1006 231.50h21M1027 231.50h21M1048.1 231.50h21M1006 232.86h21M1048.1 232.86h21M1048.1 235.59h21M1006 236.95h21M1006 241.03h21M1027 242.39h21M1006 249.20h21M985 253.29h21M1006 253.29h21M1027 253.29h21M1048.1 253.29h21M985 254.65h21M1048.1 254.65h21M1006 256.01h21M1027 256.01h21M1006 260.10h21M985 261.46h21M1048.1 261.46h21M1006 262.82h21M1006 264.18h21M1027 264.18h21M1006 265.54h21M985 268.27h21M1006 268.27h21M1048.1 268.27h21M964 269.63h21M985 270.99h21M1006 270.99h21M1006 272.35h21M1027 272.35h21M1048.1 272.35h21M985 273.71h21M1048.1 273.71h21M1006 276.44h21M964 279.16h21M1006 279.16h21M1027 279.16h21M1006 280.52h21M1048.1 281.88h21M900.9 283.25h21M985 283.25h21M1006 283.25h21M1006 284.61h21M1027 284.61h21M1048.1 284.61h21M964 285.97h21M1006 285.97h21M964 287.33h21M985 288.69h21M1006 288.69h21M964 290.05h21M921.9 292.78h21M921.9 294.14h21M942.9 294.14h21M921.9 295.50h21M942.9 295.50h21M921.9 298.22h21M942.9 298.22h21M942.9 302.31h21M921.9 310.48h21M921.9 314.57h21M900.9 322.74h21M921.9 322.74h21M942.9 325.46h21M900.9 326.82h21M921.9 326.82h21M900.9 336.35h21M942.9 336.35h21M942.9 337.71h21M921.9 339.08h21M964 340.44h21M921.9 341.80h21M921.9 343.16h21M964 343.16h21M964 345.89h21M921.9 347.25h21M964 347.25h21M921.9 349.97h21M921.9 351.33h21M942.9 351.33h21M921.9 354.06h21M964 354.06h21M921.9 355.42h21M921.9 356.78h21M921.9 358.14h21M964 359.50h21M964 360.86h21M900.9 363.59h21M921.9 364.95h21M921.9 366.31h21M964 367.67h21M900.9 369.03h21M942.9 369.03h21M900.9 373.12h21M921.9 373.12h21M964 373.12h21M921.9 374.48h21M942.9 374.48h21M964 374.48h21M921.9 375.84h21M900.9 377.21h21M964 378.57h21M921.9 379.93h21M921.9 381.29h21M964 381.29h21M942.9 382.65h21M921.9 384.01h21M942.9 384.01h21M900.9 385.38h21M921.9 386.74h21M921.9 388.10h21M921.9 389.46h21M942.9 389.46h21M921.9 390.82h21M942.9 390.82h21M964 390.82h21M921.9 392.18h21M964 393.55h21M942.9 394.91h21M964 394.91h21M942.9 396.27h21M964 396.27h21M900.9 398.99h21M921.9 398.99h21M964 400.35h21M964 401.72h21M921.9 403.08h21M964 403.08h21M921.9 404.44h21M921.9 405.80h21M964 405.80h21M964 407.16h21M921.9 408.52h21M921.9 409.89h21M964 411.25h21M942.9 422.14h21M964 423.50h21M900.9 428.95h21M921.9 430.31h21M964 430.31h21M900.9 431.67h21M964 435.76h21M964 437.12h21M964 443.93h21M964 445.29h21M964 448.02h21M964 450.74h21M964 452.10h21M921.9 454.82h21M921.9 458.91h21M942.9 458.91h21M964 458.91h21M942.9 461.63h21M964 461.63h21M964 462.99h21M964 464.36h21M921.9 465.72h21M964 465.72h21M942.9 476.61h21M964 476.61h21M921.9 482.06h21M942.9 482.06h21M964 482.06h21M964 483.42h21M921.9 486.14h21M921.9 488.87h21M964 491.59h21M942.9 492.95h21M921.9 495.68h21M900.9 499.76h21M921.9 499.76h21M942.9 499.76h21M921.9 503.85h21M964 503.85h21M964 505.21h21M900.9 506.57h21M921.9 507.93h21M942.9 509.29h21M942.9 510.65h21M964 510.65h21M900.9 512.02h21M921.9 512.02h21M942.9 513.38h21M964 513.38h21M942.9 514.74h21M964 514.74h21M942.9 516.10h21M942.9 517.46h21M942.9 518.83h21M964 518.83h21M921.9 520.19h21M900.9 521.55h21M921.9 521.55h21M942.9 521.55h21M942.9 522.91h21M964 522.91h21M942.9 524.27h21M900.9 527.00h21M921.9 527.00h21M942.9 527.00h21M942.9 528.36h21" stroke="#e6effe" stroke-width="1.61" fill="none"/>
<path d="M900.9 44.94h21M900.9 50.39h21M900.9 51.75h21M964 53.11h21M921.9 54.47h21M964 54.47h21M900.9 57.20h21M900.9 58.56h21M921.9 58.56h21M942.9 58.56h21M900.9 59.92h21M1006 59.92h21M964 61.28h21M964 62.65h21M964 68.09h21M900.9 69.45h21M900.9 70.82h21M964 70.82h21M900.9 72.18h21M964 73.54h21M964 74.90h21M900.9 76.26h21M900.9 77.62h21M964 77.62h21M900.9 81.71h21M900.9 89.88h21M900.9 91.24h21M900.9 92.60h21M900.9 113.03h21M900.9 117.11h21M900.9 118.48h21M964 121.20h21M900.9 123.92h21M964 123.92h21M964 125.28h21M964 128.01h21M964 147.07h21M964 153.88h21M900.9 156.60h21M921.9 156.60h21M964 157.97h21M964 159.33h21M900.9 160.69h21M942.9 160.69h21M964 160.69h21M964 162.05h21M900.9 163.41h21M964 167.50h21M964 168.86h21M964 170.22h21M900.9 171.58h21M921.9 171.58h21M942.9 171.58h21M964 172.95h21M964 175.67h21M964 178.39h21M964 179.75h21M1027 179.75h21M964 181.12h21M964 183.84h21M964 193.37h21M964 197.46h21M900.9 201.54h21M900.9 204.27h21M942.9 204.27h21M1048.1 204.27h21M900.9 205.63h21M921.9 205.63h21M900.9 206.99h21M900.9 211.07h21M900.9 215.16h21M942.9 216.52h21M921.9 220.61h21M964 221.97h21M900.9 228.78h21M964 228.78h21M900.9 231.50h21M921.9 231.50h21M964 231.50h21M964 234.22h21M964 235.59h21M964 238.31h21M900.9 239.67h21M964 239.67h21M900.9 241.03h21M964 242.39h21M900.9 245.12h21M964 245.12h21M964 249.20h21M964 251.93h21M964 253.29h21M900.9 254.65h21M921.9 254.65h21M900.9 260.10h21M921.9 260.10h21M942.9 260.10h21M900.9 264.18h21M921.9 264.18h21M900.9 268.27h21M900.9 270.99h21M900.9 277.80h21M921.9 279.16h21M942.9 279.16h21M900.9 280.52h21M900.9 281.88h21M921.9 283.25h21M942.9 283.25h21M1048.1 283.25h21M921.9 284.61h21M900.9 287.33h21M900.9 290.05h21M964 292.78h21M964 294.14h21M985 294.14h21M964 295.50h21M985 295.50h21M1006 295.50h21M1048.1 295.50h21M964 296.86h21M964 298.22h21M1048.1 298.22h21M964 299.59h21M921.9 300.95h21M964 300.95h21M964 302.31h21M964 305.03h21M964 307.76h21M1048.1 307.76h21M964 309.12h21M1006 309.12h21M964 310.48h21M964 313.20h21M1006 314.57h21M964 317.29h21M985 317.29h21M964 318.65h21M985 318.65h21M1027 318.65h21M1048.1 318.65h21M964 320.01h21M964 321.37h21M964 322.74h21M964 325.46h21M964 326.82h21M964 328.18h21M985 329.54h21M964 330.91h21M1027 330.91h21M964 333.63h21M964 334.99h21M985 336.35h21M964 337.71h21M1048.1 337.71h21M964 339.08h21M964 356.78h21M1006 360.86h21M1027 360.86h21M1006 362.23h21M985 363.59h21M1006 363.59h21M1027 363.59h21M964 366.31h21M1048.1 367.67h21M921.9 369.03h21M985 369.03h21M1027 369.03h21M1006 373.12h21M942.9 377.21h21M985 377.21h21M1048.1 378.57h21M1027 379.93h21M1048.1 379.93h21M942.9 385.38h21M1048.1 389.46h21M985 390.82h21M942.9 392.18h21M985 392.18h21M964 397.63h21M985 397.63h21M942.9 398.99h21M1048.1 398.99h21M1048.1 408.52h21M1048.1 430.31h21M1006 458.91h21M1048.1 461.63h21M985 462.99h21M985 465.72h21M1048.1 465.72h21M1027 476.61h21M1048.1 476.61h21M1048.1 479.34h21M1048.1 483.42h21M1048.1 490.23h21M1048.1 492.95h21M1048.1 494.31h21M964 495.68h21M1048.1 499.76h21M1048.1 502.48h21M1006 503.85h21M1048.1 505.21h21M964 506.57h21M1006 506.57h21M1048.1 506.57h21M985 507.93h21M985 512.02h21M1027 512.02h21M1048.1 512.02h21M1048.1 514.74h21M985 518.83h21M1006 518.83h21M1027 518.83h21M1006 520.19h21M964 521.55h21M1048.1 521.55h21M985 522.91h21M1006 522.91h21M1048.1 522.91h21M964 524.27h21M985 524.27h21M1006 524.27h21M1048.1 524.27h21M985 527.00h21M1048.1 527.00h21M964 528.36h21M1048.1 528.36h21" stroke="#fee6e6" stroke-width="1.61" fill="none"/>
<path d="M921.9 43.58h21M964 43.58h21M921.9 44.94h21M964 44.94h21M900.9 46.30h21M921.9 47.67h21M942.9 47.67h21M964 47.67h21M900.9 49.03h21M964 50.39h21M942.9 55.84h21M900.9 61.28h21M900.9 65.37h21M900.9 66.73h21M921.9 69.45h21M921.9 72.18h21M921.9 73.54h21M942.9 73.54h21M900.9 74.90h21M900.9 80.35h21M964 80.35h21M921.9 81.71h21M964 81.71h21M900.9 83.07h21M964 83.07h21M900.9 84.43h21M964 84.43h21M900.9 87.16h21M964 87.16h21M964 88.52h21M964 89.88h21M964 91.24h21M964 92.60h21M964 95.33h21M964 96.69h21M900.9 98.05h21M921.9 98.05h21M964 98.05h21M964 99.41h21M964 102.14h21M964 103.50h21M964 104.86h21M964 106.22h21M964 107.58h21M964 108.94h21M964 110.31h21M900.9 111.67h21M964 113.03h21M900.9 114.39h21M964 114.39h21M900.9 115.75h21M964 117.11h21M964 118.48h21M964 122.56h21M964 126.65h21M964 129.37h21M900.9 138.90h21M900.9 140.26h21M942.9 156.60h21M900.9 157.97h21M921.9 163.41h21M900.9 166.14h21M921.9 166.14h21M900.9 181.12h21M921.9 181.12h21M900.9 189.29h21M900.9 194.73h21M900.9 196.09h21M900.9 198.82h21M900.9 200.18h21M921.9 200.18h21M921.9 201.54h21M942.9 201.54h21M900.9 202.90h21M942.9 205.63h21M921.9 211.07h21M900.9 212.44h21M900.9 213.80h21M921.9 213.80h21M942.9 213.80h21M921.9 215.16h21M942.9 215.16h21M900.9 226.05h21M921.9 228.78h21M964 230.14h21M942.9 231.50h21M900.9 232.86h21M921.9 232.86h21M900.9 236.95h21M921.9 236.95h21M900.9 238.31h21M900.9 242.39h21M964 243.76h21M921.9 245.12h21M964 246.48h21M921.9 253.29h21M942.9 254.65h21M921.9 256.01h21M921.9 261.46h21M942.9 261.46h21M942.9 264.18h21M921.9 266.90h21M921.9 268.27h21M942.9 268.27h21M921.9 270.99h21M942.9 270.99h21M921.9 272.35h21M921.9 273.71h21M900.9 276.44h21M942.9 284.61h21M921.9 288.69h21M942.9 288.69h21M900.9 291.42h21M985 292.78h21M1027 292.78h21M1006 294.14h21M1027 294.14h21M1048.1 294.14h21M1027 295.50h21M1006 298.22h21M1027 298.22h21M1006 300.95h21M1027 300.95h21M985 302.31h21M1006 302.31h21M1027 302.31h21M1048.1 302.31h21M964 303.67h21M964 306.40h21M985 307.76h21M985 309.12h21M1027 309.12h21M985 310.48h21M1006 310.48h21M964 311.84h21M1048.1 311.84h21M985 314.57h21M1048.1 314.57h21M964 315.93h21M1006 318.65h21M985 322.74h21M1006 322.74h21M964 324.10h21M1027 326.82h21M1048.1 326.82h21M985 328.18h21M1006 328.18h21M1027 328.18h21M1048.1 328.18h21M964 329.54h21M1006 329.54h21M1048.1 329.54h21M1006 330.91h21M964 332.27h21M1027 336.35h21M1048.1 336.35h21M1006 337.71h21M1027 337.71h21M1006 339.08h21M1027 339.08h21M1048.1 339.08h21M1006 344.52h21M985 345.89h21M1048.1 345.89h21M985 351.33h21M1006 351.33h21M1048.1 355.42h21M985 356.78h21M1006 358.14h21M985 360.86h21M1048.1 360.86h21M985 362.23h21M1048.1 362.23h21M985 367.67h21M1006 367.67h21M1027 367.67h21M1048.1 369.03h21M985 373.12h21M1027 373.12h21M1048.1 373.12h21M985 375.84h21M1027 375.84h21M1048.1 375.84h21M1006 377.21h21M1027 377.21h21M985 378.57h21M1027 378.57h21M985 379.93h21M1006 384.01h21M1048.1 384.01h21M1048.1 385.38h21M985 386.74h21M985 388.10h21M1006 388.10h21M1048.1 388.10h21M985 389.46h21M1006 389.46h21M1006 390.82h21M1027 390.82h21M1048.1 390.82h21M1006 392.18h21M985 393.55h21M1006 394.91h21M1006 397.63h21M1027 397.63h21M985 398.99h21M1006 398.99h21M1006 401.72h21M985 403.08h21M1027 403.08h21M1048.1 405.80h21M1006 408.52h21M1006 409.89h21M1048.1 409.89h21M1048.1 419.42h21M1027 422.14h21M1048.1 423.50h21M985 430.31h21M1027 430.31h21M985 445.29h21M1006 445.29h21M1048.1 445.29h21M1048.1 454.82h21M1006 461.63h21M1006 462.99h21M1048.1 462.99h21M1006 465.72h21M1027 465.72h21M1048.1 473.89h21M1048.1 475.25h21M985 476.61h21M1006 480.70h21M985 482.06h21M1006 482.06h21M1027 482.06h21M1048.1 482.06h21M1006 486.14h21M1048.1 486.14h21M1027 487.51h21M1048.1 487.51h21M985 488.87h21M1006 488.87h21M1027 488.87h21M1048.1 488.87h21M1006 490.23h21M1048.1 491.59h21M985 492.95h21M1006 492.95h21M985 494.31h21M1006 494.31h21M1027 495.68h21M1006 499.76h21M1048.1 501.12h21M1006 502.48h21M1027 506.57h21M1006 507.93h21M1027 507.93h21M985 509.29h21M1006 509.29h21M1048.1 509.29h21M1006 514.74h21M1006 516.10h21M1027 516.10h21M1006 517.46h21M1048.1 517.46h21M985 520.19h21M1048.1 520.19h21M1027 522.91h21M1027 524.27h21M985 528.36h21M1006 528.36h21" stroke="#fccccc" stroke-width="1.61" fill="none"/>
<path d="M964 46.30h21M964 49.03h21M921.9 50.39h21M921.9 51.75h21M921.9 53.11h21M942.9 54.47h21M921.9 57.20h21M921.9 61.28h21M900.9 64.01h21M921.9 64.01h21M942.9 64.01h21M921.9 65.37h21M942.9 65.37h21M921.9 66.73h21M942.9 66.73h21M900.9 68.09h21M921.9 76.26h21M900.9 78.99h21M964 78.99h21M900.9 85.79h21M964 85.79h21M900.9 88.52h21M921.9 89.88h21M942.9 89.88h21M921.9 91.24h21M921.9 92.60h21M942.9 92.60h21M964 93.96h21M900.9 96.69h21M942.9 98.05h21M964 100.77h21M900.9 103.50h21M900.9 108.94h21M964 111.67h21M964 115.75h21M900.9 119.84h21M964 119.84h21M900.9 121.20h21M900.9 122.56h21M921.9 123.92h21M942.9 123.92h21M921.9 125.28h21M900.9 130.73h21M964 130.73h21M964 132.09h21M964 133.46h21M900.9 137.54h21M921.9 138.90h21M921.9 140.26h21M900.9 149.80h21M921.9 151.16h21M921.9 157.97h21M942.9 157.97h21M921.9 159.33h21M942.9 159.33h21M900.9 162.05h21M942.9 163.41h21M900.9 164.78h21M942.9 166.14h21M900.9 168.86h21M921.9 168.86h21M900.9 170.22h21M921.9 170.22h21M900.9 174.31h21M921.9 174.31h21M900.9 175.67h21M900.9 177.03h21M942.9 181.12h21M921.9 185.20h21M900.9 187.92h21M900.9 190.65h21M921.9 194.73h21M921.9 196.09h21M942.9 198.82h21M942.9 200.18h21M921.9 202.90h21M921.9 206.99h21M942.9 206.99h21M900.9 208.35h21M900.9 209.71h21M942.9 211.07h21M921.9 212.44h21M942.9 212.44h21M900.9 217.88h21M900.9 219.24h21M921.9 219.24h21M900.9 220.61h21M942.9 220.61h21M900.9 221.97h21M921.9 221.97h21M900.9 223.33h21M921.9 223.33h21M900.9 224.69h21M921.9 226.05h21M942.9 228.78h21M942.9 236.95h21M921.9 238.31h21M942.9 238.31h21M921.9 239.67h21M942.9 242.39h21M900.9 249.20h21M921.9 249.20h21M964 250.56h21M900.9 251.93h21M921.9 251.93h21M900.9 253.29h21M900.9 256.01h21M942.9 256.01h21M921.9 258.73h21M900.9 262.82h21M900.9 265.54h21M921.9 265.54h21M900.9 266.90h21M942.9 266.90h21M900.9 269.63h21M921.9 269.63h21M900.9 272.35h21M942.9 272.35h21M921.9 277.80h21M921.9 280.52h21M942.9 281.88h21M921.9 285.97h21M1006 292.78h21M985 296.86h21M985 299.59h21M985 300.95h21M1048.1 300.95h21M985 303.67h21M1048.1 303.67h21M985 305.03h21M1027 305.03h21M1048.1 305.03h21M1048.1 306.40h21M1006 307.76h21M1027 307.76h21M1048.1 309.12h21M1027 310.48h21M1048.1 310.48h21M985 311.84h21M1006 311.84h21M1027 311.84h21M1027 314.57h21M1006 317.29h21M1048.1 317.29h21M1027 320.01h21M1048.1 320.01h21M1006 321.37h21M1048.1 321.37h21M1027 322.74h21M1048.1 322.74h21M985 324.10h21M985 325.46h21M1027 325.46h21M1006 326.82h21M1027 329.54h21M985 330.91h21M1048.1 330.91h21M1027 332.27h21M1048.1 332.27h21M1006 333.63h21M1006 334.99h21M985 337.71h21M985 339.08h21M985 343.16h21M985 344.52h21M1027 344.52h21M1048.1 344.52h21M1006 345.89h21M1027 345.89h21M985 347.25h21M1027 347.25h21M1048.1 347.25h21M985 349.97h21M1006 349.97h21M1048.1 349.97h21M1027 351.33h21M1048.1 351.33h21M1048.1 352.69h21M985 354.06h21M985 355.42h21M1006 355.42h21M1006 356.78h21M1027 356.78h21M985 358.14h21M1048.1 358.14h21M1027 359.50h21M1048.1 359.50h21M1027 364.95h21M1006 366.31h21M1048.1 366.31h21M1006 369.03h21M1048.1 370.40h21M1006 375.84h21M1006 379.93h21M985 381.29h21M1006 381.29h21M1027 381.29h21M1048.1 381.29h21M1006 382.65h21M1027 382.65h21M1048.1 382.65h21M1006 386.74h21M1027 392.18h21M1048.1 392.18h21M1027 393.55h21M1048.1 393.55h21M985 394.91h21M1048.1 394.91h21M1006 400.35h21M1048.1 400.35h21M985 401.72h21M1027 401.72h21M1048.1 401.72h21M1006 403.08h21M1048.1 403.08h21M1006 404.44h21M1027 404.44h21M1048.1 404.44h21M985 405.80h21M1006 405.80h21M1027 405.80h21M1006 407.16h21M985 408.52h21M1027 408.52h21M985 419.42h21M1006 420.78h21M1006 422.14h21M1048.1 422.14h21M985 423.50h21M1006 423.50h21M1027 423.50h21M1006 424.87h21M985 427.59h21M1048.1 428.95h21M1006 430.31h21M985 431.67h21M1048.1 431.67h21M1048.1 435.76h21M985 437.12h21M1006 437.12h21M1027 437.12h21M1006 443.93h21M1027 445.29h21M985 452.10h21M1006 452.10h21M1027 452.10h21M1048.1 452.10h21M985 454.82h21M1027 456.19h21M985 458.91h21M1048.1 458.91h21M985 460.27h21M1048.1 460.27h21M985 461.63h21M1027 461.63h21M1006 464.36h21M1048.1 464.36h21M985 467.08h21M1006 467.08h21M1048.1 467.08h21M1006 468.44h21M1048.1 468.44h21M1048.1 472.53h21M1006 477.97h21M1006 479.34h21M1048.1 480.70h21M985 483.42h21M1006 483.42h21M985 484.78h21M1006 484.78h21M1048.1 484.78h21M985 486.14h21M1027 486.14h21M985 487.51h21M1006 487.51h21M985 490.23h21M985 491.59h21M1027 491.59h21M1027 492.95h21M1027 494.31h21M1006 495.68h21M1048.1 495.68h21M1048.1 497.04h21M1048.1 498.40h21M985 499.76h21M1027 499.76h21M1006 501.12h21M1027 502.48h21M985 503.85h21M1027 503.85h21M985 505.21h21M1006 505.21h21M1027 505.21h21M985 506.57h21M1027 509.29h21M985 510.65h21M1006 510.65h21M1027 510.65h21M985 513.38h21M1048.1 513.38h21M985 514.74h21M1027 520.19h21M1027 528.36h21M1048.1 529.72h21" stroke="#fbb3b3" stroke-width="1.61" fill="none"/>
<path d="M942.9 43.58h21M942.9 44.94h21M921.9 46.30h21M921.9 49.03h21M942.9 53.11h21M942.9 57.20h21M942.9 61.28h21M900.9 62.65h21M942.9 69.45h21M921.9 70.82h21M942.9 72.18h21M942.9 81.71h21M942.9 91.24h21M900.9 93.96h21M900.9 99.41h21M921.9 99.41h21M921.9 103.50h21M900.9 104.86h21M900.9 106.22h21M900.9 107.58h21M921.9 108.94h21M942.9 108.94h21M900.9 110.31h21M921.9 121.20h21M921.9 122.56h21M900.9 125.28h21M900.9 126.65h21M921.9 126.65h21M921.9 128.01h21M900.9 129.37h21M921.9 130.73h21M900.9 134.82h21M921.9 134.82h21M921.9 137.54h21M942.9 138.90h21M900.9 148.43h21M900.9 151.16h21M900.9 152.52h21M900.9 153.88h21M921.9 153.88h21M900.9 155.24h21M921.9 155.24h21M921.9 162.05h21M921.9 164.78h21M900.9 172.95h21M921.9 172.95h21M921.9 175.67h21M921.9 177.03h21M900.9 185.20h21M900.9 186.56h21M921.9 186.56h21M921.9 190.65h21M900.9 192.01h21M921.9 192.01h21M942.9 194.73h21M942.9 196.09h21M900.9 197.46h21M921.9 198.82h21M942.9 202.90h21M921.9 208.35h21M942.9 208.35h21M921.9 209.71h21M942.9 209.71h21M921.9 217.88h21M942.9 217.88h21M942.9 219.24h21M942.9 223.33h21M921.9 224.69h21M942.9 226.05h21M900.9 227.41h21M900.9 230.14h21M921.9 230.14h21M942.9 232.86h21M900.9 234.22h21M921.9 234.22h21M900.9 235.59h21M921.9 235.59h21M921.9 241.03h21M942.9 241.03h21M921.9 242.39h21M900.9 243.76h21M942.9 245.12h21M921.9 246.48h21M900.9 247.84h21M942.9 249.20h21M942.9 251.93h21M942.9 253.29h21M900.9 258.73h21M921.9 262.82h21M942.9 265.54h21M921.9 276.44h21M942.9 280.52h21M921.9 281.88h21M942.9 285.97h21M921.9 287.33h21M1048.1 292.78h21M1006 296.86h21M1027 296.86h21M1006 299.59h21M1048.1 299.59h21M1006 303.67h21M1027 303.67h21M1006 305.03h21M1006 306.40h21M985 313.20h21M1006 313.20h21M1048.1 313.20h21M985 315.93h21M1006 315.93h21M1027 317.29h21M985 320.01h21M985 321.37h21M1027 321.37h21M1006 324.10h21M1027 324.10h21M1048.1 324.10h21M1006 325.46h21M1048.1 325.46h21M1048.1 333.63h21M985 334.99h21M1048.1 334.99h21M1006 343.16h21M1048.1 343.16h21M1006 347.25h21M985 348.61h21M1006 348.61h21M1027 348.61h21M1048.1 348.61h21M1027 349.97h21M985 352.69h21M1006 352.69h21M1027 352.69h21M1006 354.06h21M1027 354.06h21M1048.1 354.06h21M1027 355.42h21M1048.1 356.78h21M1027 358.14h21M985 359.50h21M1006 359.50h21M1027 362.23h21M985 364.95h21M1048.1 364.95h21M985 366.31h21M1027 366.31h21M985 370.40h21M1006 370.40h21M1027 370.40h21M985 374.48h21M1048.1 374.48h21M985 382.65h21M985 384.01h21M1027 384.01h21M1027 386.74h21M1048.1 386.74h21M1027 388.10h21M1027 389.46h21M1006 393.55h21M1027 394.91h21M1027 400.35h21M985 407.16h21M1048.1 407.16h21M985 409.89h21M1027 409.89h21M985 415.33h21M1006 415.33h21M1027 415.33h21M1048.1 415.33h21M1006 416.70h21M1006 418.06h21M1048.1 418.06h21M1006 419.42h21M985 420.78h21M1027 420.78h21M985 422.14h21M1027 427.59h21M1048.1 427.59h21M1006 428.95h21M1027 428.95h21M1006 431.67h21M1027 431.67h21M985 435.76h21M1048.1 437.12h21M1006 438.48h21M1048.1 438.48h21M985 441.21h21M1006 441.21h21M985 443.93h21M985 446.65h21M1006 446.65h21M1048.1 446.65h21M985 450.74h21M1006 450.74h21M1048.1 450.74h21M1006 454.82h21M1027 454.82h21M985 456.19h21M1006 456.19h21M1048.1 456.19h21M985 457.55h21M1048.1 457.55h21M1006 460.27h21M1027 462.99h21M985 464.36h21M1027 467.08h21M985 468.44h21M1006 469.80h21M1048.1 469.80h21M1006 471.16h21M1027 471.16h21M1048.1 471.16h21M1006 472.53h21M985 473.89h21M1006 473.89h21M985 475.25h21M1006 475.25h21M1027 475.25h21M1027 477.97h21M1048.1 477.97h21M985 479.34h21M985 480.70h21M1027 480.70h21M1027 483.42h21M1027 490.23h21M1006 491.59h21M985 495.68h21M1006 498.40h21M985 502.48h21M1006 513.38h21M1027 513.38h21M1027 514.74h21M985 517.46h21M1027 517.46h21M1006 525.63h21M1048.1 525.63h21" stroke="#fa9898" stroke-width="1.61" fill="none"/>
<path d="M942.9 50.39h21M921.9 68.09h21M942.9 70.82h21M942.9 76.26h21M921.9 77.62h21M921.9 78.99h21M921.9 83.07h21M921.9 87.16h21M900.9 95.33h21M921.9 95.33h21M921.9 96.69h21M942.9 96.69h21M942.9 99.41h21M900.9 102.14h21M942.9 103.50h21M921.9 104.86h21M942.9 104.86h21M921.9 106.22h21M921.9 107.58h21M942.9 107.58h21M921.9 110.31h21M921.9 111.67h21M921.9 113.03h21M942.9 113.03h21M921.9 114.39h21M921.9 117.11h21M921.9 118.48h21M942.9 122.56h21M942.9 126.65h21M900.9 128.01h21M942.9 128.01h21M942.9 130.73h21M921.9 132.09h21M900.9 133.46h21M942.9 134.82h21M900.9 136.18h21M942.9 137.54h21M942.9 140.26h21M900.9 142.99h21M921.9 142.99h21M900.9 144.35h21M942.9 151.16h21M942.9 164.78h21M900.9 167.50h21M942.9 170.22h21M942.9 172.95h21M942.9 175.67h21M942.9 177.03h21M900.9 178.39h21M900.9 182.48h21M900.9 183.84h21M942.9 186.56h21M921.9 187.92h21M942.9 187.92h21M921.9 189.29h21M942.9 221.97h21M942.9 224.69h21M921.9 227.41h21M942.9 227.41h21M942.9 235.59h21M942.9 239.67h21M900.9 246.48h21M921.9 247.84h21M900.9 250.56h21M921.9 250.56h21M900.9 257.37h21M942.9 262.82h21M942.9 269.63h21M900.9 275.08h21M921.9 275.08h21M942.9 275.08h21M942.9 276.44h21M942.9 277.80h21M942.9 287.33h21M921.9 290.05h21M1048.1 296.86h21M1027 299.59h21M985 306.40h21M1027 306.40h21M1027 315.93h21M1048.1 315.93h21M1006 320.01h21M985 332.27h21M1006 332.27h21M1027 334.99h21M1027 343.16h21M1006 364.95h21M985 371.76h21M1006 371.76h21M1027 371.76h21M1048.1 371.76h21M1006 374.48h21M1027 374.48h21M985 400.35h21M985 404.44h21M1027 407.16h21M1048.1 416.70h21M1027 418.06h21M1027 419.42h21M1048.1 420.78h21M985 424.87h21M1048.1 424.87h21M985 426.23h21M1006 426.23h21M1006 427.59h21M985 428.95h21M1006 435.76h21M1027 435.76h21M1027 438.48h21M1006 439.84h21M1048.1 441.21h21M1006 442.57h21M1027 443.93h21M1048.1 443.93h21M1027 446.65h21M1027 450.74h21M1006 457.55h21M1027 457.55h21M1027 460.27h21M1027 464.36h21M1027 468.44h21M985 469.80h21M985 471.16h21M985 472.53h21M1027 472.53h21M1027 473.89h21M985 477.97h21M1027 479.34h21M1027 484.78h21M985 497.04h21M1006 497.04h21M985 498.40h21M985 501.12h21M1027 501.12h21M985 525.63h21M1027 525.63h21" stroke="#f97c7c" stroke-width="1.61" fill="none"/>
<path d="M921.9 62.65h21M942.9 68.09h21M921.9 80.35h21M942.9 80.35h21M942.9 83.07h21M921.9 84.43h21M921.9 88.52h21M921.9 93.96h21M942.9 95.33h21M900.9 100.77h21M921.9 100.77h21M921.9 102.14h21M942.9 106.22h21M942.9 110.31h21M921.9 115.75h21M942.9 115.75h21M942.9 121.20h21M942.9 125.28h21M921.9 129.37h21M900.9 132.09h21M921.9 136.18h21M900.9 141.63h21M942.9 142.99h21M921.9 144.35h21M900.9 145.71h21M900.9 147.07h21M921.9 147.07h21M921.9 148.43h21M921.9 149.80h21M942.9 149.80h21M942.9 155.24h21M942.9 162.05h21M942.9 168.86h21M942.9 174.31h21M921.9 178.39h21M942.9 178.39h21M921.9 182.48h21M921.9 183.84h21M942.9 185.20h21M942.9 189.29h21M942.9 190.65h21M942.9 192.01h21M921.9 197.46h21M942.9 230.14h21M942.9 234.22h21M921.9 243.76h21M942.9 243.76h21M942.9 247.84h21M942.9 250.56h21M921.9 257.37h21M942.9 257.37h21M942.9 258.73h21M942.9 290.05h21M921.9 291.42h21M1027 313.20h21M985 333.63h21M1027 333.63h21M985 340.44h21M1048.1 340.44h21M985 341.80h21M1006 341.80h21M985 396.27h21M1006 396.27h21M1027 396.27h21M1048.1 396.27h21M985 416.70h21M1027 416.70h21M985 418.06h21M1027 424.87h21M1048.1 426.23h21M985 438.48h21M985 439.84h21M1048.1 439.84h21M1027 441.21h21M985 442.57h21M1027 442.57h21M1048.1 442.57h21M1006 448.02h21M1027 448.02h21M1048.1 448.02h21M985 453.46h21M1006 453.46h21M1027 469.80h21M1027 497.04h21M1027 498.40h21M1027 529.72h21" stroke="#f86060" stroke-width="1.61" fill="none"/>
<path d="M942.9 46.30h21M942.9 49.03h21M942.9 51.75h21M942.9 62.65h21M921.9 74.90h21M942.9 77.62h21M942.9 78.99h21M942.9 84.43h21M921.9 85.79h21M942.9 87.16h21M942.9 100.77h21M942.9 111.67h21M942.9 114.39h21M942.9 117.11h21M942.9 129.37h21M942.9 132.09h21M921.9 133.46h21M942.9 136.18h21M942.9 144.35h21M942.9 148.43h21M921.9 152.52h21M942.9 153.88h21M921.9 167.50h21M942.9 182.48h21M900.9 193.37h21M942.9 246.48h21M1006 340.44h21M1048.1 341.80h21M1027 426.23h21M1048.1 433.04h21M1027 439.84h21M985 449.38h21M1006 449.38h21M1027 449.38h21M1048.1 449.38h21M1048.1 453.46h21M985 529.72h21M1006 529.72h21" stroke="#f94646" stroke-width="1.61" fill="none"/>
<path d="M942.9 88.52h21M942.9 93.96h21M942.9 102.14h21M942.9 118.48h21M921.9 119.84h21M921.9 141.63h21M921.9 145.71h21M942.9 152.52h21M942.9 167.50h21M942.9 183.84h21M942.9 197.46h21M942.9 291.42h21M1006 412.61h21M1006 433.04h21M985 434.40h21M985 448.02h21M1027 453.46h21" stroke="#fb2f2f" stroke-width="1.61" fill="none"/>
<path d="M942.9 85.79h21M942.9 141.63h21M942.9 145.71h21M942.9 147.07h21M921.9 193.37h21M1027 340.44h21M1027 341.80h21M985 411.25h21M1048.1 411.25h21M985 412.61h21M1006 413.97h21M985 433.04h21M1027 433.04h21M1006 434.40h21M1027 434.40h21" stroke="#fd1717" stroke-width="1.61" fill="none"/>
<path d="M942.9 133.46h21M1006 411.25h21M1048.1 412.61h21M1027 413.97h21M1048.1 413.97h21" stroke="#ff0000" stroke-width="1.61" fill="none"/>
<path d="M942.9 74.90h21M942.9 193.37h21M1027 412.61h21M985 413.97h21M1048.1 434.40h21" stroke="#ff0000" stroke-width="1.61" fill="none"/>
<path d="M942.9 119.84h21M1027 411.25h21" stroke="#ff0000" stroke-width="1.61" fill="none"/>
<text x="946" y="30.3" font-size="16.2" text-anchor="middle" stroke="#000" stroke-width=".3">Xinβ-KO</text>
<text x="1027.5" y="30.3" font-size="16.2" text-anchor="middle" stroke="#000" stroke-width=".3">WT</text>
<line x1="904" y1="39.4" x2="980.6" y2="39.4" stroke="#000" stroke-width="1.4"/>
<line x1="988.8" y1="39.4" x2="1065.8" y2="39.4" stroke="#000" stroke-width="1.4"/>
<text font-size="16.6" text-anchor="middle" stroke="#000" stroke-width=".3" transform="translate(1091.5 164.7) rotate(-90)">373 genes upregulated</text>
<text font-size="16.6" text-anchor="middle" stroke="#000" stroke-width=".3" transform="translate(1091.5 413) rotate(-90)">344 genes downregulated</text>
<text font-size="20" text-anchor="middle" font-weight="normal" transform="translate(627.3 280.8) rotate(-90)" stroke="#000" stroke-width=".35">717 genes differentially expressed in Xinβ-KO hearts</text>
<rect x="644.1" y="38.8" width="7.2" height="16.3" fill="#0050f5"/>
<text x="657.2" y="51.6" font-size="14" font-weight="normal">−2.0</text>
<rect x="644.1" y="55" width="7.2" height="16.3" fill="#548cf6"/>
<text x="657.2" y="68" font-size="14" font-weight="normal">−1.3</text>
<rect x="644.1" y="71.2" width="7.2" height="16.3" fill="#a8c6fb"/>
<text x="657.2" y="84.4" font-size="14" font-weight="normal">−0.7</text>
<rect x="644.1" y="87.5" width="7.2" height="16.3" fill="#fdfdfd"/>
<text x="657.2" y="100.8" font-size="14" font-weight="normal">0.0</text>
<rect x="644.1" y="103.7" width="7.2" height="16.3" fill="#faa6a6"/>
<text x="657.2" y="117.2" font-size="14" font-weight="normal">0.7</text>
<rect x="644.1" y="119.9" width="7.2" height="16.3" fill="#f85252"/>
<text x="657.2" y="133.6" font-size="14" font-weight="normal">1.3</text>
<rect x="644.1" y="136.1" width="7.2" height="16.3" fill="#ff0000"/>
<text x="657.2" y="150" font-size="14" font-weight="normal">2.0</text>
</g>
<g id="pc">
<text x="0" y="605" font-size="42" stroke="#000" stroke-width=".7">c</text>
<text x="287" y="612" font-size="25" text-anchor="middle" stroke="#000" stroke-width=".3">GSEA gene ontology analysis</text>
<line x1="110" y1="616.3" x2="464.2" y2="616.3" stroke="#000" stroke-width="1.8"/>
<text x="604.4" y="618" font-size="25" text-anchor="middle" stroke="#000" stroke-width=".3">WT</text>
<text x="810.5" y="618" font-size="24.6" text-anchor="middle" stroke="#000" stroke-width=".3">Xinβ-KO</text>
<text x="488" y="676.4" font-size="20.7" text-anchor="end" stroke="#000" stroke-width=".3">CHROMOSOME_SEGREGATION</text>
<text x="488" y="715.4" font-size="20.7" text-anchor="end" stroke="#000" stroke-width=".3">NUCLEAR_CHROMOSOME_SEGREGATION</text>
<text x="488" y="752.6" font-size="20.7" text-anchor="end" stroke="#000" stroke-width=".3">CONDENSED_CHROMOSOME</text>
<text x="488" y="790.3" font-size="20.7" text-anchor="end" stroke="#000" stroke-width=".3">DNA_REPLICATION</text>
<text x="488" y="826.8" font-size="20.7" text-anchor="end" stroke="#000" stroke-width=".3">SISTER_CHROMATID_SEGREGATION</text>
<text x="488" y="865.2" font-size="20.7" text-anchor="end" stroke="#000" stroke-width=".3">CELL_CYCLE_PHASE_TRANSITION</text>
<text x="488" y="903.9" font-size="20.7" text-anchor="end" stroke="#000" stroke-width=".3">CELL_CYCLE_G1_S_PHASE_TRANSITION</text>
<text x="488" y="943.2" font-size="20.7" text-anchor="end" stroke="#000" stroke-width=".3">CELL_DIVISION</text>
<text x="488" y="1018.8" font-size="20.7" text-anchor="end" stroke="#000" stroke-width=".3">RESPONSE_TO_TYPE_I_INTERFERON</text>
<text x="488" y="967.5" font-size="20.7" text-anchor="end" stroke="#000" stroke-width=".3">POSITIVE_REGULATION_OF_</text>
<text x="488" y="992.6" font-size="20.7" text-anchor="end" stroke="#000" stroke-width=".3">INFLAMMATORY_RESPONSE</text>
<circle cx="545.1" cy="669.2" r="17.3" fill="#6975f8"/>
<circle cx="545.4" cy="707.5" r="15.6" fill="#6975f8"/>
<circle cx="546.1" cy="745.4" r="14.2" fill="#6975f8"/>
<circle cx="548.5" cy="783.4" r="15.9" fill="#6a77f8"/>
<circle cx="548.8" cy="821.4" r="14.6" fill="#6a77f8"/>
<circle cx="553.6" cy="859.7" r="18" fill="#6c79f8"/>
<circle cx="554.9" cy="897.6" r="11.5" fill="#6c79f8"/>
<circle cx="561" cy="935.6" r="23.4" fill="#7785fa"/>
<circle cx="840" cy="973.9" r="8.1" fill="#f87a7e"/>
<circle cx="874.2" cy="1011.9" r="7.1" fill="#f74b4f"/>
<line x1="700.3" y1="631.2" x2="700.3" y2="1049.8" stroke="#000" stroke-width="1.7" stroke-dasharray="6.5 4.5"/>
<rect x="504.1" y="631.2" width="425.4" height="418.6" fill="none" stroke="#000" stroke-width="1.8"/>
<path d="M504.1 669.2h-6.5M504.1 707.5h-6.5M504.1 745.4h-6.5M504.1 783.4h-6.5M504.1 821.4h-6.5M504.1 859.7h-6.5M504.1 897.6h-6.5M504.1 935.6h-6.5M504.1 973.9h-6.5M504.1 1011.9h-6.5M503.9 1049.8v7.8M536.6 1049.8v4.4M569.4 1049.8v7.8M602.1 1049.8v4.4M634.8 1049.8v7.8M667.6 1049.8v4.4M700.3 1049.8v7.8M733 1049.8v4.4M765.8 1049.8v7.8M798.5 1049.8v4.4M831.2 1049.8v7.8M864 1049.8v4.4M896.7 1049.8v7.8" stroke="#000" stroke-width="1.7" fill="none"/>
<text x="503.1" y="1078.6" font-size="20.5" text-anchor="middle" stroke="#000" stroke-width=".3">−3</text>
<text x="568.6" y="1078.6" font-size="20.5" text-anchor="middle" stroke="#000" stroke-width=".3">−2</text>
<text x="634" y="1078.6" font-size="20.5" text-anchor="middle" stroke="#000" stroke-width=".3">−1</text>
<text x="700.3" y="1078.6" font-size="20.5" text-anchor="middle" stroke="#000" stroke-width=".3">0</text>
<text x="765.8" y="1078.6" font-size="20.5" text-anchor="middle" stroke="#000" stroke-width=".3">1</text>
<text x="831.2" y="1078.6" font-size="20.5" text-anchor="middle" stroke="#000" stroke-width=".3">2</text>
<text x="896.7" y="1078.6" font-size="20.5" text-anchor="middle" stroke="#000" stroke-width=".3">3</text>
<text x="718.1" y="1107.5" font-size="20.7" text-anchor="middle" stroke="#000" stroke-width=".3">Normalized enrichment score (NES)</text>
<text x="968.1" y="644" font-size="16.2" text-anchor="middle" stroke="#000" stroke-width=".3">NES</text>
<rect x="992.6" y="652.4" width="20.6" height="18.9" fill="#2a38f6" stroke="#000" stroke-width="1.5"/>
<text x="983.6" y="667.8" font-size="16.5" text-anchor="end" stroke="#000" stroke-width=".3">−2.377</text>
<rect x="992.6" y="671.3" width="20.6" height="18.9" fill="#979dfb" stroke="#000" stroke-width="1.5"/>
<text x="983.6" y="686.6" font-size="16.5" text-anchor="end" stroke="#000" stroke-width=".3">−1.117</text>
<rect x="992.6" y="690.2" width="20.6" height="18.9" fill="#ffffff" stroke="#000" stroke-width="1.5"/>
<text x="983.6" y="705.4" font-size="16.5" text-anchor="end" stroke="#000" stroke-width=".3">0.144</text>
<rect x="992.6" y="709.1" width="20.6" height="18.9" fill="#fa8a8a" stroke="#000" stroke-width="1.5"/>
<text x="983.6" y="724.2" font-size="16.5" text-anchor="end" stroke="#000" stroke-width=".3">1.405</text>
<rect x="992.6" y="728" width="20.6" height="18.9" fill="#f90d0d" stroke="#000" stroke-width="1.5"/>
<text x="983.6" y="743" font-size="16.5" text-anchor="end" stroke="#000" stroke-width=".3">2.666</text>
<text x="966.4" y="833.9" font-size="16.5" text-anchor="middle" stroke="#000" stroke-width=".3">Size</text>
<circle cx="963.7" cy="876.3" r="23.7" fill="#a6a6a6"/>
<text x="963.7" y="883.8" font-size="16" text-anchor="middle" stroke="#fff" stroke-width=".3" fill="#fff">391</text>
<circle cx="1011.2" cy="862" r="4.7" fill="#a6a6a6"/>
<text x="1010.5" y="886.5" font-size="16" text-anchor="middle" stroke="#000" stroke-width=".3">39</text>
</g>
<g id="pd">
<text x="1161" y="31" font-size="42" stroke="#000" stroke-width=".7">d</text>
<rect x="1254.7" y="274.9" width="20.8" height="160.6" fill="#0080ff" stroke="#000" stroke-width="2.8"/>
<path d="M1265.1 252.4V294.6M1259.1 252.4h12M1259.1 294.6h12" stroke="#000" stroke-width="1.7" fill="none"/>
<circle cx="1259.1" cy="236.4" r="4.6" fill="#0080ff" stroke="#000" stroke-width="1.5"/>
<circle cx="1271.1" cy="237.9" r="4.6" fill="#0080ff" stroke="#000" stroke-width="1.5"/>
<circle cx="1259.1" cy="305.1" r="4.6" fill="#0080ff" stroke="#000" stroke-width="1.5"/>
<circle cx="1271.1" cy="315.6" r="4.6" fill="#0080ff" stroke="#000" stroke-width="1.5"/>
<rect x="1281.3" y="362.4" width="20.8" height="73.1" fill="#ff0000" stroke="#000" stroke-width="2.8"/>
<path d="M1291.7 326.1V395.8M1285.7 326.1h12M1285.7 395.8h12" stroke="#000" stroke-width="1.7" fill="none"/>
<rect x="1286.7" y="253.9" width="10" height="10" fill="#ff0000" stroke="#000" stroke-width="1.3"/>
<rect x="1286.7" y="377" width="10" height="10" fill="#ff0000" stroke="#000" stroke-width="1.3"/>
<rect x="1280.7" y="389" width="10" height="10" fill="#ff0000" stroke="#000" stroke-width="1.3"/>
<rect x="1292.7" y="401.3" width="10" height="10" fill="#ff0000" stroke="#000" stroke-width="1.3"/>
<path d="M1265.2 210V193.6H1293V210" stroke="#000" stroke-width="2.8" fill="none" stroke-linecap="butt"/>
<text x="1279.2" y="190.5" font-size="38" text-anchor="middle" stroke="#000" stroke-width=".7">*</text>
<line x1="1278.4" y1="435.5" x2="1278.4" y2="448.5" stroke="#000" stroke-width="3.2"/>
<text font-size="21" text-anchor="end" stroke="#000" stroke-width=".3" transform="translate(1290.4 465) rotate(-45)">Cdk1</text>
<rect x="1332.8" y="274.9" width="20.8" height="160.6" fill="#0080ff" stroke="#000" stroke-width="2.8"/>
<path d="M1343.2 265.9V281.1M1337.2 265.9h12M1337.2 281.1h12" stroke="#000" stroke-width="1.7" fill="none"/>
<circle cx="1343.2" cy="251.5" r="4.6" fill="#0080ff" stroke="#000" stroke-width="1.5"/>
<circle cx="1337.2" cy="274.1" r="4.6" fill="#0080ff" stroke="#000" stroke-width="1.5"/>
<circle cx="1343.2" cy="280" r="4.6" fill="#0080ff" stroke="#000" stroke-width="1.5"/>
<circle cx="1349.2" cy="283.2" r="4.6" fill="#0080ff" stroke="#000" stroke-width="1.5"/>
<rect x="1359.3" y="342.1" width="20.8" height="93.4" fill="#ff0000" stroke="#000" stroke-width="2.8"/>
<path d="M1369.8 322.9V358.6M1363.8 322.9h12M1363.8 358.6h12" stroke="#000" stroke-width="1.7" fill="none"/>
<rect x="1364.8" y="286.3" width="10" height="10" fill="#ff0000" stroke="#000" stroke-width="1.3"/>
<rect x="1364.8" y="335.7" width="10" height="10" fill="#ff0000" stroke="#000" stroke-width="1.3"/>
<rect x="1358.8" y="354.4" width="10" height="10" fill="#ff0000" stroke="#000" stroke-width="1.3"/>
<rect x="1370.2" y="365.7" width="10" height="10" fill="#ff0000" stroke="#000" stroke-width="1.3"/>
<path d="M1343.8 210V193.6H1371.5V210" stroke="#000" stroke-width="2.8" fill="none" stroke-linecap="butt"/>
<text x="1357.8" y="190.5" font-size="38" text-anchor="middle" stroke="#000" stroke-width=".7">*</text>
<line x1="1356.5" y1="435.5" x2="1356.5" y2="448.5" stroke="#000" stroke-width="3.2"/>
<text font-size="21" text-anchor="end" stroke="#000" stroke-width=".3" transform="translate(1368.5 465) rotate(-45)">Ccnd1</text>
<rect x="1410.8" y="274.9" width="20.8" height="160.6" fill="#0080ff" stroke="#000" stroke-width="2.8"/>
<path d="M1421.2 266.2V280.8M1415.2 266.2h12M1415.2 280.8h12" stroke="#000" stroke-width="1.7" fill="none"/>
<circle cx="1415.2" cy="258.9" r="4.6" fill="#0080ff" stroke="#000" stroke-width="1.5"/>
<circle cx="1427.2" cy="268.6" r="4.6" fill="#0080ff" stroke="#000" stroke-width="1.5"/>
<circle cx="1416.2" cy="275.1" r="4.6" fill="#0080ff" stroke="#000" stroke-width="1.5"/>
<circle cx="1427.2" cy="289.7" r="4.6" fill="#0080ff" stroke="#000" stroke-width="1.5"/>
<rect x="1437.4" y="349.4" width="20.8" height="86.1" fill="#ff0000" stroke="#000" stroke-width="2.8"/>
<path d="M1447.8 333.8V362.3M1441.8 333.8h12M1441.8 362.3h12" stroke="#000" stroke-width="1.7" fill="none"/>
<rect x="1442.8" y="306.9" width="10" height="10" fill="#ff0000" stroke="#000" stroke-width="1.3"/>
<rect x="1436.8" y="339.8" width="10" height="10" fill="#ff0000" stroke="#000" stroke-width="1.3"/>
<rect x="1448.8" y="349.5" width="10" height="10" fill="#ff0000" stroke="#000" stroke-width="1.3"/>
<rect x="1442.8" y="369.6" width="10" height="10" fill="#ff0000" stroke="#000" stroke-width="1.3"/>
<path d="M1421.3 210V193.6H1449.1V210" stroke="#000" stroke-width="2.8" fill="none" stroke-linecap="butt"/>
<text x="1435.3" y="190.5" font-size="38" text-anchor="middle" stroke="#000" stroke-width=".7">*</text>
<line x1="1434.5" y1="435.5" x2="1434.5" y2="448.5" stroke="#000" stroke-width="3.2"/>
<text font-size="21" text-anchor="end" stroke="#000" stroke-width=".3" transform="translate(1446.5 465) rotate(-45)">Ccnd2</text>
<rect x="1488.9" y="274.9" width="20.8" height="160.6" fill="#0080ff" stroke="#000" stroke-width="2.8"/>
<path d="M1499.3 260.5V286.5M1493.3 260.5h12M1493.3 286.5h12" stroke="#000" stroke-width="1.7" fill="none"/>
<circle cx="1499.3" cy="242.7" r="4.6" fill="#0080ff" stroke="#000" stroke-width="1.5"/>
<circle cx="1499.3" cy="262.2" r="4.6" fill="#0080ff" stroke="#000" stroke-width="1.5"/>
<circle cx="1493.3" cy="292.1" r="4.6" fill="#0080ff" stroke="#000" stroke-width="1.5"/>
<circle cx="1504.8" cy="296.2" r="4.6" fill="#0080ff" stroke="#000" stroke-width="1.5"/>
<rect x="1515.5" y="372.1" width="20.8" height="63.4" fill="#ff0000" stroke="#000" stroke-width="2.8"/>
<path d="M1525.9 348V393.4M1519.9 348h12M1519.9 393.4h12" stroke="#000" stroke-width="1.7" fill="none"/>
<rect x="1520.9" y="299.3" width="10" height="10" fill="#ff0000" stroke="#000" stroke-width="1.3"/>
<rect x="1520.9" y="375.4" width="10" height="10" fill="#ff0000" stroke="#000" stroke-width="1.3"/>
<rect x="1515.4" y="390" width="10" height="10" fill="#ff0000" stroke="#000" stroke-width="1.3"/>
<rect x="1526.4" y="394.9" width="10" height="10" fill="#ff0000" stroke="#000" stroke-width="1.3"/>
<path d="M1502.4 210V193.6H1530.2V210" stroke="#000" stroke-width="2.8" fill="none" stroke-linecap="butt"/>
<text x="1516.4" y="190.5" font-size="38" text-anchor="middle" stroke="#000" stroke-width=".7">*</text>
<line x1="1512.6" y1="435.5" x2="1512.6" y2="448.5" stroke="#000" stroke-width="3.2"/>
<text font-size="21" text-anchor="end" stroke="#000" stroke-width=".3" transform="translate(1524.6 465) rotate(-45)">Ccne2</text>
<rect x="1566.9" y="274.9" width="20.8" height="160.6" fill="#0080ff" stroke="#000" stroke-width="2.8"/>
<path d="M1577.3 265.4V281.6M1571.3 265.4h12M1571.3 281.6h12" stroke="#000" stroke-width="1.7" fill="none"/>
<circle cx="1571.3" cy="254.7" r="4.6" fill="#0080ff" stroke="#000" stroke-width="1.5"/>
<circle cx="1582.8" cy="266.2" r="4.6" fill="#0080ff" stroke="#000" stroke-width="1.5"/>
<circle cx="1571.3" cy="279.2" r="4.6" fill="#0080ff" stroke="#000" stroke-width="1.5"/>
<circle cx="1582.8" cy="289.7" r="4.6" fill="#0080ff" stroke="#000" stroke-width="1.5"/>
<rect x="1593.5" y="364" width="20.8" height="71.5" fill="#ff0000" stroke="#000" stroke-width="2.8"/>
<path d="M1603.9 344V381.2M1597.9 344h12M1597.9 381.2h12" stroke="#000" stroke-width="1.7" fill="none"/>
<rect x="1598.9" y="304.1" width="10" height="10" fill="#ff0000" stroke="#000" stroke-width="1.3"/>
<rect x="1593.9" y="364.1" width="10" height="10" fill="#ff0000" stroke="#000" stroke-width="1.3"/>
<rect x="1604.4" y="366.5" width="10" height="10" fill="#ff0000" stroke="#000" stroke-width="1.3"/>
<rect x="1598.9" y="388.4" width="10" height="10" fill="#ff0000" stroke="#000" stroke-width="1.3"/>
<path d="M1579 210V193.6H1606.8V210" stroke="#000" stroke-width="2.8" fill="none" stroke-linecap="butt"/>
<text x="1593" y="190.5" font-size="38" text-anchor="middle" stroke="#000" stroke-width=".7">*</text>
<line x1="1590.6" y1="435.5" x2="1590.6" y2="448.5" stroke="#000" stroke-width="3.2"/>
<text font-size="21" text-anchor="end" stroke="#000" stroke-width=".3" transform="translate(1602.6 465) rotate(-45)">Cdc45</text>
<rect x="1645" y="274.9" width="20.8" height="160.6" fill="#0080ff" stroke="#000" stroke-width="2.8"/>
<path d="M1655.4 266.2V280.8M1649.4 266.2h12M1649.4 280.8h12" stroke="#000" stroke-width="1.7" fill="none"/>
<circle cx="1649.4" cy="256.2" r="4.6" fill="#0080ff" stroke="#000" stroke-width="1.5"/>
<circle cx="1661.4" cy="265.4" r="4.6" fill="#0080ff" stroke="#000" stroke-width="1.5"/>
<circle cx="1650.4" cy="283.2" r="4.6" fill="#0080ff" stroke="#000" stroke-width="1.5"/>
<circle cx="1661.4" cy="286.5" r="4.6" fill="#0080ff" stroke="#000" stroke-width="1.5"/>
<rect x="1671.5" y="377.8" width="20.8" height="57.7" fill="#ff0000" stroke="#000" stroke-width="2.8"/>
<path d="M1682 348V404.7M1676 348h12M1676 404.7h12" stroke="#000" stroke-width="1.7" fill="none"/>
<rect x="1677" y="286.3" width="10" height="10" fill="#ff0000" stroke="#000" stroke-width="1.3"/>
<rect x="1672" y="392.3" width="10" height="10" fill="#ff0000" stroke="#000" stroke-width="1.3"/>
<rect x="1677" y="399.1" width="10" height="10" fill="#ff0000" stroke="#000" stroke-width="1.3"/>
<rect x="1682.5" y="405.4" width="10" height="10" fill="#ff0000" stroke="#000" stroke-width="1.3"/>
<path d="M1657.2 210V193.6H1685V210" stroke="#000" stroke-width="2.8" fill="none" stroke-linecap="butt"/>
<text x="1671.2" y="190.5" font-size="38" text-anchor="middle" stroke="#000" stroke-width=".7">*</text>
<line x1="1668.7" y1="435.5" x2="1668.7" y2="448.5" stroke="#000" stroke-width="3.2"/>
<text font-size="21" text-anchor="end" stroke="#000" stroke-width=".3" transform="translate(1680.7 465) rotate(-45)">Aurkb</text>
<rect x="1723" y="274.9" width="20.8" height="160.6" fill="#0080ff" stroke="#000" stroke-width="2.8"/>
<path d="M1733.4 255.7V291.3M1727.4 255.7h12M1727.4 291.3h12" stroke="#000" stroke-width="1.7" fill="none"/>
<circle cx="1733.4" cy="228.5" r="4.6" fill="#0080ff" stroke="#000" stroke-width="1.5"/>
<circle cx="1733.4" cy="263" r="4.6" fill="#0080ff" stroke="#000" stroke-width="1.5"/>
<circle cx="1728.4" cy="296.2" r="4.6" fill="#0080ff" stroke="#000" stroke-width="1.5"/>
<circle cx="1739.4" cy="304.8" r="4.6" fill="#0080ff" stroke="#000" stroke-width="1.5"/>
<rect x="1749.6" y="376.1" width="20.8" height="59.4" fill="#ff0000" stroke="#000" stroke-width="2.8"/>
<path d="M1760 351.3V398.2M1754 351.3h12M1754 398.2h12" stroke="#000" stroke-width="1.7" fill="none"/>
<rect x="1755" y="305.3" width="10" height="10" fill="#ff0000" stroke="#000" stroke-width="1.3"/>
<rect x="1755" y="364.1" width="10" height="10" fill="#ff0000" stroke="#000" stroke-width="1.3"/>
<rect x="1755" y="393.2" width="10" height="10" fill="#ff0000" stroke="#000" stroke-width="1.3"/>
<rect x="1755" y="413.3" width="10" height="10" fill="#ff0000" stroke="#000" stroke-width="1.3"/>
<path d="M1737 210V193.6H1764.8V210" stroke="#000" stroke-width="2.8" fill="none" stroke-linecap="butt"/>
<text x="1751" y="190.5" font-size="38" text-anchor="middle" stroke="#000" stroke-width=".7">*</text>
<line x1="1746.7" y1="435.5" x2="1746.7" y2="448.5" stroke="#000" stroke-width="3.2"/>
<text font-size="21" text-anchor="end" stroke="#000" stroke-width=".3" transform="translate(1758.7 465) rotate(-45)">Ankrd1</text>
<line x1="1240.9" y1="109.9" x2="1240.9" y2="437.1" stroke="#000" stroke-width="3.2"/>
<line x1="1227.9" y1="435.5" x2="1786" y2="435.5" stroke="#000" stroke-width="3.2"/>
<line x1="1227.9" y1="435.5" x2="1240.9" y2="435.5" stroke="#000" stroke-width="3.2"/>
<text x="1219" y="442.5" font-size="19.8" text-anchor="end" stroke="#000" stroke-width=".3">0.0</text>
<line x1="1227.9" y1="354.5" x2="1240.9" y2="354.5" stroke="#000" stroke-width="3.2"/>
<text x="1219" y="361.5" font-size="19.8" text-anchor="end" stroke="#000" stroke-width=".3">0.5</text>
<line x1="1227.9" y1="273.5" x2="1240.9" y2="273.5" stroke="#000" stroke-width="3.2"/>
<text x="1219" y="280.5" font-size="19.8" text-anchor="end" stroke="#000" stroke-width=".3">1.0</text>
<line x1="1227.9" y1="192.5" x2="1240.9" y2="192.5" stroke="#000" stroke-width="3.2"/>
<text x="1219" y="199.5" font-size="19.8" text-anchor="end" stroke="#000" stroke-width=".3">1.5</text>
<line x1="1227.9" y1="111.5" x2="1240.9" y2="111.5" stroke="#000" stroke-width="3.2"/>
<text x="1219" y="118.5" font-size="19.8" text-anchor="end" stroke="#000" stroke-width=".3">2.0</text>
<text font-size="20.7" text-anchor="middle" stroke="#000" stroke-width=".3" transform="translate(1178.5 274) rotate(-90)">Relative expression</text>
<circle cx="1633.2" cy="115.6" r="4.6" fill="#0080ff" stroke="#000" stroke-width="1.5"/>
<text x="1648.2" y="121.2" font-size="16" stroke="#000" stroke-width=".3">WT</text>
<rect x="1628.2" y="137.2" width="10" height="10" fill="#ff0000" stroke="#000" stroke-width="1.3"/>
<text x="1648.2" y="147.8" font-size="16" stroke="#000" stroke-width=".3">Xinβ-KO</text>
</g>
<g id="pe">
<text x="1135" y="605.5" font-size="42" stroke="#000" stroke-width=".7">e</text>
<rect x="1229.3" y="975.7" width="20.6" height="18" fill="#0080ff" stroke="#000" stroke-width="2.8"/>
<path d="M1239.6 969.2V979.4M1233.6 969.2h12M1233.6 979.4h12" stroke="#000" stroke-width="1.7" fill="none"/>
<circle cx="1232.6" cy="961.6" r="4.7" fill="#0080ff" stroke="#000" stroke-width="1.5"/>
<circle cx="1245.1" cy="969.6" r="4.7" fill="#0080ff" stroke="#000" stroke-width="1.5"/>
<circle cx="1234.1" cy="978.6" r="4.7" fill="#0080ff" stroke="#000" stroke-width="1.5"/>
<circle cx="1245.1" cy="985.3" r="4.7" fill="#0080ff" stroke="#000" stroke-width="1.5"/>
<rect x="1255.7" y="919.3" width="20.6" height="74.4" fill="#ff0000" stroke="#000" stroke-width="2.8"/>
<path d="M1266 899.1V936.7M1260 899.1h12M1260 936.7h12" stroke="#000" stroke-width="1.7" fill="none"/>
<rect x="1260.9" y="858.3" width="10.2" height="10.2" fill="#ff0000" stroke="#000" stroke-width="1.3"/>
<rect x="1255.4" y="924.7" width="10.2" height="10.2" fill="#ff0000" stroke="#000" stroke-width="1.3"/>
<rect x="1263.9" y="921.2" width="10.2" height="10.2" fill="#ff0000" stroke="#000" stroke-width="1.3"/>
<rect x="1260.9" y="930.6" width="10.2" height="10.2" fill="#ff0000" stroke="#000" stroke-width="1.3"/>
<rect x="1265.9" y="932.6" width="10.2" height="10.2" fill="#ff0000" stroke="#000" stroke-width="1.3"/>
<path d="M1240 766.5V750.4H1267.6V766.5" stroke="#000" stroke-width="2.8" fill="none" stroke-linecap="butt"/>
<text x="1253.1" y="746.5" font-size="38" text-anchor="middle" stroke="#000" stroke-width=".7">*</text>
<line x1="1252.3" y1="993.7" x2="1252.3" y2="1006.7" stroke="#000" stroke-width="3.2"/>
<text font-size="21.3" text-anchor="end" stroke="#000" stroke-width=".3" transform="translate(1263.8 1024.2) rotate(-45)">IL6</text>
<rect x="1307.8" y="975.7" width="20.6" height="18" fill="#0080ff" stroke="#000" stroke-width="2.8"/>
<path d="M1318 965.7V982.9M1312 965.7h12M1312 982.9h12" stroke="#000" stroke-width="1.7" fill="none"/>
<circle cx="1318" cy="946.5" r="4.7" fill="#0080ff" stroke="#000" stroke-width="1.5"/>
<circle cx="1312.5" cy="979.4" r="4.7" fill="#0080ff" stroke="#000" stroke-width="1.5"/>
<circle cx="1323" cy="979.4" r="4.7" fill="#0080ff" stroke="#000" stroke-width="1.5"/>
<circle cx="1318" cy="986.1" r="4.7" fill="#0080ff" stroke="#000" stroke-width="1.5"/>
<rect x="1334.2" y="890.7" width="20.6" height="103" fill="#ff0000" stroke="#000" stroke-width="2.8"/>
<path d="M1344.5 863.4V915.2M1338.5 863.4h12M1338.5 915.2h12" stroke="#000" stroke-width="1.7" fill="none"/>
<rect x="1339.4" y="822.5" width="10.2" height="10.2" fill="#ff0000" stroke="#000" stroke-width="1.3"/>
<rect x="1339.4" y="858.3" width="10.2" height="10.2" fill="#ff0000" stroke="#000" stroke-width="1.3"/>
<rect x="1339.4" y="897.7" width="10.2" height="10.2" fill="#ff0000" stroke="#000" stroke-width="1.3"/>
<rect x="1339.4" y="953.7" width="10.2" height="10.2" fill="#ff0000" stroke="#000" stroke-width="1.3"/>
<path d="M1318.5 766.5V750.4H1346V766.5" stroke="#000" stroke-width="2.8" fill="none" stroke-linecap="butt"/>
<text x="1331.5" y="746.5" font-size="38" text-anchor="middle" stroke="#000" stroke-width=".7">*</text>
<line x1="1330.8" y1="993.7" x2="1330.8" y2="1006.7" stroke="#000" stroke-width="3.2"/>
<text font-size="21.3" text-anchor="end" stroke="#000" stroke-width=".3" transform="translate(1342.2 1024.2) rotate(-45)">IRF7</text>
<rect x="1386.2" y="975.7" width="20.6" height="18" fill="#0080ff" stroke="#000" stroke-width="2.8"/>
<path d="M1396.5 971.8V976.7M1390.5 971.8h12M1390.5 976.7h12" stroke="#000" stroke-width="1.7" fill="none"/>
<circle cx="1390.5" cy="968.4" r="4.7" fill="#0080ff" stroke="#000" stroke-width="1.5"/>
<circle cx="1402" cy="970.2" r="4.7" fill="#0080ff" stroke="#000" stroke-width="1.5"/>
<circle cx="1392.5" cy="976.1" r="4.7" fill="#0080ff" stroke="#000" stroke-width="1.5"/>
<circle cx="1396.5" cy="986.1" r="4.7" fill="#0080ff" stroke="#000" stroke-width="1.5"/>
<rect x="1412.6" y="944.2" width="20.6" height="49.5" fill="#ff0000" stroke="#000" stroke-width="2.8"/>
<path d="M1422.9 929.3V956.3M1416.9 929.3h12M1416.9 956.3h12" stroke="#000" stroke-width="1.7" fill="none"/>
<rect x="1417.8" y="906.9" width="10.2" height="10.2" fill="#ff0000" stroke="#000" stroke-width="1.3"/>
<rect x="1411.8" y="930.6" width="10.2" height="10.2" fill="#ff0000" stroke="#000" stroke-width="1.3"/>
<rect x="1423.3" y="941.4" width="10.2" height="10.2" fill="#ff0000" stroke="#000" stroke-width="1.3"/>
<rect x="1417.8" y="967.1" width="10.2" height="10.2" fill="#ff0000" stroke="#000" stroke-width="1.3"/>
<path d="M1396.9 766.5V750.4H1424.5V766.5" stroke="#000" stroke-width="2.8" fill="none" stroke-linecap="butt"/>
<text x="1410" y="746.5" font-size="38" text-anchor="middle" stroke="#000" stroke-width=".7">*</text>
<line x1="1409.2" y1="993.7" x2="1409.2" y2="1006.7" stroke="#000" stroke-width="3.2"/>
<text font-size="21.3" text-anchor="end" stroke="#000" stroke-width=".3" transform="translate(1420.7 1024.2) rotate(-45)">IRF9</text>
<rect x="1464.7" y="975.7" width="20.6" height="18" fill="#0080ff" stroke="#000" stroke-width="2.8"/>
<path d="M1475 972.7V975.9M1469 972.7h12M1469 975.9h12" stroke="#000" stroke-width="1.7" fill="none"/>
<circle cx="1469" cy="968.4" r="4.7" fill="#0080ff" stroke="#000" stroke-width="1.5"/>
<circle cx="1473" cy="971.4" r="4.7" fill="#0080ff" stroke="#000" stroke-width="1.5"/>
<circle cx="1478" cy="975.5" r="4.7" fill="#0080ff" stroke="#000" stroke-width="1.5"/>
<circle cx="1481" cy="979.4" r="4.7" fill="#0080ff" stroke="#000" stroke-width="1.5"/>
<rect x="1491.1" y="963" width="20.6" height="30.7" fill="#ff0000" stroke="#000" stroke-width="2.8"/>
<path d="M1501.4 958.6V964.7M1495.4 958.6h12M1495.4 964.7h12" stroke="#000" stroke-width="1.7" fill="none"/>
<rect x="1490.3" y="949.8" width="10.2" height="10.2" fill="#ff0000" stroke="#000" stroke-width="1.3"/>
<rect x="1496.3" y="955.9" width="10.2" height="10.2" fill="#ff0000" stroke="#000" stroke-width="1.3"/>
<rect x="1501.3" y="958.8" width="10.2" height="10.2" fill="#ff0000" stroke="#000" stroke-width="1.3"/>
<rect x="1498.3" y="961.2" width="10.2" height="10.2" fill="#ff0000" stroke="#000" stroke-width="1.3"/>
<path d="M1478.4 766.5V750.4H1506V766.5" stroke="#000" stroke-width="2.8" fill="none" stroke-linecap="butt"/>
<text x="1491.5" y="746.5" font-size="38" text-anchor="middle" stroke="#000" stroke-width=".7">*</text>
<line x1="1487.7" y1="993.7" x2="1487.7" y2="1006.7" stroke="#000" stroke-width="3.2"/>
<text font-size="21.3" text-anchor="end" stroke="#000" stroke-width=".3" transform="translate(1499.2 1024.2) rotate(-45)">NFKBia</text>
<rect x="1543.1" y="975.7" width="20.6" height="18" fill="#0080ff" stroke="#000" stroke-width="2.8"/>
<path d="M1553.4 972.7V975.9M1547.4 972.7h12M1547.4 975.9h12" stroke="#000" stroke-width="1.7" fill="none"/>
<circle cx="1547.4" cy="968.4" r="4.7" fill="#0080ff" stroke="#000" stroke-width="1.5"/>
<circle cx="1551.4" cy="972.2" r="4.7" fill="#0080ff" stroke="#000" stroke-width="1.5"/>
<circle cx="1555.9" cy="976.1" r="4.7" fill="#0080ff" stroke="#000" stroke-width="1.5"/>
<circle cx="1558.9" cy="979.4" r="4.7" fill="#0080ff" stroke="#000" stroke-width="1.5"/>
<rect x="1569.5" y="968.1" width="20.6" height="25.6" fill="#ff0000" stroke="#000" stroke-width="2.8"/>
<path d="M1579.8 963.7V969.8M1573.8 963.7h12M1573.8 969.8h12" stroke="#000" stroke-width="1.7" fill="none"/>
<rect x="1569.2" y="953.7" width="10.2" height="10.2" fill="#ff0000" stroke="#000" stroke-width="1.3"/>
<rect x="1573.2" y="962.4" width="10.2" height="10.2" fill="#ff0000" stroke="#000" stroke-width="1.3"/>
<rect x="1577.7" y="963.7" width="10.2" height="10.2" fill="#ff0000" stroke="#000" stroke-width="1.3"/>
<rect x="1580.7" y="966.1" width="10.2" height="10.2" fill="#ff0000" stroke="#000" stroke-width="1.3"/>
<path d="M1555.4 766.5V750.4H1583V766.5" stroke="#000" stroke-width="2.8" fill="none" stroke-linecap="butt"/>
<text x="1568.5" y="746.5" font-size="38" text-anchor="middle" stroke="#000" stroke-width=".7">*</text>
<line x1="1566.1" y1="993.7" x2="1566.1" y2="1006.7" stroke="#000" stroke-width="3.2"/>
<text font-size="21.3" text-anchor="end" stroke="#000" stroke-width=".3" transform="translate(1577.6 1024.2) rotate(-45)">NFKBib</text>
<rect x="1621.5" y="975.7" width="20.6" height="18" fill="#0080ff" stroke="#000" stroke-width="2.8"/>
<path d="M1631.8 973.1V975.5M1625.8 973.1h12M1625.8 975.5h12" stroke="#000" stroke-width="1.7" fill="none"/>
<circle cx="1625.8" cy="969.6" r="4.7" fill="#0080ff" stroke="#000" stroke-width="1.5"/>
<circle cx="1629.8" cy="972.2" r="4.7" fill="#0080ff" stroke="#000" stroke-width="1.5"/>
<circle cx="1634.8" cy="973.5" r="4.7" fill="#0080ff" stroke="#000" stroke-width="1.5"/>
<circle cx="1637.8" cy="979.4" r="4.7" fill="#0080ff" stroke="#000" stroke-width="1.5"/>
<rect x="1648" y="923.2" width="20.6" height="70.5" fill="#ff0000" stroke="#000" stroke-width="2.8"/>
<path d="M1658.2 909.1V934.5M1652.2 909.1h12M1652.2 934.5h12" stroke="#000" stroke-width="1.7" fill="none"/>
<rect x="1653.2" y="884.2" width="10.2" height="10.2" fill="#ff0000" stroke="#000" stroke-width="1.3"/>
<rect x="1647.2" y="912.8" width="10.2" height="10.2" fill="#ff0000" stroke="#000" stroke-width="1.3"/>
<rect x="1658.2" y="922" width="10.2" height="10.2" fill="#ff0000" stroke="#000" stroke-width="1.3"/>
<rect x="1653.2" y="939.8" width="10.2" height="10.2" fill="#ff0000" stroke="#000" stroke-width="1.3"/>
<path d="M1633.8 766.5V750.4H1661.3V766.5" stroke="#000" stroke-width="2.8" fill="none" stroke-linecap="butt"/>
<text x="1646.8" y="746.5" font-size="38" text-anchor="middle" stroke="#000" stroke-width=".7">*</text>
<line x1="1644.5" y1="993.7" x2="1644.5" y2="1006.7" stroke="#000" stroke-width="3.2"/>
<text font-size="21.3" text-anchor="end" stroke="#000" stroke-width=".3" transform="translate(1656 1024.2) rotate(-45)">CCL2</text>
<rect x="1700" y="975.7" width="20.6" height="18" fill="#0080ff" stroke="#000" stroke-width="2.8"/>
<path d="M1710.3 972.9V975.7M1704.3 972.9h12M1704.3 975.7h12" stroke="#000" stroke-width="1.7" fill="none"/>
<circle cx="1704.3" cy="969.6" r="4.7" fill="#0080ff" stroke="#000" stroke-width="1.5"/>
<circle cx="1708.3" cy="971.2" r="4.7" fill="#0080ff" stroke="#000" stroke-width="1.5"/>
<circle cx="1713.3" cy="974.3" r="4.7" fill="#0080ff" stroke="#000" stroke-width="1.5"/>
<circle cx="1716.3" cy="979.8" r="4.7" fill="#0080ff" stroke="#000" stroke-width="1.5"/>
<rect x="1726.4" y="866.4" width="20.6" height="127.3" fill="#ff0000" stroke="#000" stroke-width="2.8"/>
<path d="M1736.7 822.1V907.9M1730.7 822.1h12M1730.7 907.9h12" stroke="#000" stroke-width="1.7" fill="none"/>
<rect x="1731.6" y="735.3" width="10.2" height="10.2" fill="#ff0000" stroke="#000" stroke-width="1.3"/>
<rect x="1731.6" y="879.1" width="10.2" height="10.2" fill="#ff0000" stroke="#000" stroke-width="1.3"/>
<rect x="1731.6" y="894.8" width="10.2" height="10.2" fill="#ff0000" stroke="#000" stroke-width="1.3"/>
<rect x="1731.6" y="924.2" width="10.2" height="10.2" fill="#ff0000" stroke="#000" stroke-width="1.3"/>
<path d="M1713.9 766.5V750.4H1741.5V766.5" stroke="#000" stroke-width="2.8" fill="none" stroke-linecap="butt"/>
<text x="1727" y="746.5" font-size="38" text-anchor="middle" stroke="#000" stroke-width=".7">*</text>
<line x1="1723" y1="993.7" x2="1723" y2="1006.7" stroke="#000" stroke-width="3.2"/>
<text font-size="21.3" text-anchor="end" stroke="#000" stroke-width=".3" transform="translate(1734.5 1024.2) rotate(-45)">CCL7</text>
<line x1="1214.6" y1="665.2" x2="1214.6" y2="995.3" stroke="#000" stroke-width="3.2"/>
<line x1="1201.6" y1="993.7" x2="1761.5" y2="993.7" stroke="#000" stroke-width="3.2"/>
<line x1="1201.6" y1="993.7" x2="1214.6" y2="993.7" stroke="#000" stroke-width="3.2"/>
<text x="1193.5" y="1000.7" font-size="19.8" text-anchor="end" stroke="#000" stroke-width=".3">0</text>
<line x1="1201.6" y1="912" x2="1214.6" y2="912" stroke="#000" stroke-width="3.2"/>
<text x="1193.5" y="919" font-size="19.8" text-anchor="end" stroke="#000" stroke-width=".3">4</text>
<line x1="1201.6" y1="830.3" x2="1214.6" y2="830.3" stroke="#000" stroke-width="3.2"/>
<text x="1193.5" y="837.3" font-size="19.8" text-anchor="end" stroke="#000" stroke-width=".3">8</text>
<line x1="1201.6" y1="748.5" x2="1214.6" y2="748.5" stroke="#000" stroke-width="3.2"/>
<text x="1193.5" y="755.5" font-size="19.8" text-anchor="end" stroke="#000" stroke-width=".3">12</text>
<line x1="1201.6" y1="666.8" x2="1214.6" y2="666.8" stroke="#000" stroke-width="3.2"/>
<text x="1193.5" y="673.8" font-size="19.8" text-anchor="end" stroke="#000" stroke-width=".3">16</text>
<text font-size="20.7" text-anchor="middle" stroke="#000" stroke-width=".3" transform="translate(1159.8 830.5) rotate(-90)">Relative expression</text>
<circle cx="1609.3" cy="672" r="4.7" fill="#0080ff" stroke="#000" stroke-width="1.5"/>
<text x="1622.3" y="677.6" font-size="16" stroke="#000" stroke-width=".3">WT</text>
<rect x="1604.2" y="694.3" width="10.2" height="10.2" fill="#ff0000" stroke="#000" stroke-width="1.3"/>
<text x="1622.3" y="705" font-size="16" stroke="#000" stroke-width=".3">Xinβ-KO</text>
</g>
<g id="pf">
<text x="0" y="1186.5" font-size="42" stroke="#000" stroke-width=".7">f</text>
<text x="269" y="1185" font-size="16.6" text-anchor="middle" stroke="#000" stroke-width=".3">Enrichment plot:</text>
<text x="269" y="1204.9" font-size="16.6" text-anchor="middle" stroke="#000" stroke-width=".3">CORDENONSI_YAP_CONSERVED_SIGNATURE</text>
<path d="M49.7 1217V1405M49.7 1483.6V1609.3M138.8 1217V1405M138.8 1483.6V1609.3M227.8 1217V1405M227.8 1483.6V1609.3M316.8 1217V1405M316.8 1483.6V1609.3M405.9 1217V1405M405.9 1483.6V1609.3M494.9 1217V1405M494.9 1483.6V1609.3M49.7 1219.3H500.2M49.7 1247.4H500.2M49.7 1303.6H500.2M49.7 1331.7H500.2M49.7 1359.9H500.2M49.7 1388H500.2M49.7 1484.9H500.2M49.7 1514.9H500.2M49.7 1544.9H500.2M49.7 1574.9H500.2M49.7 1604.9H500.2" stroke="#b4b4b4" stroke-width="1.3" stroke-dasharray="6 4" fill="none"/>
<path d="M49.7 1544.9L49.7 1484.9L49.9 1484.9L50.1 1484.9L50.4 1484.9L50.8 1488.5L51.3 1493.9L51.8 1498.6L52.5 1504.1L53.3 1508.6L54 1512.4L54.3 1514.1L55.8 1519.5L56.1 1520.6L57.5 1524.2L58.2 1525.6L60.4 1528.7L62.5 1530.6L64.7 1531.9L66.8 1532.9L68.9 1533.6L71.1 1534.1L73.2 1534.6L75.3 1535L77.5 1535.3L79.6 1535.7L81.8 1536L83.9 1536.3L86 1536.5L88.2 1536.8L90.3 1537L92.4 1537.2L94.6 1537.5L96.7 1537.7L98.9 1537.9L101 1538.1L103.1 1538.3L105.3 1538.4L107.4 1538.6L109.5 1538.8L111.7 1538.9L113.8 1539.1L116 1539.2L118.1 1539.3L120.2 1539.5L122.4 1539.6L124.5 1539.7L126.6 1539.9L128.8 1540L130.9 1540.1L133.1 1540.2L135.2 1540.3L137.3 1540.4L139.5 1540.5L141.6 1540.6L143.7 1540.7L145.9 1540.8L148 1540.9L150.1 1541L152.3 1541.1L154.4 1541.2L156.6 1541.3L158.7 1541.4L160.8 1541.5L163 1541.5L165.1 1541.6L167.2 1541.7L169.4 1541.8L171.5 1541.9L173.7 1541.9L175.8 1542L177.9 1542.1L180.1 1542.2L182.2 1542.3L184.3 1542.3L186.5 1542.4L188.6 1542.5L190.8 1542.6L192.9 1542.6L195 1542.7L197.2 1542.8L199.3 1542.8L201.4 1542.9L203.6 1543L205.7 1543.1L207.9 1543.1L210 1543.2L212.1 1543.3L214.3 1543.3L216.4 1543.4L218.5 1543.5L220.7 1543.5L222.8 1543.6L225 1543.7L227.1 1543.7L229.2 1543.8L231.4 1543.9L233.5 1544L235.6 1544L237.8 1544.1L239.9 1544.2L242 1544.2L244.2 1544.3L246.3 1544.4L248.5 1544.4L250.6 1544.5L252.7 1544.6L254.9 1544.6L257 1544.7L259.1 1544.8L261.3 1544.8L263.4 1544.9L265.6 1545L267.7 1545L269.8 1545.1L272 1545.2L274.1 1545.3L276.2 1545.3L278.4 1545.4L280.5 1545.5L282.7 1545.6L284.8 1545.6L286.9 1545.7L289.1 1545.8L291.2 1545.9L293.3 1545.9L295.5 1546L297.6 1546.1L299.8 1546.2L301.9 1546.2L304 1546.3L306.2 1546.4L308.3 1546.5L310.4 1546.5L312.6 1546.6L314.7 1546.7L316.8 1546.8L319 1546.8L321.1 1546.9L323.3 1547L325.4 1547.1L327.5 1547.1L329.7 1547.2L331.8 1547.3L333.9 1547.4L336.1 1547.4L338.2 1547.5L340.4 1547.6L342.5 1547.7L344.6 1547.7L346.8 1547.8L348.9 1547.9L351 1548L353.2 1548L355.3 1548.1L357.5 1548.2L359.6 1548.3L361.7 1548.4L363.9 1548.4L366 1548.5L368.1 1548.6L370.3 1548.7L372.4 1548.8L374.6 1548.8L376.7 1548.9L378.8 1549L381 1549.1L383.1 1549.2L385.2 1549.3L387.4 1549.3L389.5 1549.4L391.7 1549.5L393.8 1549.6L395.9 1549.7L398.1 1549.8L400.2 1549.9L402.3 1550L404.5 1550.1L406.6 1550.2L408.7 1550.3L410.9 1550.4L413 1550.5L415.2 1550.6L417.3 1550.8L419.4 1550.9L421.6 1551L423.7 1551.1L425.8 1551.3L428 1551.4L430.1 1551.6L432.3 1551.7L434.4 1551.9L436.5 1552.1L438.7 1552.2L440.8 1552.4L442.9 1552.6L445.1 1552.8L447.2 1553.1L449.4 1553.3L451.5 1553.6L453.6 1553.8L455.8 1554.1L457.9 1554.5L460 1554.9L462.2 1555.3L464.3 1556L466.5 1556.9L468.6 1558.2L470.7 1560.6L471.4 1561.7L472.9 1564.7L473.2 1565.7L474.6 1570.7L475 1572.3L475.7 1576.1L476.4 1580.8L477.1 1586.7L477.7 1592L478.2 1598.2L478.6 1602.9L478.9 1604.9L479.1 1604.9L479.3 1604.9L479.3 1544.9Z" fill="#c2c2c2"/>
<line x1="263.2" y1="1483.6" x2="263.2" y2="1609.3" stroke="#555" stroke-width="1.6" stroke-dasharray="11 5"/>
<text x="263.2" y="1549.6" font-size="9.2" text-anchor="middle" font-weight="normal">Zero cross at 5993</text>
<line x1="49.7" y1="1275.5" x2="500.2" y2="1275.5" stroke="#333" stroke-width="1.5"/>
<rect x="49.7" y="1467.8" width="4.5" height="15.8" fill="#e83030"/>
<rect x="53.9" y="1467.8" width="28.1" height="15.8" fill="#f64a4a"/>
<rect x="81.7" y="1467.8" width="42.8" height="15.8" fill="#fa5858"/>
<rect x="124.2" y="1467.8" width="39.5" height="15.8" fill="#f8707c"/>
<rect x="163.5" y="1467.8" width="50" height="15.8" fill="#fa8e8e"/>
<rect x="213.1" y="1467.8" width="50.3" height="15.8" fill="#f8b8e2"/>
<rect x="263.2" y="1467.8" width="55.9" height="15.8" fill="#d4d4fa"/>
<rect x="318.7" y="1467.8" width="18.3" height="15.8" fill="#c4bcfa"/>
<rect x="336.7" y="1467.8" width="28.1" height="15.8" fill="#cbc6fb"/>
<rect x="364.5" y="1467.8" width="36.3" height="15.8" fill="#8a8af8"/>
<rect x="400.5" y="1467.8" width="24.8" height="15.8" fill="#6a5ce8"/>
<rect x="425" y="1467.8" width="39.5" height="15.8" fill="#5a48e0"/>
<rect x="464.2" y="1467.8" width="15" height="15.8" fill="#2a00be"/>
<path d="M50.7 1405V1467.8M54.6 1405V1467.8M60.5 1405V1467.8M62.1 1405V1467.8M63.1 1405V1467.8M73.6 1405V1467.8M77.5 1405V1467.8M78.8 1405V1467.8M94.8 1405V1467.8M101.3 1405V1467.8M103.3 1405V1467.8M104.6 1405V1467.8M112.1 1405V1467.8M113.8 1405V1467.8M157.9 1405V1467.8M204.6 1405V1467.8M213.5 1405V1467.8M230.5 1405V1467.8M245.2 1405V1467.8M249.1 1405V1467.8M252.7 1405V1467.8M282.8 1405V1467.8M284.4 1405V1467.8M285.7 1405V1467.8M287 1405V1467.8M291.9 1405V1467.8M337 1405V1467.8M366.1 1405V1467.8M370.1 1405V1467.8M375 1405V1467.8M379.2 1405V1467.8M397.2 1405V1467.8M398.2 1405V1467.8M399.5 1405V1467.8M421.7 1405V1467.8M426 1405V1467.8M430.9 1405V1467.8M432.5 1405V1467.8M433.5 1405V1467.8M438.7 1405V1467.8M440.3 1405V1467.8M441.6 1405V1467.8M448.5 1405V1467.8M450.5 1405V1467.8M452.1 1405V1467.8M453.4 1405V1467.8M454.7 1405V1467.8M456 1405V1467.8M457.3 1405V1467.8M458.6 1405V1467.8M460 1405V1467.8M461.6 1405V1467.8M463.2 1405V1467.8M472.4 1405V1467.8" stroke="#000" stroke-width="1.45" fill="none"/>
<path d="M50.7 1467.8V1483.6M54.6 1467.8V1483.6M60.5 1467.8V1483.6M62.1 1467.8V1483.6M63.1 1467.8V1483.6M73.6 1467.8V1483.6M77.5 1467.8V1483.6M78.8 1467.8V1483.6M94.8 1467.8V1483.6M101.3 1467.8V1483.6M103.3 1467.8V1483.6M104.6 1467.8V1483.6M112.1 1467.8V1483.6M113.8 1467.8V1483.6M157.9 1467.8V1483.6M204.6 1467.8V1483.6M213.5 1467.8V1483.6M230.5 1467.8V1483.6M245.2 1467.8V1483.6M249.1 1467.8V1483.6M252.7 1467.8V1483.6M282.8 1467.8V1483.6M284.4 1467.8V1483.6M285.7 1467.8V1483.6M287 1467.8V1483.6M291.9 1467.8V1483.6M337 1467.8V1483.6M366.1 1467.8V1483.6M370.1 1467.8V1483.6M375 1467.8V1483.6M379.2 1467.8V1483.6M397.2 1467.8V1483.6M398.2 1467.8V1483.6M399.5 1467.8V1483.6M421.7 1467.8V1483.6M426 1467.8V1483.6M430.9 1467.8V1483.6M432.5 1467.8V1483.6M433.5 1467.8V1483.6M438.7 1467.8V1483.6M440.3 1467.8V1483.6M441.6 1467.8V1483.6M448.5 1467.8V1483.6M450.5 1467.8V1483.6M452.1 1467.8V1483.6M453.4 1467.8V1483.6M454.7 1467.8V1483.6M456 1467.8V1483.6M457.3 1467.8V1483.6M458.6 1467.8V1483.6M460 1467.8V1483.6M461.6 1467.8V1483.6M463.2 1467.8V1483.6M472.4 1467.8V1483.6" stroke="#000" stroke-opacity=".45" stroke-width="1" fill="none"/>
<rect x="49.7" y="1217" width="450.5" height="392.3" fill="none" stroke="#a8a8a8" stroke-width="1.2"/>
<line x1="49.7" y1="1405" x2="500.2" y2="1405" stroke="#888" stroke-width="1.4"/>
<line x1="49.7" y1="1467.8" x2="500.2" y2="1467.8" stroke="#888" stroke-width="1.2"/>
<line x1="49.7" y1="1483.6" x2="500.2" y2="1483.6" stroke="#999" stroke-width="1.2"/>
<defs><clipPath id="esclip"><rect x="49.7" y="1214" width="450.5" height="191"/></clipPath></defs>
<path d="M49.7 1275.5 L51.7 1278.1 L52.3 1274.2 L53 1262.8 L54.9 1264.4 L55.6 1249.7 L58.8 1254 L60.8 1250.7 L62.8 1237.6 L65.4 1242.2 L69.3 1244.1 L72.6 1247.4 L75.8 1244.8 L77.8 1235.6 L79.8 1225.2 L83.4 1228.5 L89.9 1232.4 L94.8 1235.6 L98.1 1231.7 L101.3 1236.3 L104.6 1226.5 L108.5 1228.5 L111.8 1230.4 L114.4 1223.9 L119.3 1227.1 L156.9 1252 L158.9 1254 L161.8 1254 L203.3 1281.1 L205.3 1282.7 L212.5 1285.7 L215.8 1287.6 L281.1 1328.2 L287.7 1330.8 L294.2 1335 L336.7 1363.1 L340 1364.1 L366.1 1379.8 L371 1380.5 L375.9 1381.4 L379.2 1380.1 L384.1 1382.8 L396.2 1391.9 L400.1 1382.8 L405.4 1385.4 L421.1 1395.8 L425 1392.6 L428.2 1393.9 L432.2 1391.3 L433.5 1375.6 L435.4 1372.9 L439.4 1374.3 L441.3 1359.2 L443 1350.7 L447.2 1355.3 L449.8 1353.3 L452.4 1338 L454.4 1329.1 L456.4 1320 L458.3 1310.2 L460.3 1301 L461.9 1288.9 L463.6 1278.1 L465.5 1277.5 L468.1 1280.8 L470.7 1283.4 L472.4 1272.3 L475.6 1273.6 L479.9 1275.9" stroke="#00ff00" stroke-width="8.2" fill="none" stroke-linejoin="round" stroke-linecap="round" clip-path="url(#esclip)"/>
<text x="43" y="1223.7" font-size="12.2" text-anchor="end" font-weight="normal">0.2</text>
<text x="43" y="1251.8" font-size="12.2" text-anchor="end" font-weight="normal">0.1</text>
<text x="43" y="1279.9" font-size="12.2" text-anchor="end" font-weight="normal">0.0</text>
<text x="43" y="1308" font-size="12.2" text-anchor="end" font-weight="normal">−0.1</text>
<text x="43" y="1336.1" font-size="12.2" text-anchor="end" font-weight="normal">−0.2</text>
<text x="43" y="1364.3" font-size="12.2" text-anchor="end" font-weight="normal">−0.3</text>
<text x="43" y="1392.4" font-size="12.2" text-anchor="end" font-weight="normal">−0.4</text>
<text x="43" y="1489.3" font-size="12.2" text-anchor="end" font-weight="normal">5.0</text>
<text x="43" y="1519.3" font-size="12.2" text-anchor="end" font-weight="normal">2.5</text>
<text x="43" y="1549.3" font-size="12.2" text-anchor="end" font-weight="normal">0.0</text>
<text x="43" y="1579.3" font-size="12.2" text-anchor="end" font-weight="normal">−2.5</text>
<text x="43" y="1609.3" font-size="12.2" text-anchor="end" font-weight="normal">−5.0</text>
<text x="49.7" y="1625.8" font-size="12.2" text-anchor="middle" font-weight="normal">0</text>
<text x="138.8" y="1625.8" font-size="12.2" text-anchor="middle" font-weight="normal">2500</text>
<text x="227.8" y="1625.8" font-size="12.2" text-anchor="middle" font-weight="normal">5000</text>
<text x="316.8" y="1625.8" font-size="12.2" text-anchor="middle" font-weight="normal">7500</text>
<text x="405.9" y="1625.8" font-size="12.2" text-anchor="middle" font-weight="normal">10,000</text>
<text x="494.9" y="1625.8" font-size="12.2" text-anchor="middle" font-weight="normal">12,500</text>
<text x="261.5" y="1644.7" font-size="12.4" text-anchor="middle" font-weight="normal">Rank in Ordered Dataset</text>
<text font-size="12.3" text-anchor="middle" font-weight="normal" transform="translate(10.6 1303.8) rotate(-90)">Enrichment score (ES)</text>
<text font-size="12.3" text-anchor="middle" font-weight="normal" transform="translate(10.6 1508) rotate(-90)">Ranked list metric (Signal2Noise)</text>
<text x="61.1" y="1323.4" font-size="16.5" font-weight="normal">NES:−1.46</text>
<text x="61.1" y="1346.9" font-size="16.5" font-weight="normal">NOM <tspan font-style="italic">p</tspan>-val:0.035</text>
<text x="61.1" y="1370.2" font-size="16.5" font-weight="normal">FDR <tspan font-style="italic">q</tspan>-val:0.035</text>
<text x="55.6" y="1499.9" font-size="12.4" font-weight="normal" fill="#f01010">‘Xirp2_KO’ (positively correlated)</text>
<text x="275.6" y="1605.2" font-size="15.4" font-weight="normal" fill="#1010f0">'WT' (negatively correlated)</text>
<rect x="78.6" y="1655.2" width="344" height="21.8" fill="#fff" stroke="#000" stroke-width="1.2"/>
<line x1="82.5" y1="1666" x2="97" y2="1666" stroke="#55ee55" stroke-width="1"/>
<text x="100.3" y="1670" font-size="12.4" font-weight="normal">Enrichment profile</text>
<line x1="208" y1="1666" x2="221.5" y2="1666" stroke="#333" stroke-width="1"/>
<text x="225.5" y="1670" font-size="12.4" font-weight="normal">Hits</text>
<line x1="254" y1="1662" x2="268" y2="1662" stroke="#aaa" stroke-width="1.6"/>
<line x1="278" y1="1666" x2="291.5" y2="1666" stroke="#ccc" stroke-width="1"/>
<text x="295.2" y="1670" font-size="12.4" font-weight="normal">Ranking metric scores</text>
</g>
<g id="pg">
<text x="560" y="1185.5" font-size="42" stroke="#000" stroke-width=".7">g</text>
<rect x="654.9" y="1401.7" width="17.6" height="143.7" fill="#0080ff" stroke="#000" stroke-width="2.6"/>
<path d="M663.7 1394.6V1406.2M658.5 1394.6h10.4M658.5 1406.2h10.4" stroke="#000" stroke-width="1.7" fill="none"/>
<circle cx="658.2" cy="1393.2" r="4.3" fill="#0080ff" stroke="#000" stroke-width="1.5"/>
<circle cx="669.7" cy="1396.1" r="4.3" fill="#0080ff" stroke="#000" stroke-width="1.5"/>
<circle cx="658.2" cy="1400.4" r="4.3" fill="#0080ff" stroke="#000" stroke-width="1.5"/>
<circle cx="668.7" cy="1411.3" r="4.3" fill="#0080ff" stroke="#000" stroke-width="1.5"/>
<rect x="678.7" y="1447.8" width="17.6" height="97.6" fill="#ff0000" stroke="#000" stroke-width="2.6"/>
<path d="M687.5 1433.8V1459.3M682.3 1433.8h10.4M682.3 1459.3h10.4" stroke="#000" stroke-width="1.7" fill="none"/>
<rect x="677.3" y="1421.4" width="9.4" height="9.4" fill="#ff0000" stroke="#000" stroke-width="1.3"/>
<rect x="688.3" y="1423.1" width="9.4" height="9.4" fill="#ff0000" stroke="#000" stroke-width="1.3"/>
<rect x="682.8" y="1447.2" width="9.4" height="9.4" fill="#ff0000" stroke="#000" stroke-width="1.3"/>
<rect x="682.8" y="1472.1" width="9.4" height="9.4" fill="#ff0000" stroke="#000" stroke-width="1.3"/>
<path d="M663.5 1343.5V1330.3H688.9V1343.5" stroke="#000" stroke-width="2.6" fill="none" stroke-linecap="butt"/>
<text x="675.6" y="1326" font-size="35" text-anchor="middle" stroke="#000" stroke-width=".7">*</text>
<line x1="674.8" y1="1545.4" x2="674.8" y2="1557.4" stroke="#000" stroke-width="3"/>
<text font-size="21.3" text-anchor="end" stroke="#000" stroke-width=".3" transform="translate(685.3 1571.9) rotate(-45)">Axl</text>
<rect x="725.3" y="1401.7" width="17.6" height="143.7" fill="#0080ff" stroke="#000" stroke-width="2.6"/>
<path d="M734.1 1389.5V1411.3M728.9 1389.5h10.4M728.9 1411.3h10.4" stroke="#000" stroke-width="1.7" fill="none"/>
<circle cx="728.6" cy="1383" r="4.3" fill="#0080ff" stroke="#000" stroke-width="1.5"/>
<circle cx="740.1" cy="1384.5" r="4.3" fill="#0080ff" stroke="#000" stroke-width="1.5"/>
<circle cx="734.1" cy="1407.7" r="4.3" fill="#0080ff" stroke="#000" stroke-width="1.5"/>
<circle cx="734.1" cy="1425.6" r="4.3" fill="#0080ff" stroke="#000" stroke-width="1.5"/>
<rect x="749.1" y="1469.1" width="17.6" height="76.3" fill="#ff0000" stroke="#000" stroke-width="2.6"/>
<path d="M757.9 1451V1484.6M752.7 1451h10.4M752.7 1484.6h10.4" stroke="#000" stroke-width="1.7" fill="none"/>
<rect x="753.2" y="1415" width="9.4" height="9.4" fill="#ff0000" stroke="#000" stroke-width="1.3"/>
<rect x="753.2" y="1471.2" width="9.4" height="9.4" fill="#ff0000" stroke="#000" stroke-width="1.3"/>
<rect x="747.7" y="1475.7" width="9.4" height="9.4" fill="#ff0000" stroke="#000" stroke-width="1.3"/>
<rect x="758.7" y="1487" width="9.4" height="9.4" fill="#ff0000" stroke="#000" stroke-width="1.3"/>
<path d="M733.9 1343.5V1330.3H759.3V1343.5" stroke="#000" stroke-width="2.6" fill="none" stroke-linecap="butt"/>
<text x="746" y="1326" font-size="35" text-anchor="middle" stroke="#000" stroke-width=".7">*</text>
<line x1="745.2" y1="1545.4" x2="745.2" y2="1557.4" stroke="#000" stroke-width="3"/>
<text font-size="21.3" text-anchor="end" stroke="#000" stroke-width=".3" transform="translate(755.7 1571.9) rotate(-45)">Cdkn2c</text>
<rect x="795.6" y="1401.7" width="17.6" height="143.7" fill="#0080ff" stroke="#000" stroke-width="2.6"/>
<path d="M804.4 1386.6V1414.2M799.2 1386.6h10.4M799.2 1414.2h10.4" stroke="#000" stroke-width="1.7" fill="none"/>
<circle cx="804.4" cy="1360.2" r="4.3" fill="#0080ff" stroke="#000" stroke-width="1.5"/>
<circle cx="798.9" cy="1409.1" r="4.3" fill="#0080ff" stroke="#000" stroke-width="1.5"/>
<circle cx="804.4" cy="1413.5" r="4.3" fill="#0080ff" stroke="#000" stroke-width="1.5"/>
<circle cx="809.4" cy="1421.1" r="4.3" fill="#0080ff" stroke="#000" stroke-width="1.5"/>
<rect x="819.4" y="1457.7" width="17.6" height="87.7" fill="#ff0000" stroke="#000" stroke-width="2.6"/>
<path d="M828.2 1445.5V1467.2M823 1445.5h10.4M823 1467.2h10.4" stroke="#000" stroke-width="1.7" fill="none"/>
<rect x="823.5" y="1423.1" width="9.4" height="9.4" fill="#ff0000" stroke="#000" stroke-width="1.3"/>
<rect x="819" y="1454" width="9.4" height="9.4" fill="#ff0000" stroke="#000" stroke-width="1.3"/>
<rect x="828" y="1458.5" width="9.4" height="9.4" fill="#ff0000" stroke="#000" stroke-width="1.3"/>
<rect x="828" y="1465.3" width="9.4" height="9.4" fill="#ff0000" stroke="#000" stroke-width="1.3"/>
<path d="M799.7 1343.5V1330.3H825.1V1343.5" stroke="#000" stroke-width="2.6" fill="none" stroke-linecap="butt"/>
<text x="811.8" y="1326" font-size="35" text-anchor="middle" stroke="#000" stroke-width=".7">*</text>
<line x1="815.5" y1="1545.4" x2="815.5" y2="1557.4" stroke="#000" stroke-width="3"/>
<text font-size="21.3" text-anchor="end" stroke="#000" stroke-width=".3" transform="translate(826 1571.9) rotate(-45)">Dab2</text>
<rect x="866" y="1401.7" width="17.6" height="143.7" fill="#0080ff" stroke="#000" stroke-width="2.6"/>
<path d="M874.8 1385.2V1415.6M869.6 1385.2h10.4M869.6 1415.6h10.4" stroke="#000" stroke-width="1.7" fill="none"/>
<circle cx="869.3" cy="1370" r="4.3" fill="#0080ff" stroke="#000" stroke-width="1.5"/>
<circle cx="879.8" cy="1377.9" r="4.3" fill="#0080ff" stroke="#000" stroke-width="1.5"/>
<circle cx="874.8" cy="1416.6" r="4.3" fill="#0080ff" stroke="#000" stroke-width="1.5"/>
<circle cx="874.8" cy="1436.9" r="4.3" fill="#0080ff" stroke="#000" stroke-width="1.5"/>
<rect x="889.8" y="1472.8" width="17.6" height="72.7" fill="#ff0000" stroke="#000" stroke-width="2.6"/>
<path d="M898.6 1458.7V1484.2M893.4 1458.7h10.4M893.4 1484.2h10.4" stroke="#000" stroke-width="1.7" fill="none"/>
<rect x="893.9" y="1433.5" width="9.4" height="9.4" fill="#ff0000" stroke="#000" stroke-width="1.3"/>
<rect x="893.9" y="1459.9" width="9.4" height="9.4" fill="#ff0000" stroke="#000" stroke-width="1.3"/>
<rect x="888.4" y="1484.4" width="9.4" height="9.4" fill="#ff0000" stroke="#000" stroke-width="1.3"/>
<rect x="898.4" y="1484.9" width="9.4" height="9.4" fill="#ff0000" stroke="#000" stroke-width="1.3"/>
<path d="M876 1343.5V1330.3H901.4V1343.5" stroke="#000" stroke-width="2.6" fill="none" stroke-linecap="butt"/>
<text x="888.1" y="1326" font-size="35" text-anchor="middle" stroke="#000" stroke-width=".7">*</text>
<line x1="885.9" y1="1545.4" x2="885.9" y2="1557.4" stroke="#000" stroke-width="3"/>
<text font-size="21.3" text-anchor="end" stroke="#000" stroke-width=".3" transform="translate(896.4 1571.9) rotate(-45)">Fscn1</text>
<rect x="936.4" y="1401.7" width="17.6" height="143.7" fill="#0080ff" stroke="#000" stroke-width="2.6"/>
<path d="M945.2 1394.6V1406.2M940 1394.6h10.4M940 1406.2h10.4" stroke="#000" stroke-width="1.7" fill="none"/>
<circle cx="945.2" cy="1385.2" r="4.3" fill="#0080ff" stroke="#000" stroke-width="1.5"/>
<circle cx="939.7" cy="1400.4" r="4.3" fill="#0080ff" stroke="#000" stroke-width="1.5"/>
<circle cx="950.7" cy="1400.4" r="4.3" fill="#0080ff" stroke="#000" stroke-width="1.5"/>
<circle cx="945.2" cy="1415.6" r="4.3" fill="#0080ff" stroke="#000" stroke-width="1.5"/>
<rect x="960.2" y="1446.4" width="17.6" height="99" fill="#ff0000" stroke="#000" stroke-width="2.6"/>
<path d="M969 1442.2V1448M963.8 1442.2h10.4M963.8 1448h10.4" stroke="#000" stroke-width="1.7" fill="none"/>
<rect x="958.3" y="1430.4" width="9.4" height="9.4" fill="#ff0000" stroke="#000" stroke-width="1.3"/>
<rect x="969.8" y="1441.2" width="9.4" height="9.4" fill="#ff0000" stroke="#000" stroke-width="1.3"/>
<rect x="959.8" y="1445" width="9.4" height="9.4" fill="#ff0000" stroke="#000" stroke-width="1.3"/>
<rect x="968.8" y="1457.6" width="9.4" height="9.4" fill="#ff0000" stroke="#000" stroke-width="1.3"/>
<path d="M944.1 1343.5V1330.3H969.5V1343.5" stroke="#000" stroke-width="2.6" fill="none" stroke-linecap="butt"/>
<text x="956.2" y="1326" font-size="35" text-anchor="middle" stroke="#000" stroke-width=".7">*</text>
<line x1="956.3" y1="1545.4" x2="956.3" y2="1557.4" stroke="#000" stroke-width="3"/>
<text font-size="21.3" text-anchor="end" stroke="#000" stroke-width=".3" transform="translate(966.8 1571.9) rotate(-45)">Hexb</text>
<rect x="1006.8" y="1401.7" width="17.6" height="143.7" fill="#0080ff" stroke="#000" stroke-width="2.6"/>
<path d="M1015.6 1392.4V1408.4M1010.4 1392.4h10.4M1010.4 1408.4h10.4" stroke="#000" stroke-width="1.7" fill="none"/>
<circle cx="1010.1" cy="1387.4" r="4.3" fill="#0080ff" stroke="#000" stroke-width="1.5"/>
<circle cx="1015.6" cy="1395.3" r="4.3" fill="#0080ff" stroke="#000" stroke-width="1.5"/>
<circle cx="1021.6" cy="1396.5" r="4.3" fill="#0080ff" stroke="#000" stroke-width="1.5"/>
<circle cx="1015.6" cy="1422.9" r="4.3" fill="#0080ff" stroke="#000" stroke-width="1.5"/>
<rect x="1030.6" y="1478.3" width="17.6" height="67.1" fill="#ff0000" stroke="#000" stroke-width="2.6"/>
<path d="M1039.4 1471.2V1482.8M1034.2 1471.2h10.4M1034.2 1482.8h10.4" stroke="#000" stroke-width="1.7" fill="none"/>
<rect x="1029.2" y="1462.3" width="9.4" height="9.4" fill="#ff0000" stroke="#000" stroke-width="1.3"/>
<rect x="1039.2" y="1463.1" width="9.4" height="9.4" fill="#ff0000" stroke="#000" stroke-width="1.3"/>
<rect x="1030.2" y="1472.1" width="9.4" height="9.4" fill="#ff0000" stroke="#000" stroke-width="1.3"/>
<rect x="1039.2" y="1486.6" width="9.4" height="9.4" fill="#ff0000" stroke="#000" stroke-width="1.3"/>
<path d="M1014.4 1343.5V1330.3H1039.8V1343.5" stroke="#000" stroke-width="2.6" fill="none" stroke-linecap="butt"/>
<text x="1026.5" y="1326" font-size="35" text-anchor="middle" stroke="#000" stroke-width=".7">*</text>
<line x1="1026.7" y1="1545.4" x2="1026.7" y2="1557.4" stroke="#000" stroke-width="3"/>
<text font-size="21.3" text-anchor="end" stroke="#000" stroke-width=".3" transform="translate(1037.2 1571.9) rotate(-45)">Marcks</text>
<rect x="1077.1" y="1401.7" width="17.6" height="143.7" fill="#0080ff" stroke="#000" stroke-width="2.6"/>
<path d="M1085.9 1382.3V1418.5M1080.7 1382.3h10.4M1080.7 1418.5h10.4" stroke="#000" stroke-width="1.7" fill="none"/>
<circle cx="1085.9" cy="1351.1" r="4.3" fill="#0080ff" stroke="#000" stroke-width="1.5"/>
<circle cx="1085.9" cy="1395.3" r="4.3" fill="#0080ff" stroke="#000" stroke-width="1.5"/>
<circle cx="1085.9" cy="1420.1" r="4.3" fill="#0080ff" stroke="#000" stroke-width="1.5"/>
<circle cx="1085.9" cy="1434.8" r="4.3" fill="#0080ff" stroke="#000" stroke-width="1.5"/>
<rect x="1100.9" y="1483.6" width="17.6" height="61.8" fill="#ff0000" stroke="#000" stroke-width="2.6"/>
<path d="M1109.7 1463.5V1501.2M1104.5 1463.5h10.4M1104.5 1501.2h10.4" stroke="#000" stroke-width="1.7" fill="none"/>
<rect x="1105" y="1425" width="9.4" height="9.4" fill="#ff0000" stroke="#000" stroke-width="1.3"/>
<rect x="1105" y="1478.9" width="9.4" height="9.4" fill="#ff0000" stroke="#000" stroke-width="1.3"/>
<rect x="1105" y="1494" width="9.4" height="9.4" fill="#ff0000" stroke="#000" stroke-width="1.3"/>
<rect x="1105" y="1510.8" width="9.4" height="9.4" fill="#ff0000" stroke="#000" stroke-width="1.3"/>
<path d="M1086.2 1343.5V1330.3H1111.6V1343.5" stroke="#000" stroke-width="2.6" fill="none" stroke-linecap="butt"/>
<text x="1098.3" y="1326" font-size="35" text-anchor="middle" stroke="#000" stroke-width=".7">*</text>
<line x1="1097" y1="1545.4" x2="1097" y2="1557.4" stroke="#000" stroke-width="3"/>
<text font-size="21.3" text-anchor="end" stroke="#000" stroke-width=".3" transform="translate(1107.5 1571.9) rotate(-45)">Stmn1</text>
<rect x="1147.5" y="1401.7" width="17.6" height="143.7" fill="#0080ff" stroke="#000" stroke-width="2.6"/>
<path d="M1156.3 1383.7V1417.1M1151.1 1383.7h10.4M1151.1 1417.1h10.4" stroke="#000" stroke-width="1.7" fill="none"/>
<circle cx="1156.3" cy="1358.8" r="4.3" fill="#0080ff" stroke="#000" stroke-width="1.5"/>
<circle cx="1156.3" cy="1393.9" r="4.3" fill="#0080ff" stroke="#000" stroke-width="1.5"/>
<circle cx="1156.3" cy="1411.1" r="4.3" fill="#0080ff" stroke="#000" stroke-width="1.5"/>
<circle cx="1156.3" cy="1439.3" r="4.3" fill="#0080ff" stroke="#000" stroke-width="1.5"/>
<rect x="1171.3" y="1500" width="17.6" height="45.4" fill="#ff0000" stroke="#000" stroke-width="2.6"/>
<path d="M1180.1 1473.2V1524.2M1174.9 1473.2h10.4M1174.9 1524.2h10.4" stroke="#000" stroke-width="1.7" fill="none"/>
<rect x="1175.4" y="1420.9" width="9.4" height="9.4" fill="#ff0000" stroke="#000" stroke-width="1.3"/>
<rect x="1175.4" y="1506.3" width="9.4" height="9.4" fill="#ff0000" stroke="#000" stroke-width="1.3"/>
<rect x="1170.4" y="1519.8" width="9.4" height="9.4" fill="#ff0000" stroke="#000" stroke-width="1.3"/>
<rect x="1180.9" y="1526.6" width="9.4" height="9.4" fill="#ff0000" stroke="#000" stroke-width="1.3"/>
<path d="M1151.1 1343.5V1330.3H1176.5V1343.5" stroke="#000" stroke-width="2.6" fill="none" stroke-linecap="butt"/>
<text x="1163.2" y="1326" font-size="35" text-anchor="middle" stroke="#000" stroke-width=".7">*</text>
<line x1="1167.4" y1="1545.4" x2="1167.4" y2="1557.4" stroke="#000" stroke-width="3"/>
<text font-size="21.3" text-anchor="end" stroke="#000" stroke-width=".3" transform="translate(1177.9 1571.9) rotate(-45)">Shcbp1</text>
<rect x="1217.9" y="1401.7" width="17.6" height="143.7" fill="#0080ff" stroke="#000" stroke-width="2.6"/>
<path d="M1226.7 1391V1409.8M1221.5 1391h10.4M1221.5 1409.8h10.4" stroke="#000" stroke-width="1.7" fill="none"/>
<circle cx="1220.7" cy="1383" r="4.3" fill="#0080ff" stroke="#000" stroke-width="1.5"/>
<circle cx="1232.2" cy="1384.5" r="4.3" fill="#0080ff" stroke="#000" stroke-width="1.5"/>
<circle cx="1222.2" cy="1411.1" r="4.3" fill="#0080ff" stroke="#000" stroke-width="1.5"/>
<circle cx="1231.2" cy="1422.4" r="4.3" fill="#0080ff" stroke="#000" stroke-width="1.5"/>
<rect x="1241.7" y="1498.6" width="17.6" height="46.8" fill="#ff0000" stroke="#000" stroke-width="2.6"/>
<path d="M1250.5 1468.3V1526.3M1245.3 1468.3h10.4M1245.3 1526.3h10.4" stroke="#000" stroke-width="1.7" fill="none"/>
<rect x="1245.8" y="1407.3" width="9.4" height="9.4" fill="#ff0000" stroke="#000" stroke-width="1.3"/>
<rect x="1245.8" y="1509.4" width="9.4" height="9.4" fill="#ff0000" stroke="#000" stroke-width="1.3"/>
<rect x="1239.8" y="1521.3" width="9.4" height="9.4" fill="#ff0000" stroke="#000" stroke-width="1.3"/>
<rect x="1251.3" y="1528.1" width="9.4" height="9.4" fill="#ff0000" stroke="#000" stroke-width="1.3"/>
<path d="M1223.7 1343.5V1330.3H1249.1V1343.5" stroke="#000" stroke-width="2.6" fill="none" stroke-linecap="butt"/>
<text x="1235.8" y="1326" font-size="35" text-anchor="middle" stroke="#000" stroke-width=".7">*</text>
<line x1="1237.8" y1="1545.4" x2="1237.8" y2="1557.4" stroke="#000" stroke-width="3"/>
<text font-size="21.3" text-anchor="end" stroke="#000" stroke-width=".3" transform="translate(1248.3 1571.9) rotate(-45)">Top2a</text>
<line x1="640.8" y1="1253.9" x2="640.8" y2="1546.9" stroke="#000" stroke-width="3"/>
<line x1="629.8" y1="1545.4" x2="1273.2" y2="1545.4" stroke="#000" stroke-width="3"/>
<line x1="629.8" y1="1545.4" x2="640.8" y2="1545.4" stroke="#000" stroke-width="3"/>
<text x="620.8" y="1552.4" font-size="20" text-anchor="end" stroke="#000" stroke-width=".3">0.0</text>
<line x1="629.8" y1="1472.9" x2="640.8" y2="1472.9" stroke="#000" stroke-width="3"/>
<text x="620.8" y="1479.9" font-size="20" text-anchor="end" stroke="#000" stroke-width=".3">0.5</text>
<line x1="629.8" y1="1400.4" x2="640.8" y2="1400.4" stroke="#000" stroke-width="3"/>
<text x="620.8" y="1407.4" font-size="20" text-anchor="end" stroke="#000" stroke-width=".3">1.0</text>
<line x1="629.8" y1="1327.9" x2="640.8" y2="1327.9" stroke="#000" stroke-width="3"/>
<text x="620.8" y="1334.9" font-size="20" text-anchor="end" stroke="#000" stroke-width=".3">1.5</text>
<line x1="629.8" y1="1255.4" x2="640.8" y2="1255.4" stroke="#000" stroke-width="3"/>
<text x="620.8" y="1262.4" font-size="20" text-anchor="end" stroke="#000" stroke-width=".3">2.0</text>
<text font-size="20.7" text-anchor="middle" stroke="#000" stroke-width=".3" transform="translate(576.3 1400.8) rotate(-90)">Relative expression</text>
<circle cx="1127.9" cy="1262.1" r="4.3" fill="#0080ff" stroke="#000" stroke-width="1.5"/>
<text x="1140.4" y="1267.7" font-size="16" stroke="#000" stroke-width=".3">WT</text>
<rect x="1123.2" y="1281.5" width="9.4" height="9.4" fill="#ff0000" stroke="#000" stroke-width="1.3"/>
<text x="1140.4" y="1291.8" font-size="16" stroke="#000" stroke-width=".3">Xinβ-KO</text>
</g>
<g id="ph">
<text x="1328" y="1186.6" font-size="42" stroke="#000" stroke-width=".7">h</text>
<text x="1419.1" y="1229" font-size="20.6" text-anchor="middle" stroke="#000" stroke-width=".3">P7.5 hearts</text>
<text x="1640.4" y="1228.4" font-size="20.7" text-anchor="middle" stroke="#000" stroke-width=".3">P4 NRVMCs</text>
<text x="1378" y="1259.8" font-size="20.6" text-anchor="middle" stroke="#000" stroke-width=".3">WT</text>
<text x="1470.2" y="1259.8" font-size="20.6" text-anchor="middle" stroke="#000" stroke-width=".3">KO</text>
<text x="1590.9" y="1260.5" font-size="20.6" text-anchor="middle" stroke="#000" stroke-width=".3">Ad-LacZ</text>
<text x="1700.7" y="1260.5" font-size="20.8" text-anchor="middle" stroke="#000" stroke-width=".3">Ad-aYAP</text>
<g transform="translate(1330 1262) scale(0.10896)"><path d="M232 392 C180 372 105 400 100 462 C98 520 150 556 215 570 C300 588 390 600 465 620" fill="none" stroke="#1e1e1e" stroke-width="10" stroke-linecap="round"/><path d="M236 394 C180 370 105 400 101 462 C99 515 145 552 205 567" fill="none" stroke="#1e1e1e" stroke-width="17" stroke-linecap="round"/><path d="M330 430 C370 400 430 385 470 392 L450 440 L380 470 Z" fill="#d8bca4"/><path d="M300 462 L330 452 L392 462 L468 482 L464 494 L400 484 L418 516 L406 524 L372 498 L330 486 Z" fill="#f0c4a0"/><path d="M585 378 L622 380 L618 418 L600 424 L560 434 L556 422 L585 408 Z" fill="#f0c4a0"/><path d="M640 300 L700 296 L760 286 L740 300 L690 318 L650 326 Z" fill="#e6c8b0"/><path d="M222 388 C236 340 262 270 300 226 C340 186 410 168 470 172 C500 174 530 190 562 186 L580 150 L640 150 L652 176 C700 178 740 192 770 220 C790 240 800 252 806 264 C790 284 760 286 730 290 C700 296 660 300 640 310 C628 330 622 350 612 372 C606 392 596 404 580 410 C560 418 545 410 538 398 C510 384 470 388 440 396 C410 410 380 430 350 442 C320 456 280 446 250 426 C234 414 224 402 222 388 Z" fill="#232323"/><path d="M572 128 C566 100 590 82 612 86 C640 90 652 110 644 132 L640 160 L576 160 Z" fill="#232323"/><path d="M566 170 C562 146 580 132 600 134 C626 136 640 156 634 186 C630 208 616 222 600 220 C580 216 568 196 566 170 Z" fill="#d9c0ac"/><circle cx="710" cy="236" r="11" fill="#0a0a0a"/><path d="M770 318 L835 326 M775 330 L820 345" stroke="#ccc" stroke-width="4" fill="none"/><path d="M482 214 C500 204 540 214 552 232 C562 262 552 300 522 330 C500 322 480 300 472 268 C468 244 472 226 482 214 Z" fill="#f03c3a"/><path d="M505 240 C498 262 508 282 520 296" stroke="#d02828" stroke-width="7" fill="none"/></g>
<g transform="translate(1412.8 1264) scale(0.10896)"><path d="M232 392 C180 372 105 400 100 462 C98 520 150 556 215 570 C300 588 390 600 465 620" fill="none" stroke="#1e1e1e" stroke-width="10" stroke-linecap="round"/><path d="M236 394 C180 370 105 400 101 462 C99 515 145 552 205 567" fill="none" stroke="#1e1e1e" stroke-width="17" stroke-linecap="round"/><path d="M330 430 C370 400 430 385 470 392 L450 440 L380 470 Z" fill="#d8bca4"/><path d="M300 462 L330 452 L392 462 L468 482 L464 494 L400 484 L418 516 L406 524 L372 498 L330 486 Z" fill="#f0c4a0"/><path d="M585 378 L622 380 L618 418 L600 424 L560 434 L556 422 L585 408 Z" fill="#f0c4a0"/><path d="M640 300 L700 296 L760 286 L740 300 L690 318 L650 326 Z" fill="#e6c8b0"/><path d="M222 388 C236 340 262 270 300 226 C340 186 410 168 470 172 C500 174 530 190 562 186 L580 150 L640 150 L652 176 C700 178 740 192 770 220 C790 240 800 252 806 264 C790 284 760 286 730 290 C700 296 660 300 640 310 C628 330 622 350 612 372 C606 392 596 404 580 410 C560 418 545 410 538 398 C510 384 470 388 440 396 C410 410 380 430 350 442 C320 456 280 446 250 426 C234 414 224 402 222 388 Z" fill="#232323"/><path d="M572 128 C566 100 590 82 612 86 C640 90 652 110 644 132 L640 160 L576 160 Z" fill="#232323"/><path d="M566 170 C562 146 580 132 600 134 C626 136 640 156 634 186 C630 208 616 222 600 220 C580 216 568 196 566 170 Z" fill="#d9c0ac"/><circle cx="710" cy="236" r="11" fill="#0a0a0a"/><path d="M770 318 L835 326 M775 330 L820 345" stroke="#ccc" stroke-width="4" fill="none"/><path d="M482 214 C500 204 540 214 552 232 C562 262 552 300 522 330 C500 322 480 300 472 268 C468 244 472 226 482 214 Z" fill="#f04a44" transform="translate(0 14)"/><path d="M476 242 L540 332 M540 240 L478 330" stroke="#fff" stroke-width="17" fill="none"/><path d="M472 250 L530 336" stroke="#5a8af0" stroke-width="5" fill="none" opacity=".8"/></g>
<ellipse cx="1591.7" cy="1306.6" rx="38.1" ry="3.4" fill="#ff0000"/><path d="M1552.1 1293.7V1307.8A39.6 3.4 0 0 0 1631.3 1307.8V1293.7" fill="none" stroke="#4472c4" stroke-width="0.9"/><ellipse cx="1591.7" cy="1293.7" rx="39.6" ry="3.4" fill="none" stroke="#4472c4" stroke-width="0.9"/>
<ellipse cx="1688.1" cy="1306.6" rx="38.1" ry="3.4" fill="#00b050"/><path d="M1648.5 1293.7V1307.8A39.6 3.4 0 0 0 1727.7 1307.8V1293.7" fill="none" stroke="#4472c4" stroke-width="0.9"/><ellipse cx="1688.1" cy="1293.7" rx="39.6" ry="3.4" fill="none" stroke="#4472c4" stroke-width="0.9"/>
<line x1="1386.9" y1="1343.1" x2="1386.9" y2="1370.3" stroke="#4472c4" stroke-width="2.7"/><path d="M1386.9 1379.8L1381.1 1368.3L1386.9 1370.8L1392.7 1368.3Z" fill="#4472c4"/>
<line x1="1463.9" y1="1343.1" x2="1463.9" y2="1370.3" stroke="#4472c4" stroke-width="2.7"/><path d="M1463.9 1379.8L1458.1 1368.3L1463.9 1370.8L1469.7 1368.3Z" fill="#4472c4"/>
<line x1="1600.1" y1="1343.1" x2="1600.1" y2="1370.3" stroke="#4472c4" stroke-width="2.7"/><path d="M1600.1 1379.8L1594.3 1368.3L1600.1 1370.8L1605.9 1368.3Z" fill="#4472c4"/>
<line x1="1678.8" y1="1343.1" x2="1678.8" y2="1370.3" stroke="#4472c4" stroke-width="2.7"/><path d="M1678.8 1379.8L1673 1368.3L1678.8 1370.8L1684.6 1368.3Z" fill="#4472c4"/>
<text x="1425.1" y="1406.8" font-size="20.6" text-anchor="middle" stroke="#000" stroke-width=".3">RNA-seq</text>
<text x="1425.1" y="1431.7" font-size="20.6" text-anchor="middle" stroke="#000" stroke-width=".3">analysis</text>
<text x="1635.3" y="1406.8" font-size="20.6" text-anchor="middle" stroke="#000" stroke-width=".3">Microarray</text>
<text x="1635.3" y="1431.7" font-size="20.6" text-anchor="middle" stroke="#000" stroke-width=".3">analysis</text>
<line x1="1327.1" y1="1473.7" x2="1529.3" y2="1473.7" stroke="#4472c4" stroke-width="4"/>
<rect x="1337.5" y="1465.8" width="31.9" height="16.9" fill="#00b050" stroke="#3c68b4" stroke-width="1.1" rx="2.6"/>
<rect x="1375" y="1465.8" width="12.1" height="16.9" fill="#ff00ff" stroke="#3c68b4" stroke-width="1.1" rx="2.6"/>
<rect x="1393.9" y="1465.8" width="53" height="16.9" fill="#00b0f0" stroke="#3c68b4" stroke-width="1.1" rx="2.6"/>
<rect x="1452.6" y="1465.8" width="23.1" height="16.9" fill="#ff0000" stroke="#3c68b4" stroke-width="1.1" rx="2.6"/>
<rect x="1487.3" y="1465.8" width="11" height="16.9" fill="#ed7d31" stroke="#3c68b4" stroke-width="1.1" rx="2.6"/>
<rect x="1503.4" y="1465.8" width="17.5" height="16.9" fill="#ffff00" stroke="#3c68b4" stroke-width="1.1" rx="2.6"/>
<path d="M1356.7 1449.7H1368.5M1400.4 1451.2H1411.7M1460.2 1451.2H1471.8M1344.8 1456H1356.1M1376.4 1456H1389.1M1411.7 1456H1423.8M1430.6 1456H1442.7M1452.6 1456H1465.3M1338.3 1461H1349.6M1375 1461H1387.1M1399.8 1461H1411.7M1423 1461H1435.1M1457.4 1461H1468.9M1485 1461H1496.3M1503.4 1446.4H1514.6M1504.8 1451.2H1518.9M1503.4 1456H1515.2M1503.4 1461H1515.2" stroke="#111" stroke-width="1.9" fill="none"/>
<rect x="1581.1" y="1445.4" width="109.5" height="57.6" fill="#3c3c3c" stroke="#1a1a1a" stroke-width="1"/>
<path d="M1583.8 1448.3h0M1638.6 1448.3h0M1589.3 1454h0M1605.7 1454h0M1627.6 1454h0M1644.1 1454h0M1660.5 1454h0M1682.4 1454h0M1583.8 1459.8h0M1638.6 1459.8h0M1589.3 1477.1h0M1611.2 1477.1h0M1633.1 1477.1h0M1644.1 1477.1h0M1666 1477.1h0M1687.9 1477.1h0M1583.8 1482.8h0M1638.6 1482.8h0M1589.3 1500.1h0M1611.2 1500.1h0M1633.1 1500.1h0M1644.1 1500.1h0M1666 1500.1h0M1687.9 1500.1h0" stroke="#f07a28" stroke-width="4.3" stroke-linecap="round" fill="none"/>
<path d="M1589.3 1448.3h0M1644.1 1448.3h0" stroke="#fbd6bc" stroke-width="4.3" stroke-linecap="round" fill="none"/>
<path d="M1594.8 1448.3h0M1616.7 1448.3h0M1649.5 1448.3h0M1671.4 1448.3h0M1589.3 1459.8h0M1644.1 1459.8h0M1611.2 1465.6h0M1633.1 1465.6h0M1666 1465.6h0M1687.9 1465.6h0M1600.3 1471.3h0M1611.2 1471.3h0M1622.2 1471.3h0M1633.1 1471.3h0M1655 1471.3h0M1666 1471.3h0M1676.9 1471.3h0M1687.9 1471.3h0M1583.8 1477.1h0M1638.6 1477.1h0M1589.3 1482.8h0M1644.1 1482.8h0M1611.2 1488.6h0M1633.1 1488.6h0M1666 1488.6h0M1687.9 1488.6h0M1600.3 1494.4h0M1611.2 1494.4h0M1622.2 1494.4h0M1633.1 1494.4h0M1655 1494.4h0M1666 1494.4h0M1676.9 1494.4h0M1687.9 1494.4h0M1583.8 1500.1h0M1638.6 1500.1h0" stroke="#6aad45" stroke-width="4.3" stroke-linecap="round" fill="none"/>
<path d="M1600.3 1448.3h0M1622.2 1448.3h0M1655 1448.3h0M1676.9 1448.3h0M1611.2 1454h0M1633.1 1454h0M1666 1454h0M1687.9 1454h0M1600.3 1459.8h0M1622.2 1459.8h0M1655 1459.8h0M1676.9 1459.8h0M1589.3 1465.6h0M1644.1 1465.6h0M1594.8 1471.3h0M1616.7 1471.3h0M1649.5 1471.3h0M1671.4 1471.3h0M1605.7 1477.1h0M1627.6 1477.1h0M1660.5 1477.1h0M1682.4 1477.1h0M1600.3 1482.8h0M1622.2 1482.8h0M1655 1482.8h0M1676.9 1482.8h0M1589.3 1488.6h0M1644.1 1488.6h0M1594.8 1494.4h0M1616.7 1494.4h0M1649.5 1494.4h0M1671.4 1494.4h0M1605.7 1500.1h0M1627.6 1500.1h0M1660.5 1500.1h0M1682.4 1500.1h0" stroke="#ffff00" stroke-width="4.3" stroke-linecap="round" fill="none"/>
<path d="M1605.7 1448.3h0M1627.6 1448.3h0M1660.5 1448.3h0M1682.4 1448.3h0M1594.8 1454h0M1616.7 1454h0M1649.5 1454h0M1671.4 1454h0M1594.8 1465.6h0M1605.7 1465.6h0M1616.7 1465.6h0M1627.6 1465.6h0M1649.5 1465.6h0M1660.5 1465.6h0M1671.4 1465.6h0M1682.4 1465.6h0M1600.3 1477.1h0M1622.2 1477.1h0M1655 1477.1h0M1676.9 1477.1h0M1594.8 1488.6h0M1605.7 1488.6h0M1616.7 1488.6h0M1627.6 1488.6h0M1649.5 1488.6h0M1660.5 1488.6h0M1671.4 1488.6h0M1682.4 1488.6h0M1600.3 1500.1h0M1622.2 1500.1h0M1655 1500.1h0M1676.9 1500.1h0" stroke="#ff0a0a" stroke-width="4.3" stroke-linecap="round" fill="none"/>
<path d="M1611.2 1448.3h0M1633.1 1448.3h0M1666 1448.3h0M1687.9 1448.3h0M1583.8 1454h0M1638.6 1454h0M1605.7 1459.8h0M1611.2 1459.8h0M1627.6 1459.8h0M1633.1 1459.8h0M1660.5 1459.8h0M1666 1459.8h0M1682.4 1459.8h0M1687.9 1459.8h0M1583.8 1465.6h0M1600.3 1465.6h0M1622.2 1465.6h0M1638.6 1465.6h0M1655 1465.6h0M1676.9 1465.6h0M1605.7 1482.8h0M1611.2 1482.8h0M1627.6 1482.8h0M1633.1 1482.8h0M1660.5 1482.8h0M1666 1482.8h0M1682.4 1482.8h0M1687.9 1482.8h0M1583.8 1488.6h0M1600.3 1488.6h0M1622.2 1488.6h0M1638.6 1488.6h0M1655 1488.6h0M1676.9 1488.6h0" stroke="#00b050" stroke-width="4.3" stroke-linecap="round" fill="none"/>
<path d="M1600.3 1454h0M1622.2 1454h0M1655 1454h0M1676.9 1454h0" stroke="#d8600e" stroke-width="4.3" stroke-linecap="round" fill="none"/>
<path d="M1594.8 1459.8h0M1616.7 1459.8h0M1649.5 1459.8h0M1671.4 1459.8h0M1583.8 1471.3h0M1589.3 1471.3h0M1605.7 1471.3h0M1627.6 1471.3h0M1638.6 1471.3h0M1644.1 1471.3h0M1660.5 1471.3h0M1682.4 1471.3h0M1594.8 1477.1h0M1616.7 1477.1h0M1649.5 1477.1h0M1671.4 1477.1h0M1594.8 1482.8h0M1616.7 1482.8h0M1649.5 1482.8h0M1671.4 1482.8h0M1583.8 1494.4h0M1589.3 1494.4h0M1605.7 1494.4h0M1627.6 1494.4h0M1638.6 1494.4h0M1644.1 1494.4h0M1660.5 1494.4h0M1682.4 1494.4h0M1594.8 1500.1h0M1616.7 1500.1h0M1649.5 1500.1h0M1671.4 1500.1h0" stroke="#7a7a7a" stroke-width="4.3" stroke-linecap="round" fill="none"/>
<text x="1698.8" y="1476" font-size="15.6" fill="#1f6eb4" textLength="74.5" lengthAdjust="spacingAndGlyphs">GSE33019</text>
<line x1="1432" y1="1513.2" x2="1497.5" y2="1552.6" stroke="#4472c4" stroke-width="2.7"/><path d="M1505.6 1557.5L1492.8 1556.5L1497.9 1552.9L1498.7 1546.6Z" fill="#4472c4"/>
<line x1="1630.3" y1="1514.6" x2="1564.5" y2="1554.8" stroke="#4472c4" stroke-width="2.7"/><path d="M1556.4 1559.8L1563.2 1548.9L1564.1 1555.1L1569.2 1558.7Z" fill="#4472c4"/>
<defs><filter id="sh" x="-10%" y="-20%" width="125%" height="150%"><feGaussianBlur stdDeviation="2.5"/></filter></defs>
<rect x="1410" y="1575.5" width="253" height="74" fill="#777" rx="9" filter="url(#sh)" opacity=".6"/>
<rect x="1406.2" y="1569.8" width="253.6" height="74.4" fill="#6db3fb" rx="9"/>
<rect x="1410.8" y="1574.4" width="244.4" height="65.2" fill="#4472c4" rx="6"/>
<text x="1530.2" y="1614.8" font-size="25" text-anchor="middle" stroke="#fff" stroke-width=".3" fill="#fff">GSEA analysis</text>
</g>
<g id="pi">
<text x="0" y="1758" font-size="42" stroke="#000" stroke-width=".7">i</text>
<text x="336.1" y="1762.8" font-size="25" text-anchor="middle" stroke="#000" stroke-width=".3">P7.5 Heart</text>
<line x1="159.1" y1="1770.5" x2="505" y2="1770.5" stroke="#000" stroke-width="2"/>
<text x="148.2" y="1801" font-size="24.9" stroke="#000" stroke-width=".3">Wild-type</text>
<text x="411.3" y="1801" font-size="24.4" stroke="#000" stroke-width=".3">Xinβ-KO</text>
<circle cx="135.1" cy="1863.3" r="16.3" fill="#2b2bf0" stroke="#2121bb" stroke-width="0.8"/>
<circle cx="148.7" cy="1902.6" r="16.3" fill="#3030ee" stroke="#2525b9" stroke-width="0.8"/>
<circle cx="178.7" cy="1942.3" r="17.4" fill="#4036e8" stroke="#312ab4" stroke-width="0.8"/>
<circle cx="228.3" cy="1981.6" r="15.3" fill="#6a3cc8" stroke="#522e9c" stroke-width="0.8"/>
<circle cx="439.1" cy="2021.3" r="10.9" fill="#cc4060" stroke="#9f314a" stroke-width="0.8"/>
<circle cx="446.7" cy="2060.5" r="15.3" fill="#d2405c" stroke="#a33147" stroke-width="0.8"/>
<circle cx="447.8" cy="2100.9" r="14.7" fill="#d2405c" stroke="#a33147" stroke-width="0.8"/>
<circle cx="470.1" cy="2140.6" r="14.2" fill="#de4052" stroke="#ad313f" stroke-width="0.8"/>
<circle cx="471.2" cy="2180.4" r="3.3" fill="#de4052" stroke="#ad313f" stroke-width="0.8"/>
<circle cx="472.3" cy="2220.2" r="6.5" fill="#e04050" stroke="#ae313e" stroke-width="0.8"/>
<circle cx="473.4" cy="2259.9" r="12" fill="#e2404c" stroke="#b0313b" stroke-width="0.8"/>
<circle cx="502.3" cy="2299.7" r="12" fill="#f04034" stroke="#bb3128" stroke-width="0.8"/>
<circle cx="529" cy="2338.9" r="4.4" fill="#f84a28" stroke="#c1391f" stroke-width="0.8"/>
<line x1="337.2" y1="1803.7" x2="337.2" y2="2394.8" stroke="#000" stroke-width="1.2" stroke-dasharray="2.2 1.8"/>
<line x1="103.5" y1="2394.8" x2="574.6" y2="2394.8" stroke="#000" stroke-width="3"/>
<line x1="573.1" y1="1806.4" x2="573.1" y2="2394.8" stroke="#000" stroke-width="3"/>
<path d="M573.1 1863.3h5.5M573.1 1902.6h5.5M573.1 1942.3h5.5M573.1 1981.6h5.5M573.1 2021.3h5.5M573.1 2060.5h5.5M573.1 2100.9h5.5M573.1 2140.6h5.5M573.1 2180.4h5.5M573.1 2220.2h5.5M573.1 2259.9h5.5M573.1 2299.7h5.5M573.1 2338.9h5.5M113.3 2394.8v6.5M150.6 2394.8v6.5M187.9 2394.8v6.5M225.3 2394.8v6.5M262.6 2394.8v6.5M299.9 2394.8v6.5M337.2 2394.8v6.5M374.5 2394.8v6.5M411.8 2394.8v6.5M449.1 2394.8v6.5M486.5 2394.8v6.5M523.8 2394.8v6.5M561.1 2394.8v6.5" stroke="#000" stroke-width="2.3" fill="none"/>
<text x="110.8" y="2418.2" font-size="16" text-anchor="middle" stroke="#000" stroke-width=".3">−3</text>
<text x="148.1" y="2418.2" font-size="16" text-anchor="middle" stroke="#000" stroke-width=".3">−2.5</text>
<text x="185.4" y="2418.2" font-size="16" text-anchor="middle" stroke="#000" stroke-width=".3">−2</text>
<text x="222.8" y="2418.2" font-size="16" text-anchor="middle" stroke="#000" stroke-width=".3">−1.5</text>
<text x="260.1" y="2418.2" font-size="16" text-anchor="middle" stroke="#000" stroke-width=".3">−1</text>
<text x="297.4" y="2418.2" font-size="16" text-anchor="middle" stroke="#000" stroke-width=".3">−0.5</text>
<text x="337.2" y="2418.2" font-size="16" text-anchor="middle" stroke="#000" stroke-width=".3">0</text>
<text x="374.5" y="2418.2" font-size="16" text-anchor="middle" stroke="#000" stroke-width=".3">0.5</text>
<text x="411.8" y="2418.2" font-size="16" text-anchor="middle" stroke="#000" stroke-width=".3">1</text>
<text x="449.1" y="2418.2" font-size="16" text-anchor="middle" stroke="#000" stroke-width=".3">1.5</text>
<text x="486.5" y="2418.2" font-size="16" text-anchor="middle" stroke="#000" stroke-width=".3">2</text>
<text x="523.8" y="2418.2" font-size="16" text-anchor="middle" stroke="#000" stroke-width=".3">2.5</text>
<text x="561.1" y="2418.2" font-size="16" text-anchor="middle" stroke="#000" stroke-width=".3">3</text>
<text x="336.1" y="2442.7" font-size="16.6" text-anchor="middle" stroke="#000" stroke-width=".3">Normalized enrichment score (NES)</text>
<text x="690.8" y="1866.4" font-size="20.6" text-anchor="middle" stroke="#000" stroke-width=".3">E2F_TARGETS</text>
<text x="690.8" y="1905" font-size="20.6" text-anchor="middle" stroke="#000" stroke-width=".3">G2M_CHECKPOINT</text>
<text x="690.8" y="1946.4" font-size="20.6" text-anchor="middle" stroke="#000" stroke-width=".3">MITOTIC_SPINDLE</text>
<text x="690.8" y="1987.3" font-size="20.6" text-anchor="middle" stroke="#000" stroke-width=".3">EMT_PROCESS</text>
<text x="690.8" y="2026" font-size="20.6" text-anchor="middle" stroke="#000" stroke-width=".3">APOPTOSIS</text>
<text x="690.8" y="2063" font-size="20.6" text-anchor="middle" stroke="#000" stroke-width=".3">P53_PATHWAY</text>
<text x="690.8" y="2094.1" font-size="20.6" text-anchor="middle" stroke="#000" stroke-width=".3">TNFA_SIGNALING_</text>
<text x="690.8" y="2119.7" font-size="20.6" text-anchor="middle" stroke="#000" stroke-width=".3">VIA_NFKB</text>
<text x="690.8" y="2148.5" font-size="20.6" text-anchor="middle" stroke="#000" stroke-width=".3">HYPOXIA</text>
<text x="690.8" y="2178.5" font-size="20.6" text-anchor="middle" stroke="#000" stroke-width=".3">IL6_JAK_STAT3_</text>
<text x="690.8" y="2203" font-size="20.6" text-anchor="middle" stroke="#000" stroke-width=".3">SIGNALING</text>
<text x="690.8" y="2227.5" font-size="20.6" text-anchor="middle" stroke="#000" stroke-width=".3">COAGULATION</text>
<text x="690.8" y="2264.6" font-size="20.6" text-anchor="middle" stroke="#000" stroke-width=".3">COMPLEMENT</text>
<text x="690.8" y="2291.3" font-size="20.6" text-anchor="middle" stroke="#000" stroke-width=".3">INTERFERON_</text>
<text x="690.8" y="2316.3" font-size="20.6" text-anchor="middle" stroke="#000" stroke-width=".3">GAMMA_RESPONSE</text>
<text x="690.8" y="2343" font-size="20.6" text-anchor="middle" stroke="#000" stroke-width=".3">INTERFERON_</text>
<text x="690.8" y="2368.1" font-size="20.6" text-anchor="middle" stroke="#000" stroke-width=".3">ALPHA_RESPONSE</text>
<text x="17.4" y="2186.7" font-size="16.4" stroke="#000" stroke-width=".3">NES</text>
<circle cx="25.6" cy="2210.7" r="6.9" fill="#f84a30" stroke="#c03020" stroke-width="0.8"/>
<text x="40.9" y="2216.6" font-size="16.5" stroke="#000" stroke-width=".3">Max (2.59)</text>
<circle cx="25.6" cy="2232.4" r="6.9" fill="#3030f8" stroke="#2020c0" stroke-width="0.8"/>
<text x="40.9" y="2238.4" font-size="16.5" stroke="#000" stroke-width=".3">Min (−2.69)</text>
<text x="17.4" y="2297.3" font-size="16.4" stroke="#000" stroke-width=".3">Gene size</text>
<circle cx="34.9" cy="2325.6" r="16.9" fill="#a3a3a3" stroke="#909090" stroke-width="0.8"/>
<text x="57.2" y="2332.1" font-size="16.5" stroke="#000" stroke-width=".3">≥ 197</text>
<circle cx="21.8" cy="2356.7" r="3.5" fill="#a3a3a3"/>
<text x="30" y="2362.1" font-size="16.5" stroke="#000" stroke-width=".3">≤ 63</text>
<text x="1025.1" y="1763.3" font-size="24.8" text-anchor="middle" stroke="#000" stroke-width=".3">P4 NRVCM</text>
<line x1="858.8" y1="1770.2" x2="1204.1" y2="1770.2" stroke="#000" stroke-width="2"/>
<text x="853.9" y="1801.2" font-size="24.9" stroke="#000" stroke-width=".3">Ad-LacZ</text>
<text x="1112.1" y="1801.2" font-size="25.1" stroke="#000" stroke-width=".3">Ad-aYAP</text>
<circle cx="1185" cy="1862" r="14.3" fill="#fa4a30" stroke="#c33925" stroke-width="0.8"/>
<circle cx="1179" cy="1902.2" r="16.1" fill="#fa4a30" stroke="#c33925" stroke-width="0.8"/>
<circle cx="1171.8" cy="1941.6" r="13.5" fill="#f24a38" stroke="#bc392b" stroke-width="0.8"/>
<circle cx="918.9" cy="1981" r="13.9" fill="#6a38c8" stroke="#522b9c" stroke-width="0.8"/>
<circle cx="905.7" cy="2021.5" r="12.8" fill="#5c38d0" stroke="#472ba2" stroke-width="0.8"/>
<circle cx="902" cy="2061.7" r="14.6" fill="#5838d8" stroke="#442ba8" stroke-width="0.8"/>
<circle cx="862.2" cy="2101.1" r="15.4" fill="#3030f0" stroke="#2525bb" stroke-width="0.8"/>
<circle cx="912.5" cy="2140.9" r="15.4" fill="#6438c8" stroke="#4e2b9c" stroke-width="0.8"/>
<circle cx="870.4" cy="2180.3" r="4.1" fill="#4038e8" stroke="#312bb4" stroke-width="0.8"/>
<circle cx="924.9" cy="2220.4" r="9" fill="#7a38b8" stroke="#5f2b8f" stroke-width="0.8"/>
<circle cx="887.3" cy="2260.6" r="14.6" fill="#5036d8" stroke="#3e2aa8" stroke-width="0.8"/>
<circle cx="837" cy="2300" r="14.3" fill="#2a2af4" stroke="#2020be" stroke-width="0.8"/>
<circle cx="835.9" cy="2339.8" r="4.5" fill="#2a2af4" stroke="#2020be" stroke-width="0.8"/>
<line x1="1017.9" y1="1803" x2="1017.9" y2="2393.8" stroke="#000" stroke-width="1.2" stroke-dasharray="2.2 1.8"/>
<line x1="806.6" y1="2393.8" x2="1214.2" y2="2393.8" stroke="#000" stroke-width="3"/>
<line x1="808.1" y1="1806.8" x2="808.1" y2="2393.8" stroke="#000" stroke-width="3"/>
<path d="M808.1 1862h-5.5M808.1 1902.2h-5.5M808.1 1941.6h-5.5M808.1 1981h-5.5M808.1 2021.5h-5.5M808.1 2061.7h-5.5M808.1 2101.1h-5.5M808.1 2140.9h-5.5M808.1 2180.3h-5.5M808.1 2220.4h-5.5M808.1 2260.6h-5.5M808.1 2300h-5.5M808.1 2339.8h-5.5M834 2393.8v6.5M864.6 2393.8v6.5M895.3 2393.8v6.5M926 2393.8v6.5M956.6 2393.8v6.5M987.2 2393.8v6.5M1017.9 2393.8v6.5M1048.5 2393.8v6.5M1079.2 2393.8v6.5M1109.8 2393.8v6.5M1140.5 2393.8v6.5M1171.2 2393.8v6.5M1201.8 2393.8v6.5" stroke="#000" stroke-width="2.3" fill="none"/>
<text x="831.5" y="2417.5" font-size="16" text-anchor="middle" stroke="#000" stroke-width=".3">−3</text>
<text x="862.1" y="2417.5" font-size="16" text-anchor="middle" stroke="#000" stroke-width=".3">−2.5</text>
<text x="892.8" y="2417.5" font-size="16" text-anchor="middle" stroke="#000" stroke-width=".3">−2</text>
<text x="923.5" y="2417.5" font-size="16" text-anchor="middle" stroke="#000" stroke-width=".3">−1.5</text>
<text x="954.1" y="2417.5" font-size="16" text-anchor="middle" stroke="#000" stroke-width=".3">−1</text>
<text x="984.8" y="2417.5" font-size="16" text-anchor="middle" stroke="#000" stroke-width=".3">−0.5</text>
<text x="1017.9" y="2417.5" font-size="16" text-anchor="middle" stroke="#000" stroke-width=".3">0</text>
<text x="1048.5" y="2417.5" font-size="16" text-anchor="middle" stroke="#000" stroke-width=".3">0.5</text>
<text x="1079.2" y="2417.5" font-size="16" text-anchor="middle" stroke="#000" stroke-width=".3">1</text>
<text x="1109.8" y="2417.5" font-size="16" text-anchor="middle" stroke="#000" stroke-width=".3">1.5</text>
<text x="1140.5" y="2417.5" font-size="16" text-anchor="middle" stroke="#000" stroke-width=".3">2</text>
<text x="1171.2" y="2417.5" font-size="16" text-anchor="middle" stroke="#000" stroke-width=".3">2.5</text>
<text x="1201.8" y="2417.5" font-size="16" text-anchor="middle" stroke="#000" stroke-width=".3">3</text>
<text x="1027.7" y="2441.1" font-size="16.6" text-anchor="middle" stroke="#000" stroke-width=".3">Normalized enrichment score (NES)</text>
<text x="1226.6" y="2189.6" font-size="16.4" stroke="#000" stroke-width=".3">NES</text>
<circle cx="1234.1" cy="2212.9" r="6.8" fill="#f84a30" stroke="#c03020" stroke-width="0.8"/>
<text x="1249.1" y="2218.5" font-size="16.5" stroke="#000" stroke-width=".3">Max (2.71)</text>
<circle cx="1234.1" cy="2233.6" r="6.8" fill="#3030f8" stroke="#2020c0" stroke-width="0.8"/>
<text x="1249.1" y="2239.2" font-size="16.5" stroke="#000" stroke-width=".3">Min (−2.96)</text>
<text x="1226.6" y="2298.5" font-size="16.4" stroke="#000" stroke-width=".3">Gene size</text>
<circle cx="1243.5" cy="2327.4" r="16.1" fill="#a3a3a3" stroke="#909090" stroke-width="0.8"/>
<text x="1265.3" y="2333" font-size="16.5" stroke="#000" stroke-width=".3">≥ 187</text>
<circle cx="1231.1" cy="2358.2" r="4" fill="#a3a3a3"/>
<text x="1240.9" y="2363.7" font-size="16.5" stroke="#000" stroke-width=".3">≤ 78</text>
</g>
</svg>
</body></html>
